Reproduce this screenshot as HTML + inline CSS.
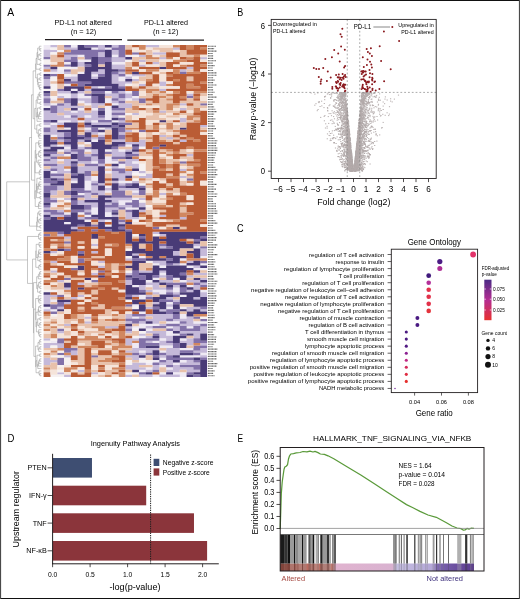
<!DOCTYPE html>
<html><head><meta charset="utf-8"><title>Figure</title>
<style>
html,body{margin:0;padding:0;background:#fff;}
svg{display:block;font-family:"Liberation Sans",sans-serif;will-change:transform;}
</style></head><body>
<svg width="520" height="599" viewBox="0 0 520 599">
<rect width="520" height="599" fill="#ffffff"/>
<defs><filter id="hb" x="-2%" y="-2%" width="104%" height="104%"><feGaussianBlur stdDeviation="0.45"/></filter></defs>
<g filter="url(#hb)">
<path fill="#efeaf4" d="M43.6 45h6.86v4.9h-6.86zM43.6 71.66h6.86v2.47h-6.86zM43.6 105.58h6.86v2.47h-6.86zM43.6 124.97h6.86v2.47h-6.86zM43.6 306.72h6.86v2.47h-6.86zM50.41 71.66h6.86v2.47h-6.86zM50.41 98.31h6.86v2.47h-6.86zM50.41 103.16h6.86v2.47h-6.86zM50.41 122.55h6.86v2.47h-6.86zM50.41 134.66h6.86v2.47h-6.86zM50.41 171.01h6.86v2.47h-6.86zM50.41 202.52h6.86v4.9h-6.86zM50.41 299.45h6.86v2.47h-6.86zM50.41 309.15h6.86v2.47h-6.86zM50.41 340.65h6.86v2.47h-6.86zM57.22 69.23h6.86v4.9h-6.86zM57.22 93.47h6.86v2.47h-6.86zM57.22 120.12h6.86v2.47h-6.86zM57.22 144.36h6.86v2.47h-6.86zM57.22 149.2h6.86v2.47h-6.86zM57.22 158.9h6.86v2.47h-6.86zM64.03 61.96h6.86v2.47h-6.86zM64.03 83.77h6.86v2.47h-6.86zM64.03 93.47h6.86v4.9h-6.86zM64.03 115.28h6.86v2.47h-6.86zM64.03 120.12h6.86v2.47h-6.86zM64.03 127.39h6.86v2.47h-6.86zM64.03 146.78h6.86v2.47h-6.86zM64.03 154.05h6.86v2.47h-6.86zM64.03 168.59h6.86v2.47h-6.86zM64.03 212.21h6.86v2.47h-6.86zM64.03 221.91h6.86v2.47h-6.86zM70.83 45h6.86v2.47h-6.86zM70.83 66.81h6.86v2.47h-6.86zM70.83 74.08h6.86v2.47h-6.86zM70.83 88.62h6.86v2.47h-6.86zM70.83 110.43h6.86v2.47h-6.86zM70.83 180.71h6.86v2.47h-6.86zM77.64 54.69h6.86v2.47h-6.86zM77.64 59.54h6.86v2.47h-6.86zM77.64 71.66h6.86v2.47h-6.86zM77.64 93.47h6.86v4.9h-6.86zM77.64 100.74h6.86v2.47h-6.86zM77.64 108.01h6.86v2.47h-6.86zM77.64 120.12h6.86v2.47h-6.86zM77.64 144.36h6.86v2.47h-6.86zM77.64 192.82h6.86v2.47h-6.86zM77.64 212.21h6.86v2.47h-6.86zM84.45 59.54h6.86v2.47h-6.86zM84.45 95.89h6.86v2.47h-6.86zM84.45 103.16h6.86v2.47h-6.86zM84.45 115.28h6.86v2.47h-6.86zM84.45 127.39h6.86v2.47h-6.86zM84.45 141.93h6.86v2.47h-6.86zM84.45 149.2h6.86v2.47h-6.86zM84.45 180.71h6.86v9.74h-6.86zM84.45 214.64h6.86v2.47h-6.86zM84.45 219.48h6.86v2.47h-6.86zM91.26 47.42h6.86v2.47h-6.86zM91.26 74.08h6.86v2.47h-6.86zM91.26 108.01h6.86v2.47h-6.86zM91.26 120.12h6.86v2.47h-6.86zM91.26 139.51h6.86v2.47h-6.86zM91.26 161.32h6.86v2.47h-6.86zM91.26 175.86h6.86v4.9h-6.86zM91.26 207.36h6.86v7.32h-6.86zM98.07 86.2h6.86v2.47h-6.86zM98.07 127.39h6.86v2.47h-6.86zM98.07 132.24h6.86v2.47h-6.86zM104.88 47.42h6.86v2.47h-6.86zM104.88 91.04h6.86v2.47h-6.86zM104.88 98.31h6.86v4.9h-6.86zM104.88 105.58h6.86v14.59h-6.86zM104.88 149.2h6.86v2.47h-6.86zM104.88 156.47h6.86v7.32h-6.86zM104.88 166.17h6.86v2.47h-6.86zM104.88 171.01h6.86v2.47h-6.86zM104.88 185.55h6.86v2.47h-6.86zM104.88 190.4h6.86v2.47h-6.86zM104.88 212.21h6.86v4.9h-6.86zM104.88 219.48h6.86v2.47h-6.86zM104.88 224.33h6.86v2.47h-6.86zM111.68 54.69h6.86v2.47h-6.86zM111.68 61.96h6.86v2.47h-6.86zM111.68 103.16h6.86v2.47h-6.86zM111.68 120.12h6.86v2.47h-6.86zM111.68 161.32h6.86v2.47h-6.86zM118.49 61.96h6.86v2.47h-6.86zM118.49 76.5h6.86v4.9h-6.86zM118.49 115.28h6.86v2.47h-6.86zM118.49 149.2h6.86v2.47h-6.86zM118.49 163.74h6.86v4.9h-6.86zM118.49 180.71h6.86v2.47h-6.86zM118.49 200.09h6.86v4.9h-6.86zM125.3 54.69h6.86v2.47h-6.86zM125.3 74.08h6.86v2.47h-6.86zM125.3 91.04h6.86v2.47h-6.86zM125.3 98.31h6.86v2.47h-6.86zM125.3 144.36h6.86v2.47h-6.86zM125.3 180.71h6.86v2.47h-6.86zM125.3 200.09h6.86v2.47h-6.86zM125.3 207.36h6.86v2.47h-6.86zM132.11 95.89h6.86v2.47h-6.86zM132.11 161.32h6.86v2.47h-6.86zM132.11 171.01h6.86v2.47h-6.86zM132.11 190.4h6.86v2.47h-6.86zM132.11 197.67h6.86v2.47h-6.86zM132.11 207.36h6.86v2.47h-6.86zM132.11 284.91h6.86v2.47h-6.86zM132.11 304.3h6.86v2.47h-6.86zM132.11 316.42h6.86v2.47h-6.86zM132.11 326.11h6.86v2.47h-6.86zM132.11 343.07h6.86v4.9h-6.86zM132.11 372.15h6.86v2.47h-6.86zM138.92 255.83h6.86v2.47h-6.86zM138.92 294.61h6.86v4.9h-6.86zM138.92 311.57h6.86v2.47h-6.86zM138.92 323.69h6.86v4.9h-6.86zM138.92 335.8h6.86v2.47h-6.86zM138.92 350.34h6.86v2.47h-6.86zM138.92 357.61h6.86v2.47h-6.86zM138.92 369.73h6.86v2.47h-6.86zM145.72 280.07h6.86v2.47h-6.86zM145.72 284.91h6.86v2.47h-6.86zM145.72 323.69h6.86v2.47h-6.86zM145.72 328.53h6.86v2.47h-6.86zM145.72 362.46h6.86v2.47h-6.86zM145.72 367.31h6.86v2.47h-6.86zM152.53 263.1h6.86v2.47h-6.86zM152.53 277.64h6.86v2.47h-6.86zM152.53 289.76h6.86v2.47h-6.86zM152.53 323.69h6.86v2.47h-6.86zM152.53 340.65h6.86v2.47h-6.86zM152.53 360.04h6.86v2.47h-6.86zM152.53 374.58h6.86v2.47h-6.86zM159.34 265.53h6.86v2.47h-6.86zM159.34 272.8h6.86v2.47h-6.86zM159.34 289.76h6.86v4.9h-6.86zM159.34 338.23h6.86v2.47h-6.86zM159.34 345.5h6.86v2.47h-6.86zM159.34 350.34h6.86v2.47h-6.86zM159.34 357.61h6.86v2.47h-6.86zM159.34 364.88h6.86v2.47h-6.86zM159.34 372.15h6.86v2.47h-6.86zM166.15 301.88h6.86v2.47h-6.86zM166.15 306.72h6.86v2.47h-6.86zM166.15 321.26h6.86v2.47h-6.86zM166.15 326.11h6.86v2.47h-6.86zM166.15 330.96h6.86v4.9h-6.86zM166.15 345.5h6.86v2.47h-6.86zM166.15 367.31h6.86v2.47h-6.86zM172.96 277.64h6.86v2.47h-6.86zM172.96 287.34h6.86v4.9h-6.86zM172.96 321.26h6.86v2.47h-6.86zM172.96 333.38h6.86v2.47h-6.86zM172.96 362.46h6.86v2.47h-6.86zM172.96 372.15h6.86v2.47h-6.86zM179.77 258.26h6.86v2.47h-6.86zM179.77 263.1h6.86v2.47h-6.86zM179.77 280.07h6.86v2.47h-6.86zM179.77 294.61h6.86v2.47h-6.86zM179.77 306.72h6.86v2.47h-6.86zM179.77 313.99h6.86v4.9h-6.86zM179.77 338.23h6.86v2.47h-6.86zM179.77 347.92h6.86v2.47h-6.86zM179.77 355.19h6.86v2.47h-6.86zM179.77 360.04h6.86v2.47h-6.86zM179.77 372.15h6.86v4.9h-6.86zM186.57 265.53h6.86v2.47h-6.86zM186.57 284.91h6.86v2.47h-6.86zM186.57 326.11h6.86v2.47h-6.86zM186.57 347.92h6.86v2.47h-6.86zM186.57 355.19h6.86v2.47h-6.86zM193.38 246.14h6.86v2.47h-6.86zM193.38 267.95h6.86v2.47h-6.86zM193.38 321.26h6.86v2.47h-6.86zM193.38 355.19h6.86v2.47h-6.86zM200.19 255.83h6.86v2.47h-6.86zM200.19 263.1h6.86v2.47h-6.86zM200.19 267.95h6.86v2.47h-6.86zM200.19 289.76h6.86v2.47h-6.86zM200.19 321.26h6.86v2.47h-6.86zM200.19 352.77h6.86v2.47h-6.86z"/>
<path fill="#c5b9d9" d="M43.6 49.85h6.86v7.32h-6.86zM43.6 66.81h6.86v2.47h-6.86zM43.6 78.93h6.86v7.32h-6.86zM43.6 95.89h6.86v2.47h-6.86zM43.6 103.16h6.86v2.47h-6.86zM43.6 110.43h6.86v9.74h-6.86zM43.6 122.55h6.86v2.47h-6.86zM43.6 132.24h6.86v2.47h-6.86zM43.6 146.78h6.86v2.47h-6.86zM43.6 156.47h6.86v2.47h-6.86zM43.6 161.32h6.86v2.47h-6.86zM43.6 168.59h6.86v2.47h-6.86zM43.6 183.13h6.86v2.47h-6.86zM43.6 207.36h6.86v2.47h-6.86zM43.6 212.21h6.86v2.47h-6.86zM43.6 294.61h6.86v9.74h-6.86zM43.6 309.15h6.86v2.47h-6.86zM43.6 338.23h6.86v2.47h-6.86zM43.6 343.07h6.86v4.9h-6.86zM43.6 357.61h6.86v7.32h-6.86zM50.41 45h6.86v2.47h-6.86zM50.41 49.85h6.86v2.47h-6.86zM50.41 69.23h6.86v2.47h-6.86zM50.41 112.85h6.86v7.32h-6.86zM50.41 124.97h6.86v9.74h-6.86zM50.41 144.36h6.86v2.47h-6.86zM50.41 154.05h6.86v2.47h-6.86zM50.41 158.9h6.86v4.9h-6.86zM50.41 166.17h6.86v2.47h-6.86zM50.41 175.86h6.86v2.47h-6.86zM50.41 190.4h6.86v4.9h-6.86zM50.41 197.67h6.86v2.47h-6.86zM50.41 214.64h6.86v2.47h-6.86zM50.41 250.99h6.86v2.47h-6.86zM50.41 260.68h6.86v2.47h-6.86zM50.41 270.37h6.86v2.47h-6.86zM50.41 294.61h6.86v2.47h-6.86zM50.41 343.07h6.86v2.47h-6.86zM50.41 360.04h6.86v2.47h-6.86zM57.22 91.04h6.86v2.47h-6.86zM57.22 95.89h6.86v2.47h-6.86zM57.22 105.58h6.86v7.32h-6.86zM57.22 115.28h6.86v4.9h-6.86zM57.22 122.55h6.86v2.47h-6.86zM57.22 132.24h6.86v4.9h-6.86zM57.22 139.51h6.86v2.47h-6.86zM57.22 154.05h6.86v2.47h-6.86zM57.22 163.74h6.86v9.74h-6.86zM57.22 175.86h6.86v2.47h-6.86zM57.22 185.55h6.86v4.9h-6.86zM57.22 209.79h6.86v2.47h-6.86zM57.22 214.64h6.86v2.47h-6.86zM57.22 234.02h6.86v2.47h-6.86zM57.22 280.07h6.86v2.47h-6.86zM57.22 306.72h6.86v2.47h-6.86zM57.22 330.96h6.86v2.47h-6.86zM57.22 343.07h6.86v4.9h-6.86zM57.22 372.15h6.86v2.47h-6.86zM64.03 47.42h6.86v2.47h-6.86zM64.03 54.69h6.86v4.9h-6.86zM64.03 71.66h6.86v2.47h-6.86zM64.03 76.5h6.86v2.47h-6.86zM64.03 91.04h6.86v2.47h-6.86zM64.03 103.16h6.86v4.9h-6.86zM64.03 110.43h6.86v4.9h-6.86zM64.03 117.7h6.86v2.47h-6.86zM64.03 144.36h6.86v2.47h-6.86zM64.03 149.2h6.86v2.47h-6.86zM64.03 158.9h6.86v7.32h-6.86zM64.03 171.01h6.86v2.47h-6.86zM64.03 197.67h6.86v2.47h-6.86zM64.03 236.45h6.86v2.47h-6.86zM64.03 287.34h6.86v2.47h-6.86zM64.03 301.88h6.86v2.47h-6.86zM64.03 323.69h6.86v2.47h-6.86zM64.03 355.19h6.86v2.47h-6.86zM64.03 374.58h6.86v2.47h-6.86zM70.83 47.42h6.86v2.47h-6.86zM70.83 54.69h6.86v2.47h-6.86zM70.83 76.5h6.86v4.9h-6.86zM70.83 93.47h6.86v4.9h-6.86zM70.83 105.58h6.86v2.47h-6.86zM70.83 112.85h6.86v2.47h-6.86zM70.83 117.7h6.86v4.9h-6.86zM70.83 151.63h6.86v2.47h-6.86zM70.83 158.9h6.86v2.47h-6.86zM70.83 178.28h6.86v2.47h-6.86zM70.83 226.75h6.86v2.47h-6.86zM70.83 297.03h6.86v2.47h-6.86zM70.83 350.34h6.86v4.9h-6.86zM77.64 61.96h6.86v4.9h-6.86zM77.64 91.04h6.86v2.47h-6.86zM77.64 98.31h6.86v2.47h-6.86zM77.64 105.58h6.86v2.47h-6.86zM77.64 110.43h6.86v7.32h-6.86zM77.64 139.51h6.86v2.47h-6.86zM77.64 146.78h6.86v2.47h-6.86zM77.64 161.32h6.86v2.47h-6.86zM77.64 166.17h6.86v7.32h-6.86zM77.64 200.09h6.86v4.9h-6.86zM77.64 217.06h6.86v2.47h-6.86zM77.64 282.49h6.86v2.47h-6.86zM77.64 294.61h6.86v2.47h-6.86zM77.64 369.73h6.86v2.47h-6.86zM84.45 88.62h6.86v2.47h-6.86zM84.45 98.31h6.86v4.9h-6.86zM84.45 112.85h6.86v2.47h-6.86zM84.45 117.7h6.86v4.9h-6.86zM84.45 129.82h6.86v2.47h-6.86zM84.45 154.05h6.86v2.47h-6.86zM84.45 161.32h6.86v2.47h-6.86zM84.45 166.17h6.86v4.9h-6.86zM84.45 175.86h6.86v4.9h-6.86zM84.45 192.82h6.86v7.32h-6.86zM84.45 202.52h6.86v2.47h-6.86zM84.45 209.79h6.86v2.47h-6.86zM84.45 316.42h6.86v2.47h-6.86zM84.45 321.26h6.86v2.47h-6.86zM91.26 71.66h6.86v2.47h-6.86zM91.26 76.5h6.86v2.47h-6.86zM91.26 86.2h6.86v2.47h-6.86zM91.26 103.16h6.86v4.9h-6.86zM91.26 110.43h6.86v9.74h-6.86zM91.26 122.55h6.86v2.47h-6.86zM91.26 132.24h6.86v2.47h-6.86zM91.26 137.09h6.86v2.47h-6.86zM91.26 149.2h6.86v4.9h-6.86zM91.26 156.47h6.86v4.9h-6.86zM91.26 166.17h6.86v4.9h-6.86zM91.26 180.71h6.86v2.47h-6.86zM91.26 185.55h6.86v7.32h-6.86zM91.26 197.67h6.86v2.47h-6.86zM91.26 202.52h6.86v4.9h-6.86zM91.26 243.72h6.86v2.47h-6.86zM91.26 250.99h6.86v2.47h-6.86zM91.26 272.8h6.86v2.47h-6.86zM91.26 372.15h6.86v2.47h-6.86zM98.07 45h6.86v4.9h-6.86zM98.07 52.27h6.86v4.9h-6.86zM98.07 69.23h6.86v4.9h-6.86zM98.07 103.16h6.86v2.47h-6.86zM98.07 117.7h6.86v2.47h-6.86zM98.07 122.55h6.86v2.47h-6.86zM98.07 134.66h6.86v2.47h-6.86zM98.07 163.74h6.86v2.47h-6.86zM98.07 183.13h6.86v2.47h-6.86zM98.07 190.4h6.86v4.9h-6.86zM98.07 219.48h6.86v2.47h-6.86zM98.07 260.68h6.86v2.47h-6.86zM98.07 265.53h6.86v2.47h-6.86zM104.88 93.47h6.86v2.47h-6.86zM104.88 122.55h6.86v2.47h-6.86zM104.88 127.39h6.86v2.47h-6.86zM104.88 187.98h6.86v2.47h-6.86zM104.88 197.67h6.86v2.47h-6.86zM104.88 202.52h6.86v2.47h-6.86zM104.88 207.36h6.86v4.9h-6.86zM104.88 326.11h6.86v2.47h-6.86zM111.68 45h6.86v2.47h-6.86zM111.68 49.85h6.86v4.9h-6.86zM111.68 57.12h6.86v4.9h-6.86zM111.68 64.39h6.86v4.9h-6.86zM111.68 74.08h6.86v9.74h-6.86zM111.68 93.47h6.86v4.9h-6.86zM111.68 100.74h6.86v2.47h-6.86zM111.68 110.43h6.86v2.47h-6.86zM111.68 115.28h6.86v2.47h-6.86zM111.68 139.51h6.86v2.47h-6.86zM111.68 149.2h6.86v7.32h-6.86zM111.68 158.9h6.86v2.47h-6.86zM111.68 166.17h6.86v2.47h-6.86zM111.68 171.01h6.86v7.32h-6.86zM111.68 180.71h6.86v2.47h-6.86zM111.68 197.67h6.86v4.9h-6.86zM111.68 207.36h6.86v2.47h-6.86zM111.68 214.64h6.86v2.47h-6.86zM111.68 326.11h6.86v2.47h-6.86zM118.49 57.12h6.86v4.9h-6.86zM118.49 64.39h6.86v4.9h-6.86zM118.49 71.66h6.86v2.47h-6.86zM118.49 81.35h6.86v4.9h-6.86zM118.49 91.04h6.86v2.47h-6.86zM118.49 98.31h6.86v2.47h-6.86zM118.49 103.16h6.86v4.9h-6.86zM118.49 110.43h6.86v2.47h-6.86zM118.49 120.12h6.86v2.47h-6.86zM118.49 132.24h6.86v2.47h-6.86zM118.49 139.51h6.86v2.47h-6.86zM118.49 151.63h6.86v4.9h-6.86zM118.49 173.44h6.86v7.32h-6.86zM118.49 183.13h6.86v2.47h-6.86zM118.49 187.98h6.86v2.47h-6.86zM118.49 197.67h6.86v2.47h-6.86zM118.49 204.94h6.86v2.47h-6.86zM118.49 221.91h6.86v2.47h-6.86zM125.3 76.5h6.86v2.47h-6.86zM125.3 81.35h6.86v2.47h-6.86zM125.3 93.47h6.86v4.9h-6.86zM125.3 103.16h6.86v4.9h-6.86zM125.3 129.82h6.86v2.47h-6.86zM125.3 141.93h6.86v2.47h-6.86zM125.3 149.2h6.86v2.47h-6.86zM125.3 158.9h6.86v7.32h-6.86zM125.3 171.01h6.86v4.9h-6.86zM125.3 187.98h6.86v2.47h-6.86zM125.3 197.67h6.86v2.47h-6.86zM125.3 204.94h6.86v2.47h-6.86zM125.3 212.21h6.86v7.32h-6.86zM125.3 258.26h6.86v2.47h-6.86zM125.3 272.8h6.86v2.47h-6.86zM125.3 280.07h6.86v4.9h-6.86zM125.3 313.99h6.86v4.9h-6.86zM125.3 321.26h6.86v2.47h-6.86zM125.3 326.11h6.86v2.47h-6.86zM125.3 330.96h6.86v2.47h-6.86zM125.3 338.23h6.86v7.32h-6.86zM125.3 350.34h6.86v2.47h-6.86zM125.3 355.19h6.86v2.47h-6.86zM125.3 364.88h6.86v4.9h-6.86zM125.3 374.58h6.86v2.47h-6.86zM132.11 74.08h6.86v2.47h-6.86zM132.11 78.93h6.86v2.47h-6.86zM132.11 98.31h6.86v2.47h-6.86zM132.11 112.85h6.86v2.47h-6.86zM132.11 141.93h6.86v2.47h-6.86zM132.11 151.63h6.86v2.47h-6.86zM132.11 158.9h6.86v2.47h-6.86zM132.11 163.74h6.86v4.9h-6.86zM132.11 180.71h6.86v2.47h-6.86zM132.11 187.98h6.86v2.47h-6.86zM132.11 192.82h6.86v2.47h-6.86zM132.11 217.06h6.86v2.47h-6.86zM132.11 253.41h6.86v2.47h-6.86zM132.11 294.61h6.86v2.47h-6.86zM132.11 338.23h6.86v2.47h-6.86zM132.11 347.92h6.86v4.9h-6.86zM132.11 355.19h6.86v4.9h-6.86zM132.11 362.46h6.86v7.32h-6.86zM138.92 54.69h6.86v2.47h-6.86zM138.92 59.54h6.86v2.47h-6.86zM138.92 64.39h6.86v2.47h-6.86zM138.92 74.08h6.86v2.47h-6.86zM138.92 83.77h6.86v2.47h-6.86zM138.92 139.51h6.86v7.32h-6.86zM138.92 171.01h6.86v2.47h-6.86zM138.92 175.86h6.86v2.47h-6.86zM138.92 197.67h6.86v2.47h-6.86zM138.92 202.52h6.86v4.9h-6.86zM138.92 209.79h6.86v2.47h-6.86zM138.92 270.37h6.86v2.47h-6.86zM138.92 284.91h6.86v4.9h-6.86zM138.92 316.42h6.86v2.47h-6.86zM138.92 321.26h6.86v2.47h-6.86zM138.92 333.38h6.86v2.47h-6.86zM138.92 347.92h6.86v2.47h-6.86zM138.92 352.77h6.86v2.47h-6.86zM138.92 362.46h6.86v2.47h-6.86zM138.92 367.31h6.86v2.47h-6.86zM138.92 374.58h6.86v2.47h-6.86zM145.72 45h6.86v2.47h-6.86zM145.72 173.44h6.86v4.9h-6.86zM145.72 270.37h6.86v2.47h-6.86zM145.72 282.49h6.86v2.47h-6.86zM145.72 289.76h6.86v2.47h-6.86zM145.72 294.61h6.86v2.47h-6.86zM145.72 306.72h6.86v2.47h-6.86zM145.72 313.99h6.86v2.47h-6.86zM145.72 318.84h6.86v2.47h-6.86zM145.72 326.11h6.86v2.47h-6.86zM145.72 330.96h6.86v2.47h-6.86zM145.72 335.8h6.86v2.47h-6.86zM145.72 340.65h6.86v2.47h-6.86zM145.72 347.92h6.86v4.9h-6.86zM145.72 369.73h6.86v2.47h-6.86zM145.72 374.58h6.86v2.47h-6.86zM152.53 45h6.86v2.47h-6.86zM152.53 52.27h6.86v2.47h-6.86zM152.53 61.96h6.86v2.47h-6.86zM152.53 231.6h6.86v2.47h-6.86zM152.53 260.68h6.86v2.47h-6.86zM152.53 282.49h6.86v7.32h-6.86zM152.53 292.18h6.86v2.47h-6.86zM152.53 301.88h6.86v2.47h-6.86zM152.53 313.99h6.86v9.74h-6.86zM152.53 330.96h6.86v2.47h-6.86zM152.53 347.92h6.86v2.47h-6.86zM152.53 364.88h6.86v4.9h-6.86zM159.34 52.27h6.86v2.47h-6.86zM159.34 57.12h6.86v2.47h-6.86zM159.34 81.35h6.86v4.9h-6.86zM159.34 88.62h6.86v2.47h-6.86zM159.34 110.43h6.86v2.47h-6.86zM159.34 134.66h6.86v2.47h-6.86zM159.34 192.82h6.86v2.47h-6.86zM159.34 214.64h6.86v2.47h-6.86zM159.34 234.02h6.86v2.47h-6.86zM159.34 246.14h6.86v2.47h-6.86zM159.34 260.68h6.86v4.9h-6.86zM159.34 270.37h6.86v2.47h-6.86zM159.34 275.22h6.86v2.47h-6.86zM159.34 280.07h6.86v2.47h-6.86zM159.34 287.34h6.86v2.47h-6.86zM159.34 309.15h6.86v2.47h-6.86zM159.34 313.99h6.86v7.32h-6.86zM159.34 323.69h6.86v2.47h-6.86zM159.34 330.96h6.86v7.32h-6.86zM159.34 340.65h6.86v4.9h-6.86zM159.34 355.19h6.86v2.47h-6.86zM159.34 362.46h6.86v2.47h-6.86zM159.34 374.58h6.86v2.47h-6.86zM166.15 137.09h6.86v2.47h-6.86zM166.15 280.07h6.86v2.47h-6.86zM166.15 289.76h6.86v2.47h-6.86zM166.15 297.03h6.86v2.47h-6.86zM166.15 304.3h6.86v2.47h-6.86zM166.15 313.99h6.86v4.9h-6.86zM166.15 335.8h6.86v4.9h-6.86zM166.15 343.07h6.86v2.47h-6.86zM166.15 347.92h6.86v7.32h-6.86zM166.15 360.04h6.86v4.9h-6.86zM166.15 369.73h6.86v2.47h-6.86zM166.15 374.58h6.86v2.47h-6.86zM172.96 47.42h6.86v2.47h-6.86zM172.96 250.99h6.86v4.9h-6.86zM172.96 263.1h6.86v2.47h-6.86zM172.96 284.91h6.86v2.47h-6.86zM172.96 292.18h6.86v2.47h-6.86zM172.96 299.45h6.86v2.47h-6.86zM172.96 318.84h6.86v2.47h-6.86zM172.96 326.11h6.86v4.9h-6.86zM172.96 347.92h6.86v7.32h-6.86zM172.96 364.88h6.86v7.32h-6.86zM172.96 374.58h6.86v2.47h-6.86zM179.77 69.23h6.86v2.47h-6.86zM179.77 103.16h6.86v2.47h-6.86zM179.77 108.01h6.86v2.47h-6.86zM179.77 117.7h6.86v4.9h-6.86zM179.77 139.51h6.86v2.47h-6.86zM179.77 168.59h6.86v2.47h-6.86zM179.77 175.86h6.86v2.47h-6.86zM179.77 217.06h6.86v2.47h-6.86zM179.77 318.84h6.86v2.47h-6.86zM179.77 323.69h6.86v2.47h-6.86zM179.77 330.96h6.86v2.47h-6.86zM179.77 340.65h6.86v2.47h-6.86zM179.77 362.46h6.86v2.47h-6.86zM179.77 367.31h6.86v2.47h-6.86zM186.57 66.81h6.86v2.47h-6.86zM186.57 93.47h6.86v2.47h-6.86zM186.57 154.05h6.86v2.47h-6.86zM186.57 260.68h6.86v2.47h-6.86zM186.57 275.22h6.86v2.47h-6.86zM186.57 280.07h6.86v2.47h-6.86zM186.57 289.76h6.86v2.47h-6.86zM186.57 306.72h6.86v4.9h-6.86zM186.57 316.42h6.86v9.74h-6.86zM186.57 330.96h6.86v2.47h-6.86zM186.57 338.23h6.86v7.32h-6.86zM186.57 360.04h6.86v4.9h-6.86zM186.57 367.31h6.86v4.9h-6.86zM193.38 243.72h6.86v2.47h-6.86zM193.38 265.53h6.86v2.47h-6.86zM193.38 272.8h6.86v2.47h-6.86zM193.38 280.07h6.86v2.47h-6.86zM193.38 284.91h6.86v4.9h-6.86zM193.38 297.03h6.86v2.47h-6.86zM193.38 306.72h6.86v2.47h-6.86zM193.38 323.69h6.86v2.47h-6.86zM193.38 330.96h6.86v7.32h-6.86zM193.38 350.34h6.86v2.47h-6.86zM193.38 362.46h6.86v2.47h-6.86zM193.38 369.73h6.86v2.47h-6.86zM200.19 57.12h6.86v2.47h-6.86zM200.19 124.97h6.86v2.47h-6.86zM200.19 248.56h6.86v7.32h-6.86zM200.19 272.8h6.86v2.47h-6.86zM200.19 277.64h6.86v2.47h-6.86zM200.19 282.49h6.86v2.47h-6.86zM200.19 292.18h6.86v4.9h-6.86zM200.19 309.15h6.86v2.47h-6.86zM200.19 326.11h6.86v7.32h-6.86zM200.19 343.07h6.86v2.47h-6.86zM200.19 347.92h6.86v4.9h-6.86zM200.19 355.19h6.86v2.47h-6.86z"/>
<path fill="#8271a9" d="M43.6 57.12h6.86v2.47h-6.86zM43.6 64.39h6.86v2.47h-6.86zM43.6 76.5h6.86v2.47h-6.86zM43.6 93.47h6.86v2.47h-6.86zM43.6 98.31h6.86v4.9h-6.86zM43.6 120.12h6.86v2.47h-6.86zM43.6 127.39h6.86v4.9h-6.86zM43.6 151.63h6.86v2.47h-6.86zM43.6 158.9h6.86v2.47h-6.86zM43.6 163.74h6.86v2.47h-6.86zM43.6 178.28h6.86v4.9h-6.86zM43.6 185.55h6.86v7.32h-6.86zM43.6 197.67h6.86v4.9h-6.86zM43.6 204.94h6.86v2.47h-6.86zM43.6 209.79h6.86v2.47h-6.86zM43.6 217.06h6.86v2.47h-6.86zM43.6 234.02h6.86v2.47h-6.86zM50.41 74.08h6.86v2.47h-6.86zM50.41 105.58h6.86v7.32h-6.86zM50.41 139.51h6.86v2.47h-6.86zM50.41 151.63h6.86v2.47h-6.86zM50.41 156.47h6.86v2.47h-6.86zM50.41 163.74h6.86v2.47h-6.86zM50.41 168.59h6.86v2.47h-6.86zM50.41 173.44h6.86v2.47h-6.86zM50.41 180.71h6.86v2.47h-6.86zM50.41 185.55h6.86v4.9h-6.86zM50.41 200.09h6.86v2.47h-6.86zM50.41 209.79h6.86v4.9h-6.86zM50.41 304.3h6.86v4.9h-6.86zM50.41 311.57h6.86v2.47h-6.86zM57.22 88.62h6.86v2.47h-6.86zM57.22 103.16h6.86v2.47h-6.86zM57.22 137.09h6.86v2.47h-6.86zM57.22 173.44h6.86v2.47h-6.86zM57.22 178.28h6.86v2.47h-6.86zM57.22 212.21h6.86v2.47h-6.86zM57.22 231.6h6.86v2.47h-6.86zM57.22 294.61h6.86v2.47h-6.86zM57.22 301.88h6.86v4.9h-6.86zM57.22 328.53h6.86v2.47h-6.86zM57.22 338.23h6.86v4.9h-6.86zM57.22 352.77h6.86v2.47h-6.86zM57.22 357.61h6.86v7.32h-6.86zM64.03 45h6.86v2.47h-6.86zM64.03 52.27h6.86v2.47h-6.86zM64.03 59.54h6.86v2.47h-6.86zM64.03 64.39h6.86v2.47h-6.86zM64.03 69.23h6.86v2.47h-6.86zM64.03 81.35h6.86v2.47h-6.86zM64.03 98.31h6.86v4.9h-6.86zM64.03 132.24h6.86v4.9h-6.86zM64.03 139.51h6.86v2.47h-6.86zM64.03 151.63h6.86v2.47h-6.86zM64.03 190.4h6.86v4.9h-6.86zM64.03 214.64h6.86v2.47h-6.86zM64.03 241.29h6.86v2.47h-6.86zM64.03 248.56h6.86v2.47h-6.86zM64.03 277.64h6.86v2.47h-6.86zM64.03 347.92h6.86v4.9h-6.86zM70.83 49.85h6.86v4.9h-6.86zM70.83 57.12h6.86v4.9h-6.86zM70.83 81.35h6.86v2.47h-6.86zM70.83 115.28h6.86v2.47h-6.86zM70.83 149.2h6.86v2.47h-6.86zM70.83 163.74h6.86v2.47h-6.86zM70.83 173.44h6.86v2.47h-6.86zM70.83 187.98h6.86v2.47h-6.86zM70.83 195.25h6.86v2.47h-6.86zM70.83 200.09h6.86v4.9h-6.86zM70.83 209.79h6.86v2.47h-6.86zM70.83 267.95h6.86v2.47h-6.86zM70.83 347.92h6.86v2.47h-6.86zM77.64 49.85h6.86v4.9h-6.86zM77.64 81.35h6.86v4.9h-6.86zM77.64 134.66h6.86v2.47h-6.86zM77.64 149.2h6.86v12.17h-6.86zM77.64 187.98h6.86v4.9h-6.86zM77.64 195.25h6.86v2.47h-6.86zM77.64 209.79h6.86v2.47h-6.86zM77.64 224.33h6.86v2.47h-6.86zM77.64 229.18h6.86v2.47h-6.86zM77.64 250.99h6.86v2.47h-6.86zM77.64 258.26h6.86v4.9h-6.86zM84.45 45h6.86v2.47h-6.86zM84.45 49.85h6.86v9.74h-6.86zM84.45 64.39h6.86v2.47h-6.86zM84.45 81.35h6.86v2.47h-6.86zM84.45 93.47h6.86v2.47h-6.86zM84.45 124.97h6.86v2.47h-6.86zM84.45 137.09h6.86v2.47h-6.86zM84.45 146.78h6.86v2.47h-6.86zM84.45 156.47h6.86v4.9h-6.86zM84.45 163.74h6.86v2.47h-6.86zM84.45 171.01h6.86v4.9h-6.86zM84.45 190.4h6.86v2.47h-6.86zM84.45 204.94h6.86v4.9h-6.86zM84.45 212.21h6.86v2.47h-6.86zM84.45 217.06h6.86v2.47h-6.86zM91.26 45h6.86v2.47h-6.86zM91.26 49.85h6.86v7.32h-6.86zM91.26 91.04h6.86v2.47h-6.86zM91.26 95.89h6.86v7.32h-6.86zM91.26 127.39h6.86v4.9h-6.86zM91.26 154.05h6.86v2.47h-6.86zM91.26 163.74h6.86v2.47h-6.86zM91.26 183.13h6.86v2.47h-6.86zM91.26 192.82h6.86v2.47h-6.86zM91.26 217.06h6.86v2.47h-6.86zM91.26 224.33h6.86v2.47h-6.86zM91.26 229.18h6.86v2.47h-6.86zM91.26 280.07h6.86v2.47h-6.86zM91.26 355.19h6.86v2.47h-6.86zM98.07 49.85h6.86v2.47h-6.86zM98.07 57.12h6.86v7.32h-6.86zM98.07 74.08h6.86v2.47h-6.86zM98.07 91.04h6.86v2.47h-6.86zM98.07 108.01h6.86v2.47h-6.86zM98.07 115.28h6.86v2.47h-6.86zM98.07 120.12h6.86v2.47h-6.86zM98.07 137.09h6.86v2.47h-6.86zM98.07 158.9h6.86v4.9h-6.86zM98.07 270.37h6.86v2.47h-6.86zM104.88 57.12h6.86v4.9h-6.86zM104.88 86.2h6.86v2.47h-6.86zM104.88 120.12h6.86v2.47h-6.86zM104.88 151.63h6.86v2.47h-6.86zM104.88 204.94h6.86v2.47h-6.86zM104.88 229.18h6.86v2.47h-6.86zM111.68 47.42h6.86v2.47h-6.86zM111.68 71.66h6.86v2.47h-6.86zM111.68 91.04h6.86v2.47h-6.86zM111.68 98.31h6.86v2.47h-6.86zM111.68 108.01h6.86v2.47h-6.86zM111.68 112.85h6.86v2.47h-6.86zM111.68 124.97h6.86v2.47h-6.86zM111.68 146.78h6.86v2.47h-6.86zM111.68 156.47h6.86v2.47h-6.86zM111.68 168.59h6.86v2.47h-6.86zM111.68 190.4h6.86v7.32h-6.86zM111.68 202.52h6.86v4.9h-6.86zM111.68 209.79h6.86v2.47h-6.86zM118.49 45h6.86v12.17h-6.86zM118.49 69.23h6.86v2.47h-6.86zM118.49 74.08h6.86v2.47h-6.86zM118.49 86.2h6.86v2.47h-6.86zM118.49 93.47h6.86v4.9h-6.86zM118.49 100.74h6.86v2.47h-6.86zM118.49 108.01h6.86v2.47h-6.86zM118.49 112.85h6.86v2.47h-6.86zM118.49 117.7h6.86v2.47h-6.86zM118.49 122.55h6.86v2.47h-6.86zM118.49 127.39h6.86v4.9h-6.86zM118.49 134.66h6.86v4.9h-6.86zM118.49 144.36h6.86v2.47h-6.86zM118.49 156.47h6.86v2.47h-6.86zM118.49 161.32h6.86v2.47h-6.86zM118.49 168.59h6.86v4.9h-6.86zM118.49 185.55h6.86v2.47h-6.86zM118.49 190.4h6.86v7.32h-6.86zM118.49 207.36h6.86v2.47h-6.86zM118.49 219.48h6.86v2.47h-6.86zM118.49 226.75h6.86v2.47h-6.86zM125.3 122.55h6.86v2.47h-6.86zM125.3 154.05h6.86v2.47h-6.86zM125.3 183.13h6.86v2.47h-6.86zM125.3 195.25h6.86v2.47h-6.86zM125.3 202.52h6.86v2.47h-6.86zM125.3 209.79h6.86v2.47h-6.86zM125.3 229.18h6.86v2.47h-6.86zM125.3 277.64h6.86v2.47h-6.86zM125.3 294.61h6.86v2.47h-6.86zM125.3 304.3h6.86v2.47h-6.86zM125.3 318.84h6.86v2.47h-6.86zM125.3 328.53h6.86v2.47h-6.86zM132.11 52.27h6.86v2.47h-6.86zM132.11 91.04h6.86v4.9h-6.86zM132.11 146.78h6.86v2.47h-6.86zM132.11 154.05h6.86v2.47h-6.86zM132.11 200.09h6.86v7.32h-6.86zM132.11 258.26h6.86v2.47h-6.86zM132.11 270.37h6.86v7.32h-6.86zM132.11 313.99h6.86v2.47h-6.86zM132.11 318.84h6.86v4.9h-6.86zM132.11 352.77h6.86v2.47h-6.86zM138.92 98.31h6.86v4.9h-6.86zM138.92 129.82h6.86v2.47h-6.86zM138.92 185.55h6.86v2.47h-6.86zM138.92 190.4h6.86v4.9h-6.86zM138.92 236.45h6.86v2.47h-6.86zM138.92 258.26h6.86v2.47h-6.86zM138.92 275.22h6.86v4.9h-6.86zM138.92 289.76h6.86v2.47h-6.86zM138.92 313.99h6.86v2.47h-6.86zM138.92 318.84h6.86v2.47h-6.86zM138.92 338.23h6.86v9.74h-6.86zM138.92 372.15h6.86v2.47h-6.86zM145.72 297.03h6.86v2.47h-6.86zM145.72 338.23h6.86v2.47h-6.86zM145.72 343.07h6.86v2.47h-6.86zM145.72 352.77h6.86v2.47h-6.86zM152.53 146.78h6.86v2.47h-6.86zM152.53 226.75h6.86v2.47h-6.86zM152.53 275.22h6.86v2.47h-6.86zM152.53 306.72h6.86v2.47h-6.86zM152.53 326.11h6.86v2.47h-6.86zM152.53 333.38h6.86v2.47h-6.86zM152.53 338.23h6.86v2.47h-6.86zM152.53 343.07h6.86v2.47h-6.86zM152.53 355.19h6.86v2.47h-6.86zM152.53 362.46h6.86v2.47h-6.86zM152.53 369.73h6.86v2.47h-6.86zM159.34 243.72h6.86v2.47h-6.86zM159.34 299.45h6.86v2.47h-6.86zM159.34 326.11h6.86v2.47h-6.86zM159.34 352.77h6.86v2.47h-6.86zM159.34 360.04h6.86v2.47h-6.86zM166.15 246.14h6.86v2.47h-6.86zM166.15 258.26h6.86v2.47h-6.86zM166.15 263.1h6.86v2.47h-6.86zM166.15 275.22h6.86v4.9h-6.86zM166.15 282.49h6.86v2.47h-6.86zM166.15 287.34h6.86v2.47h-6.86zM166.15 292.18h6.86v2.47h-6.86zM166.15 299.45h6.86v2.47h-6.86zM166.15 309.15h6.86v4.9h-6.86zM166.15 318.84h6.86v2.47h-6.86zM166.15 323.69h6.86v2.47h-6.86zM166.15 328.53h6.86v2.47h-6.86zM166.15 340.65h6.86v2.47h-6.86zM166.15 355.19h6.86v4.9h-6.86zM166.15 364.88h6.86v2.47h-6.86zM172.96 282.49h6.86v2.47h-6.86zM172.96 294.61h6.86v2.47h-6.86zM172.96 301.88h6.86v2.47h-6.86zM172.96 309.15h6.86v2.47h-6.86zM172.96 313.99h6.86v4.9h-6.86zM172.96 323.69h6.86v2.47h-6.86zM172.96 343.07h6.86v4.9h-6.86zM172.96 357.61h6.86v2.47h-6.86zM179.77 71.66h6.86v2.47h-6.86zM179.77 161.32h6.86v2.47h-6.86zM179.77 272.8h6.86v2.47h-6.86zM179.77 282.49h6.86v2.47h-6.86zM179.77 287.34h6.86v4.9h-6.86zM179.77 321.26h6.86v2.47h-6.86zM179.77 326.11h6.86v4.9h-6.86zM179.77 333.38h6.86v2.47h-6.86zM179.77 350.34h6.86v2.47h-6.86zM179.77 357.61h6.86v2.47h-6.86zM179.77 364.88h6.86v2.47h-6.86zM186.57 95.89h6.86v2.47h-6.86zM186.57 178.28h6.86v2.47h-6.86zM186.57 328.53h6.86v2.47h-6.86zM186.57 350.34h6.86v2.47h-6.86zM186.57 357.61h6.86v2.47h-6.86zM186.57 364.88h6.86v2.47h-6.86zM186.57 372.15h6.86v2.47h-6.86zM193.38 238.87h6.86v2.47h-6.86zM193.38 282.49h6.86v2.47h-6.86zM193.38 316.42h6.86v2.47h-6.86zM193.38 326.11h6.86v4.9h-6.86zM193.38 338.23h6.86v4.9h-6.86zM193.38 345.5h6.86v4.9h-6.86zM193.38 352.77h6.86v2.47h-6.86zM193.38 360.04h6.86v2.47h-6.86zM193.38 364.88h6.86v4.9h-6.86zM193.38 374.58h6.86v2.47h-6.86zM200.19 103.16h6.86v2.47h-6.86zM200.19 236.45h6.86v2.47h-6.86zM200.19 246.14h6.86v2.47h-6.86zM200.19 260.68h6.86v2.47h-6.86zM200.19 284.91h6.86v2.47h-6.86zM200.19 306.72h6.86v2.47h-6.86zM200.19 318.84h6.86v2.47h-6.86zM200.19 323.69h6.86v2.47h-6.86zM200.19 340.65h6.86v2.47h-6.86zM200.19 345.5h6.86v2.47h-6.86zM200.19 357.61h6.86v2.47h-6.86z"/>
<path fill="#f6f1f1" d="M43.6 59.54h6.86v4.9h-6.86zM43.6 88.62h6.86v2.47h-6.86zM43.6 289.76h6.86v2.47h-6.86zM43.6 340.65h6.86v2.47h-6.86zM50.41 47.42h6.86v2.47h-6.86zM50.41 52.27h6.86v2.47h-6.86zM50.41 76.5h6.86v4.9h-6.86zM50.41 83.77h6.86v7.32h-6.86zM50.41 95.89h6.86v2.47h-6.86zM50.41 289.76h6.86v2.47h-6.86zM50.41 313.99h6.86v2.47h-6.86zM50.41 338.23h6.86v2.47h-6.86zM50.41 345.5h6.86v2.47h-6.86zM50.41 355.19h6.86v2.47h-6.86zM50.41 374.58h6.86v2.47h-6.86zM57.22 49.85h6.86v2.47h-6.86zM57.22 66.81h6.86v2.47h-6.86zM57.22 197.67h6.86v2.47h-6.86zM57.22 350.34h6.86v2.47h-6.86zM57.22 355.19h6.86v2.47h-6.86zM57.22 364.88h6.86v2.47h-6.86zM57.22 369.73h6.86v2.47h-6.86zM57.22 374.58h6.86v2.47h-6.86zM64.03 66.81h6.86v2.47h-6.86zM64.03 74.08h6.86v2.47h-6.86zM64.03 200.09h6.86v2.47h-6.86zM64.03 207.36h6.86v2.47h-6.86zM64.03 357.61h6.86v7.32h-6.86zM125.3 59.54h6.86v2.47h-6.86zM125.3 83.77h6.86v2.47h-6.86zM125.3 112.85h6.86v2.47h-6.86zM125.3 248.56h6.86v2.47h-6.86zM125.3 255.83h6.86v2.47h-6.86zM125.3 270.37h6.86v2.47h-6.86zM125.3 299.45h6.86v2.47h-6.86zM125.3 360.04h6.86v4.9h-6.86zM125.3 372.15h6.86v2.47h-6.86zM132.11 54.69h6.86v2.47h-6.86zM132.11 76.5h6.86v2.47h-6.86zM132.11 173.44h6.86v2.47h-6.86zM132.11 178.28h6.86v2.47h-6.86zM132.11 219.48h6.86v2.47h-6.86zM132.11 234.02h6.86v2.47h-6.86zM132.11 306.72h6.86v2.47h-6.86zM132.11 328.53h6.86v2.47h-6.86zM132.11 335.8h6.86v2.47h-6.86zM138.92 146.78h6.86v2.47h-6.86zM138.92 163.74h6.86v7.32h-6.86zM138.92 173.44h6.86v2.47h-6.86zM138.92 183.13h6.86v2.47h-6.86zM138.92 200.09h6.86v2.47h-6.86zM138.92 330.96h6.86v2.47h-6.86zM138.92 360.04h6.86v2.47h-6.86zM145.72 204.94h6.86v2.47h-6.86zM145.72 260.68h6.86v2.47h-6.86zM145.72 360.04h6.86v2.47h-6.86zM152.53 234.02h6.86v2.47h-6.86zM200.19 316.42h6.86v2.47h-6.86z"/>
<path fill="#d18760" d="M43.6 69.23h6.86v2.47h-6.86zM43.6 231.6h6.86v2.47h-6.86zM43.6 248.56h6.86v2.47h-6.86zM43.6 260.68h6.86v2.47h-6.86zM43.6 272.8h6.86v2.47h-6.86zM43.6 280.07h6.86v2.47h-6.86zM43.6 313.99h6.86v2.47h-6.86zM43.6 323.69h6.86v2.47h-6.86zM43.6 328.53h6.86v2.47h-6.86zM43.6 352.77h6.86v2.47h-6.86zM43.6 367.31h6.86v2.47h-6.86zM50.41 64.39h6.86v2.47h-6.86zM50.41 137.09h6.86v2.47h-6.86zM50.41 231.6h6.86v4.9h-6.86zM50.41 280.07h6.86v2.47h-6.86zM50.41 284.91h6.86v2.47h-6.86zM50.41 321.26h6.86v2.47h-6.86zM50.41 326.11h6.86v2.47h-6.86zM50.41 333.38h6.86v4.9h-6.86zM50.41 350.34h6.86v2.47h-6.86zM57.22 52.27h6.86v2.47h-6.86zM57.22 61.96h6.86v4.9h-6.86zM57.22 78.93h6.86v2.47h-6.86zM57.22 98.31h6.86v2.47h-6.86zM57.22 141.93h6.86v2.47h-6.86zM57.22 156.47h6.86v2.47h-6.86zM57.22 204.94h6.86v2.47h-6.86zM57.22 238.87h6.86v2.47h-6.86zM57.22 243.72h6.86v2.47h-6.86zM57.22 258.26h6.86v2.47h-6.86zM57.22 347.92h6.86v2.47h-6.86zM64.03 49.85h6.86v2.47h-6.86zM64.03 156.47h6.86v2.47h-6.86zM64.03 166.17h6.86v2.47h-6.86zM64.03 178.28h6.86v2.47h-6.86zM64.03 202.52h6.86v2.47h-6.86zM64.03 209.79h6.86v2.47h-6.86zM64.03 246.14h6.86v2.47h-6.86zM64.03 255.83h6.86v4.9h-6.86zM64.03 289.76h6.86v2.47h-6.86zM64.03 352.77h6.86v2.47h-6.86zM64.03 367.31h6.86v4.9h-6.86zM70.83 313.99h6.86v4.9h-6.86zM70.83 326.11h6.86v2.47h-6.86zM70.83 367.31h6.86v2.47h-6.86zM77.64 122.55h6.86v2.47h-6.86zM77.64 129.82h6.86v2.47h-6.86zM77.64 214.64h6.86v2.47h-6.86zM77.64 309.15h6.86v2.47h-6.86zM77.64 318.84h6.86v4.9h-6.86zM77.64 333.38h6.86v2.47h-6.86zM77.64 338.23h6.86v2.47h-6.86zM77.64 345.5h6.86v2.47h-6.86zM84.45 258.26h6.86v2.47h-6.86zM84.45 335.8h6.86v4.9h-6.86zM84.45 345.5h6.86v2.47h-6.86zM84.45 369.73h6.86v2.47h-6.86zM91.26 134.66h6.86v2.47h-6.86zM91.26 173.44h6.86v2.47h-6.86zM91.26 267.95h6.86v2.47h-6.86zM91.26 284.91h6.86v2.47h-6.86zM91.26 301.88h6.86v2.47h-6.86zM91.26 316.42h6.86v2.47h-6.86zM91.26 321.26h6.86v2.47h-6.86zM91.26 326.11h6.86v2.47h-6.86zM91.26 335.8h6.86v4.9h-6.86zM91.26 345.5h6.86v2.47h-6.86zM98.07 236.45h6.86v2.47h-6.86zM98.07 282.49h6.86v2.47h-6.86zM98.07 287.34h6.86v2.47h-6.86zM98.07 326.11h6.86v4.9h-6.86zM98.07 333.38h6.86v2.47h-6.86zM98.07 338.23h6.86v2.47h-6.86zM98.07 360.04h6.86v2.47h-6.86zM98.07 367.31h6.86v2.47h-6.86zM104.88 139.51h6.86v2.47h-6.86zM104.88 163.74h6.86v2.47h-6.86zM104.88 263.1h6.86v7.32h-6.86zM104.88 272.8h6.86v2.47h-6.86zM104.88 282.49h6.86v2.47h-6.86zM104.88 318.84h6.86v2.47h-6.86zM104.88 328.53h6.86v2.47h-6.86zM104.88 338.23h6.86v2.47h-6.86zM104.88 343.07h6.86v2.47h-6.86zM104.88 357.61h6.86v4.9h-6.86zM104.88 374.58h6.86v2.47h-6.86zM111.68 231.6h6.86v2.47h-6.86zM111.68 243.72h6.86v2.47h-6.86zM111.68 306.72h6.86v2.47h-6.86zM111.68 313.99h6.86v2.47h-6.86zM111.68 340.65h6.86v2.47h-6.86zM111.68 345.5h6.86v4.9h-6.86zM111.68 357.61h6.86v2.47h-6.86zM111.68 367.31h6.86v2.47h-6.86zM118.49 217.06h6.86v2.47h-6.86zM118.49 263.1h6.86v2.47h-6.86zM118.49 270.37h6.86v2.47h-6.86zM118.49 280.07h6.86v2.47h-6.86zM118.49 297.03h6.86v2.47h-6.86zM118.49 306.72h6.86v2.47h-6.86zM118.49 318.84h6.86v2.47h-6.86zM118.49 323.69h6.86v2.47h-6.86zM118.49 330.96h6.86v7.32h-6.86zM118.49 343.07h6.86v4.9h-6.86zM118.49 352.77h6.86v2.47h-6.86zM118.49 362.46h6.86v2.47h-6.86zM118.49 367.31h6.86v2.47h-6.86zM118.49 372.15h6.86v4.9h-6.86zM125.3 66.81h6.86v2.47h-6.86zM125.3 71.66h6.86v2.47h-6.86zM125.3 120.12h6.86v2.47h-6.86zM125.3 127.39h6.86v2.47h-6.86zM125.3 132.24h6.86v2.47h-6.86zM125.3 137.09h6.86v4.9h-6.86zM125.3 168.59h6.86v2.47h-6.86zM125.3 243.72h6.86v2.47h-6.86zM125.3 345.5h6.86v2.47h-6.86zM125.3 352.77h6.86v2.47h-6.86zM132.11 105.58h6.86v4.9h-6.86zM132.11 127.39h6.86v2.47h-6.86zM132.11 156.47h6.86v2.47h-6.86zM132.11 340.65h6.86v2.47h-6.86zM138.92 45h6.86v4.9h-6.86zM138.92 178.28h6.86v2.47h-6.86zM138.92 214.64h6.86v2.47h-6.86zM138.92 253.41h6.86v2.47h-6.86zM145.72 54.69h6.86v4.9h-6.86zM145.72 69.23h6.86v2.47h-6.86zM145.72 78.93h6.86v2.47h-6.86zM145.72 88.62h6.86v4.9h-6.86zM145.72 103.16h6.86v2.47h-6.86zM145.72 137.09h6.86v2.47h-6.86zM145.72 151.63h6.86v2.47h-6.86zM145.72 183.13h6.86v2.47h-6.86zM145.72 219.48h6.86v2.47h-6.86zM145.72 255.83h6.86v2.47h-6.86zM145.72 267.95h6.86v2.47h-6.86zM145.72 292.18h6.86v2.47h-6.86zM152.53 57.12h6.86v2.47h-6.86zM152.53 69.23h6.86v2.47h-6.86zM152.53 88.62h6.86v2.47h-6.86zM152.53 93.47h6.86v2.47h-6.86zM152.53 110.43h6.86v2.47h-6.86zM152.53 124.97h6.86v4.9h-6.86zM152.53 166.17h6.86v2.47h-6.86zM152.53 190.4h6.86v7.32h-6.86zM152.53 204.94h6.86v2.47h-6.86zM159.34 91.04h6.86v2.47h-6.86zM159.34 95.89h6.86v2.47h-6.86zM159.34 139.51h6.86v2.47h-6.86zM159.34 151.63h6.86v2.47h-6.86zM159.34 158.9h6.86v4.9h-6.86zM159.34 168.59h6.86v2.47h-6.86zM159.34 204.94h6.86v2.47h-6.86zM159.34 255.83h6.86v2.47h-6.86zM166.15 57.12h6.86v2.47h-6.86zM166.15 74.08h6.86v2.47h-6.86zM166.15 83.77h6.86v2.47h-6.86zM166.15 93.47h6.86v2.47h-6.86zM166.15 98.31h6.86v2.47h-6.86zM166.15 103.16h6.86v7.32h-6.86zM166.15 122.55h6.86v7.32h-6.86zM166.15 149.2h6.86v2.47h-6.86zM166.15 154.05h6.86v2.47h-6.86zM166.15 163.74h6.86v4.9h-6.86zM166.15 175.86h6.86v2.47h-6.86zM166.15 185.55h6.86v2.47h-6.86zM166.15 192.82h6.86v2.47h-6.86zM166.15 197.67h6.86v2.47h-6.86zM166.15 226.75h6.86v2.47h-6.86zM172.96 45h6.86v2.47h-6.86zM172.96 59.54h6.86v2.47h-6.86zM172.96 69.23h6.86v4.9h-6.86zM172.96 78.93h6.86v2.47h-6.86zM172.96 91.04h6.86v2.47h-6.86zM172.96 103.16h6.86v2.47h-6.86zM172.96 112.85h6.86v2.47h-6.86zM172.96 129.82h6.86v2.47h-6.86zM172.96 151.63h6.86v2.47h-6.86zM172.96 161.32h6.86v2.47h-6.86zM172.96 175.86h6.86v2.47h-6.86zM172.96 219.48h6.86v2.47h-6.86zM179.77 59.54h6.86v2.47h-6.86zM179.77 64.39h6.86v2.47h-6.86zM179.77 95.89h6.86v2.47h-6.86zM179.77 171.01h6.86v2.47h-6.86zM179.77 192.82h6.86v2.47h-6.86zM179.77 204.94h6.86v2.47h-6.86zM179.77 212.21h6.86v4.9h-6.86zM179.77 260.68h6.86v2.47h-6.86zM186.57 45h6.86v4.9h-6.86zM186.57 57.12h6.86v2.47h-6.86zM186.57 71.66h6.86v2.47h-6.86zM186.57 83.77h6.86v4.9h-6.86zM186.57 115.28h6.86v4.9h-6.86zM186.57 137.09h6.86v2.47h-6.86zM186.57 146.78h6.86v2.47h-6.86zM186.57 163.74h6.86v2.47h-6.86zM186.57 168.59h6.86v2.47h-6.86zM186.57 173.44h6.86v2.47h-6.86zM186.57 180.71h6.86v2.47h-6.86zM186.57 212.21h6.86v2.47h-6.86zM186.57 258.26h6.86v2.47h-6.86zM186.57 272.8h6.86v2.47h-6.86zM186.57 282.49h6.86v2.47h-6.86zM193.38 54.69h6.86v2.47h-6.86zM193.38 71.66h6.86v2.47h-6.86zM193.38 86.2h6.86v2.47h-6.86zM193.38 91.04h6.86v2.47h-6.86zM193.38 95.89h6.86v2.47h-6.86zM193.38 108.01h6.86v4.9h-6.86zM193.38 115.28h6.86v2.47h-6.86zM193.38 120.12h6.86v2.47h-6.86zM193.38 139.51h6.86v2.47h-6.86zM193.38 149.2h6.86v2.47h-6.86zM193.38 158.9h6.86v2.47h-6.86zM193.38 163.74h6.86v2.47h-6.86zM193.38 258.26h6.86v2.47h-6.86zM193.38 313.99h6.86v2.47h-6.86zM193.38 343.07h6.86v2.47h-6.86zM200.19 47.42h6.86v2.47h-6.86zM200.19 64.39h6.86v2.47h-6.86zM200.19 81.35h6.86v2.47h-6.86zM200.19 91.04h6.86v2.47h-6.86zM200.19 129.82h6.86v2.47h-6.86zM200.19 149.2h6.86v2.47h-6.86zM200.19 171.01h6.86v2.47h-6.86zM200.19 219.48h6.86v2.47h-6.86zM200.19 258.26h6.86v2.47h-6.86zM200.19 313.99h6.86v2.47h-6.86z"/>
<path fill="#4a3a77" d="M43.6 74.08h6.86v2.47h-6.86zM43.6 86.2h6.86v2.47h-6.86zM43.6 91.04h6.86v2.47h-6.86zM43.6 108.01h6.86v2.47h-6.86zM43.6 134.66h6.86v12.17h-6.86zM43.6 149.2h6.86v2.47h-6.86zM43.6 154.05h6.86v2.47h-6.86zM43.6 171.01h6.86v7.32h-6.86zM43.6 192.82h6.86v4.9h-6.86zM43.6 202.52h6.86v2.47h-6.86zM43.6 214.64h6.86v2.47h-6.86zM43.6 219.48h6.86v12.17h-6.86zM43.6 250.99h6.86v2.47h-6.86zM43.6 292.18h6.86v2.47h-6.86zM43.6 304.3h6.86v2.47h-6.86zM50.41 66.81h6.86v2.47h-6.86zM50.41 120.12h6.86v2.47h-6.86zM50.41 141.93h6.86v2.47h-6.86zM50.41 146.78h6.86v4.9h-6.86zM50.41 178.28h6.86v2.47h-6.86zM50.41 183.13h6.86v2.47h-6.86zM50.41 217.06h6.86v14.59h-6.86zM57.22 129.82h6.86v2.47h-6.86zM57.22 146.78h6.86v2.47h-6.86zM57.22 180.71h6.86v4.9h-6.86zM57.22 219.48h6.86v12.17h-6.86zM57.22 248.56h6.86v2.47h-6.86zM57.22 299.45h6.86v2.47h-6.86zM57.22 309.15h6.86v2.47h-6.86zM64.03 78.93h6.86v2.47h-6.86zM64.03 86.2h6.86v4.9h-6.86zM64.03 122.55h6.86v4.9h-6.86zM64.03 129.82h6.86v2.47h-6.86zM64.03 137.09h6.86v2.47h-6.86zM64.03 141.93h6.86v2.47h-6.86zM64.03 217.06h6.86v4.9h-6.86zM64.03 224.33h6.86v9.74h-6.86zM64.03 282.49h6.86v4.9h-6.86zM64.03 299.45h6.86v2.47h-6.86zM70.83 61.96h6.86v4.9h-6.86zM70.83 86.2h6.86v2.47h-6.86zM70.83 91.04h6.86v2.47h-6.86zM70.83 98.31h6.86v7.32h-6.86zM70.83 108.01h6.86v2.47h-6.86zM70.83 122.55h6.86v26.71h-6.86zM70.83 154.05h6.86v4.9h-6.86zM70.83 161.32h6.86v2.47h-6.86zM70.83 166.17h6.86v7.32h-6.86zM70.83 175.86h6.86v2.47h-6.86zM70.83 183.13h6.86v4.9h-6.86zM70.83 190.4h6.86v4.9h-6.86zM70.83 197.67h6.86v2.47h-6.86zM70.83 204.94h6.86v4.9h-6.86zM70.83 212.21h6.86v14.59h-6.86zM70.83 229.18h6.86v2.47h-6.86zM77.64 45h6.86v4.9h-6.86zM77.64 74.08h6.86v7.32h-6.86zM77.64 86.2h6.86v4.9h-6.86zM77.64 137.09h6.86v2.47h-6.86zM77.64 173.44h6.86v14.59h-6.86zM77.64 204.94h6.86v4.9h-6.86zM77.64 219.48h6.86v4.9h-6.86zM77.64 253.41h6.86v2.47h-6.86zM77.64 265.53h6.86v4.9h-6.86zM77.64 287.34h6.86v2.47h-6.86zM84.45 47.42h6.86v2.47h-6.86zM84.45 61.96h6.86v2.47h-6.86zM84.45 66.81h6.86v14.59h-6.86zM84.45 83.77h6.86v2.47h-6.86zM84.45 122.55h6.86v2.47h-6.86zM84.45 132.24h6.86v4.9h-6.86zM84.45 139.51h6.86v2.47h-6.86zM84.45 200.09h6.86v2.47h-6.86zM84.45 221.91h6.86v4.9h-6.86zM84.45 277.64h6.86v2.47h-6.86zM91.26 57.12h6.86v14.59h-6.86zM91.26 78.93h6.86v7.32h-6.86zM91.26 88.62h6.86v2.47h-6.86zM91.26 93.47h6.86v2.47h-6.86zM91.26 124.97h6.86v2.47h-6.86zM91.26 141.93h6.86v7.32h-6.86zM91.26 200.09h6.86v2.47h-6.86zM91.26 214.64h6.86v2.47h-6.86zM91.26 234.02h6.86v4.9h-6.86zM98.07 66.81h6.86v2.47h-6.86zM98.07 76.5h6.86v9.74h-6.86zM98.07 88.62h6.86v2.47h-6.86zM98.07 93.47h6.86v9.74h-6.86zM98.07 110.43h6.86v4.9h-6.86zM98.07 124.97h6.86v2.47h-6.86zM98.07 129.82h6.86v2.47h-6.86zM98.07 139.51h6.86v19.44h-6.86zM98.07 166.17h6.86v17.01h-6.86zM98.07 185.55h6.86v4.9h-6.86zM98.07 195.25h6.86v24.28h-6.86zM98.07 221.91h6.86v7.32h-6.86zM98.07 275.22h6.86v2.47h-6.86zM104.88 45h6.86v2.47h-6.86zM104.88 49.85h6.86v7.32h-6.86zM104.88 61.96h6.86v24.28h-6.86zM104.88 88.62h6.86v2.47h-6.86zM104.88 124.97h6.86v2.47h-6.86zM104.88 144.36h6.86v4.9h-6.86zM104.88 195.25h6.86v2.47h-6.86zM104.88 200.09h6.86v2.47h-6.86zM104.88 217.06h6.86v2.47h-6.86zM104.88 226.75h6.86v2.47h-6.86zM111.68 69.23h6.86v2.47h-6.86zM111.68 83.77h6.86v7.32h-6.86zM111.68 105.58h6.86v2.47h-6.86zM111.68 117.7h6.86v2.47h-6.86zM111.68 122.55h6.86v2.47h-6.86zM111.68 127.39h6.86v12.17h-6.86zM111.68 141.93h6.86v4.9h-6.86zM111.68 163.74h6.86v2.47h-6.86zM111.68 178.28h6.86v2.47h-6.86zM111.68 183.13h6.86v7.32h-6.86zM111.68 212.21h6.86v2.47h-6.86zM111.68 217.06h6.86v14.59h-6.86zM118.49 88.62h6.86v2.47h-6.86zM118.49 124.97h6.86v2.47h-6.86zM118.49 141.93h6.86v2.47h-6.86zM118.49 224.33h6.86v2.47h-6.86zM118.49 229.18h6.86v2.47h-6.86zM125.3 57.12h6.86v2.47h-6.86zM125.3 78.93h6.86v2.47h-6.86zM125.3 151.63h6.86v2.47h-6.86zM125.3 156.47h6.86v2.47h-6.86zM125.3 175.86h6.86v2.47h-6.86zM125.3 185.55h6.86v2.47h-6.86zM125.3 221.91h6.86v2.47h-6.86zM125.3 231.6h6.86v12.17h-6.86zM125.3 250.99h6.86v4.9h-6.86zM125.3 265.53h6.86v2.47h-6.86zM125.3 275.22h6.86v2.47h-6.86zM125.3 284.91h6.86v9.74h-6.86zM125.3 297.03h6.86v2.47h-6.86zM125.3 323.69h6.86v2.47h-6.86zM132.11 71.66h6.86v2.47h-6.86zM132.11 144.36h6.86v2.47h-6.86zM132.11 149.2h6.86v2.47h-6.86zM132.11 168.59h6.86v2.47h-6.86zM132.11 183.13h6.86v4.9h-6.86zM132.11 209.79h6.86v7.32h-6.86zM132.11 241.29h6.86v12.17h-6.86zM132.11 255.83h6.86v2.47h-6.86zM132.11 260.68h6.86v9.74h-6.86zM132.11 277.64h6.86v7.32h-6.86zM132.11 287.34h6.86v7.32h-6.86zM132.11 299.45h6.86v4.9h-6.86zM132.11 309.15h6.86v2.47h-6.86zM132.11 369.73h6.86v2.47h-6.86zM138.92 187.98h6.86v2.47h-6.86zM138.92 207.36h6.86v2.47h-6.86zM138.92 234.02h6.86v2.47h-6.86zM138.92 238.87h6.86v4.9h-6.86zM138.92 248.56h6.86v4.9h-6.86zM138.92 260.68h6.86v2.47h-6.86zM138.92 272.8h6.86v2.47h-6.86zM138.92 280.07h6.86v4.9h-6.86zM138.92 292.18h6.86v2.47h-6.86zM138.92 299.45h6.86v2.47h-6.86zM138.92 304.3h6.86v7.32h-6.86zM138.92 328.53h6.86v2.47h-6.86zM138.92 355.19h6.86v2.47h-6.86zM145.72 241.29h6.86v2.47h-6.86zM145.72 250.99h6.86v4.9h-6.86zM145.72 258.26h6.86v2.47h-6.86zM145.72 272.8h6.86v7.32h-6.86zM145.72 321.26h6.86v2.47h-6.86zM145.72 345.5h6.86v2.47h-6.86zM145.72 372.15h6.86v2.47h-6.86zM152.53 236.45h6.86v24.28h-6.86zM152.53 265.53h6.86v9.74h-6.86zM152.53 280.07h6.86v2.47h-6.86zM152.53 297.03h6.86v4.9h-6.86zM152.53 304.3h6.86v2.47h-6.86zM152.53 309.15h6.86v4.9h-6.86zM152.53 335.8h6.86v2.47h-6.86zM152.53 345.5h6.86v2.47h-6.86zM152.53 350.34h6.86v4.9h-6.86zM152.53 357.61h6.86v2.47h-6.86zM159.34 66.81h6.86v2.47h-6.86zM159.34 120.12h6.86v2.47h-6.86zM159.34 144.36h6.86v2.47h-6.86zM159.34 231.6h6.86v2.47h-6.86zM159.34 238.87h6.86v2.47h-6.86zM159.34 248.56h6.86v7.32h-6.86zM159.34 258.26h6.86v2.47h-6.86zM159.34 267.95h6.86v2.47h-6.86zM159.34 282.49h6.86v2.47h-6.86zM159.34 294.61h6.86v4.9h-6.86zM159.34 301.88h6.86v7.32h-6.86zM159.34 311.57h6.86v2.47h-6.86zM166.15 231.6h6.86v14.59h-6.86zM166.15 248.56h6.86v9.74h-6.86zM166.15 260.68h6.86v2.47h-6.86zM166.15 265.53h6.86v9.74h-6.86zM166.15 284.91h6.86v2.47h-6.86zM166.15 294.61h6.86v2.47h-6.86zM166.15 372.15h6.86v2.47h-6.86zM172.96 226.75h6.86v2.47h-6.86zM172.96 231.6h6.86v19.44h-6.86zM172.96 255.83h6.86v7.32h-6.86zM172.96 265.53h6.86v12.17h-6.86zM172.96 304.3h6.86v4.9h-6.86zM172.96 311.57h6.86v2.47h-6.86zM172.96 330.96h6.86v2.47h-6.86zM172.96 335.8h6.86v7.32h-6.86zM172.96 355.19h6.86v2.47h-6.86zM172.96 360.04h6.86v2.47h-6.86zM179.77 127.39h6.86v2.47h-6.86zM179.77 231.6h6.86v7.32h-6.86zM179.77 241.29h6.86v7.32h-6.86zM179.77 255.83h6.86v2.47h-6.86zM179.77 265.53h6.86v7.32h-6.86zM179.77 275.22h6.86v4.9h-6.86zM179.77 284.91h6.86v2.47h-6.86zM179.77 292.18h6.86v2.47h-6.86zM179.77 297.03h6.86v7.32h-6.86zM179.77 309.15h6.86v2.47h-6.86zM179.77 335.8h6.86v2.47h-6.86zM179.77 343.07h6.86v4.9h-6.86zM179.77 352.77h6.86v2.47h-6.86zM186.57 231.6h6.86v7.32h-6.86zM186.57 243.72h6.86v4.9h-6.86zM186.57 250.99h6.86v2.47h-6.86zM186.57 263.1h6.86v2.47h-6.86zM186.57 267.95h6.86v2.47h-6.86zM186.57 287.34h6.86v2.47h-6.86zM186.57 292.18h6.86v12.17h-6.86zM186.57 311.57h6.86v4.9h-6.86zM186.57 333.38h6.86v2.47h-6.86zM186.57 352.77h6.86v2.47h-6.86zM186.57 374.58h6.86v2.47h-6.86zM193.38 231.6h6.86v7.32h-6.86zM193.38 241.29h6.86v2.47h-6.86zM193.38 248.56h6.86v9.74h-6.86zM193.38 260.68h6.86v4.9h-6.86zM193.38 270.37h6.86v2.47h-6.86zM193.38 277.64h6.86v2.47h-6.86zM193.38 289.76h6.86v7.32h-6.86zM193.38 299.45h6.86v7.32h-6.86zM193.38 309.15h6.86v4.9h-6.86zM193.38 357.61h6.86v2.47h-6.86zM193.38 372.15h6.86v2.47h-6.86zM200.19 231.6h6.86v4.9h-6.86zM200.19 238.87h6.86v2.47h-6.86zM200.19 265.53h6.86v2.47h-6.86zM200.19 280.07h6.86v2.47h-6.86zM200.19 297.03h6.86v9.74h-6.86zM200.19 311.57h6.86v2.47h-6.86zM200.19 333.38h6.86v7.32h-6.86zM200.19 360.04h6.86v17.01h-6.86z"/>
<path fill="#e8c1ab" d="M43.6 166.17h6.86v2.47h-6.86zM43.6 270.37h6.86v2.47h-6.86zM43.6 316.42h6.86v2.47h-6.86zM43.6 321.26h6.86v2.47h-6.86zM43.6 326.11h6.86v2.47h-6.86zM43.6 333.38h6.86v4.9h-6.86zM43.6 347.92h6.86v2.47h-6.86zM43.6 355.19h6.86v2.47h-6.86zM43.6 364.88h6.86v2.47h-6.86zM43.6 369.73h6.86v2.47h-6.86zM50.41 54.69h6.86v7.32h-6.86zM50.41 81.35h6.86v2.47h-6.86zM50.41 91.04h6.86v4.9h-6.86zM50.41 100.74h6.86v2.47h-6.86zM50.41 195.25h6.86v2.47h-6.86zM50.41 207.36h6.86v2.47h-6.86zM50.41 238.87h6.86v2.47h-6.86zM50.41 243.72h6.86v2.47h-6.86zM50.41 263.1h6.86v2.47h-6.86zM50.41 272.8h6.86v2.47h-6.86zM50.41 287.34h6.86v2.47h-6.86zM50.41 297.03h6.86v2.47h-6.86zM50.41 301.88h6.86v2.47h-6.86zM50.41 318.84h6.86v2.47h-6.86zM50.41 328.53h6.86v4.9h-6.86zM50.41 347.92h6.86v2.47h-6.86zM50.41 352.77h6.86v2.47h-6.86zM50.41 357.61h6.86v2.47h-6.86zM50.41 362.46h6.86v7.32h-6.86zM57.22 45h6.86v4.9h-6.86zM57.22 57.12h6.86v4.9h-6.86zM57.22 83.77h6.86v4.9h-6.86zM57.22 100.74h6.86v2.47h-6.86zM57.22 112.85h6.86v2.47h-6.86zM57.22 127.39h6.86v2.47h-6.86zM57.22 151.63h6.86v2.47h-6.86zM57.22 161.32h6.86v2.47h-6.86zM57.22 190.4h6.86v7.32h-6.86zM57.22 200.09h6.86v2.47h-6.86zM57.22 207.36h6.86v2.47h-6.86zM57.22 253.41h6.86v2.47h-6.86zM57.22 282.49h6.86v7.32h-6.86zM57.22 311.57h6.86v2.47h-6.86zM57.22 323.69h6.86v2.47h-6.86zM64.03 108.01h6.86v2.47h-6.86zM64.03 173.44h6.86v4.9h-6.86zM64.03 180.71h6.86v9.74h-6.86zM64.03 195.25h6.86v2.47h-6.86zM64.03 204.94h6.86v2.47h-6.86zM64.03 238.87h6.86v2.47h-6.86zM64.03 243.72h6.86v2.47h-6.86zM64.03 275.22h6.86v2.47h-6.86zM64.03 292.18h6.86v2.47h-6.86zM64.03 297.03h6.86v2.47h-6.86zM64.03 318.84h6.86v4.9h-6.86zM64.03 326.11h6.86v2.47h-6.86zM64.03 330.96h6.86v4.9h-6.86zM64.03 340.65h6.86v2.47h-6.86zM70.83 69.23h6.86v4.9h-6.86zM70.83 277.64h6.86v2.47h-6.86zM70.83 318.84h6.86v2.47h-6.86zM70.83 345.5h6.86v2.47h-6.86zM70.83 360.04h6.86v2.47h-6.86zM77.64 57.12h6.86v2.47h-6.86zM77.64 66.81h6.86v4.9h-6.86zM77.64 103.16h6.86v2.47h-6.86zM77.64 127.39h6.86v2.47h-6.86zM77.64 132.24h6.86v2.47h-6.86zM77.64 141.93h6.86v2.47h-6.86zM77.64 163.74h6.86v2.47h-6.86zM77.64 197.67h6.86v2.47h-6.86zM77.64 241.29h6.86v2.47h-6.86zM77.64 270.37h6.86v2.47h-6.86zM77.64 277.64h6.86v2.47h-6.86zM77.64 292.18h6.86v2.47h-6.86zM77.64 306.72h6.86v2.47h-6.86zM77.64 313.99h6.86v4.9h-6.86zM77.64 323.69h6.86v2.47h-6.86zM77.64 328.53h6.86v2.47h-6.86zM77.64 340.65h6.86v2.47h-6.86zM77.64 347.92h6.86v17.01h-6.86zM77.64 372.15h6.86v2.47h-6.86zM84.45 91.04h6.86v2.47h-6.86zM84.45 105.58h6.86v2.47h-6.86zM84.45 110.43h6.86v2.47h-6.86zM84.45 144.36h6.86v2.47h-6.86zM84.45 151.63h6.86v2.47h-6.86zM84.45 282.49h6.86v4.9h-6.86zM84.45 323.69h6.86v4.9h-6.86zM84.45 330.96h6.86v4.9h-6.86zM84.45 340.65h6.86v4.9h-6.86zM91.26 171.01h6.86v2.47h-6.86zM91.26 195.25h6.86v2.47h-6.86zM91.26 221.91h6.86v2.47h-6.86zM91.26 255.83h6.86v2.47h-6.86zM91.26 282.49h6.86v2.47h-6.86zM91.26 289.76h6.86v4.9h-6.86zM91.26 297.03h6.86v2.47h-6.86zM91.26 306.72h6.86v2.47h-6.86zM91.26 323.69h6.86v2.47h-6.86zM91.26 330.96h6.86v2.47h-6.86zM91.26 347.92h6.86v2.47h-6.86zM91.26 352.77h6.86v2.47h-6.86zM91.26 357.61h6.86v7.32h-6.86zM91.26 369.73h6.86v2.47h-6.86zM98.07 64.39h6.86v2.47h-6.86zM98.07 105.58h6.86v2.47h-6.86zM98.07 255.83h6.86v2.47h-6.86zM98.07 304.3h6.86v4.9h-6.86zM98.07 313.99h6.86v2.47h-6.86zM98.07 318.84h6.86v7.32h-6.86zM98.07 330.96h6.86v2.47h-6.86zM98.07 347.92h6.86v2.47h-6.86zM98.07 355.19h6.86v4.9h-6.86zM98.07 362.46h6.86v2.47h-6.86zM98.07 374.58h6.86v2.47h-6.86zM104.88 95.89h6.86v2.47h-6.86zM104.88 129.82h6.86v4.9h-6.86zM104.88 141.93h6.86v2.47h-6.86zM104.88 154.05h6.86v2.47h-6.86zM104.88 168.59h6.86v2.47h-6.86zM104.88 173.44h6.86v4.9h-6.86zM104.88 180.71h6.86v2.47h-6.86zM104.88 192.82h6.86v2.47h-6.86zM104.88 243.72h6.86v2.47h-6.86zM104.88 309.15h6.86v7.32h-6.86zM104.88 321.26h6.86v4.9h-6.86zM104.88 340.65h6.86v2.47h-6.86zM104.88 347.92h6.86v2.47h-6.86zM104.88 355.19h6.86v2.47h-6.86zM104.88 362.46h6.86v2.47h-6.86zM104.88 369.73h6.86v4.9h-6.86zM111.68 263.1h6.86v7.32h-6.86zM111.68 287.34h6.86v2.47h-6.86zM111.68 316.42h6.86v2.47h-6.86zM111.68 321.26h6.86v4.9h-6.86zM111.68 330.96h6.86v4.9h-6.86zM111.68 343.07h6.86v2.47h-6.86zM111.68 352.77h6.86v2.47h-6.86zM111.68 362.46h6.86v2.47h-6.86zM111.68 369.73h6.86v2.47h-6.86zM118.49 146.78h6.86v2.47h-6.86zM118.49 158.9h6.86v2.47h-6.86zM118.49 209.79h6.86v7.32h-6.86zM118.49 313.99h6.86v4.9h-6.86zM118.49 321.26h6.86v2.47h-6.86zM118.49 347.92h6.86v2.47h-6.86zM125.3 45h6.86v4.9h-6.86zM125.3 61.96h6.86v4.9h-6.86zM125.3 100.74h6.86v2.47h-6.86zM125.3 108.01h6.86v4.9h-6.86zM125.3 115.28h6.86v4.9h-6.86zM125.3 124.97h6.86v2.47h-6.86zM125.3 146.78h6.86v2.47h-6.86zM125.3 166.17h6.86v2.47h-6.86zM125.3 190.4h6.86v4.9h-6.86zM125.3 246.14h6.86v2.47h-6.86zM125.3 263.1h6.86v2.47h-6.86zM125.3 267.95h6.86v2.47h-6.86zM125.3 306.72h6.86v2.47h-6.86zM125.3 333.38h6.86v2.47h-6.86zM125.3 347.92h6.86v2.47h-6.86zM125.3 357.61h6.86v2.47h-6.86zM125.3 369.73h6.86v2.47h-6.86zM132.11 57.12h6.86v4.9h-6.86zM132.11 81.35h6.86v2.47h-6.86zM132.11 86.2h6.86v2.47h-6.86zM132.11 100.74h6.86v4.9h-6.86zM132.11 110.43h6.86v2.47h-6.86zM132.11 122.55h6.86v4.9h-6.86zM132.11 175.86h6.86v2.47h-6.86zM132.11 195.25h6.86v2.47h-6.86zM132.11 236.45h6.86v2.47h-6.86zM132.11 323.69h6.86v2.47h-6.86zM132.11 330.96h6.86v4.9h-6.86zM132.11 360.04h6.86v2.47h-6.86zM132.11 374.58h6.86v2.47h-6.86zM138.92 57.12h6.86v2.47h-6.86zM138.92 76.5h6.86v4.9h-6.86zM138.92 88.62h6.86v2.47h-6.86zM138.92 95.89h6.86v2.47h-6.86zM138.92 103.16h6.86v2.47h-6.86zM138.92 137.09h6.86v2.47h-6.86zM138.92 151.63h6.86v4.9h-6.86zM138.92 180.71h6.86v2.47h-6.86zM138.92 195.25h6.86v2.47h-6.86zM138.92 243.72h6.86v4.9h-6.86zM138.92 263.1h6.86v7.32h-6.86zM138.92 364.88h6.86v2.47h-6.86zM145.72 49.85h6.86v4.9h-6.86zM145.72 59.54h6.86v2.47h-6.86zM145.72 74.08h6.86v4.9h-6.86zM145.72 86.2h6.86v2.47h-6.86zM145.72 93.47h6.86v4.9h-6.86zM145.72 100.74h6.86v2.47h-6.86zM145.72 108.01h6.86v4.9h-6.86zM145.72 115.28h6.86v4.9h-6.86zM145.72 124.97h6.86v4.9h-6.86zM145.72 132.24h6.86v4.9h-6.86zM145.72 139.51h6.86v2.47h-6.86zM145.72 149.2h6.86v2.47h-6.86zM145.72 154.05h6.86v2.47h-6.86zM145.72 158.9h6.86v12.17h-6.86zM145.72 178.28h6.86v2.47h-6.86zM145.72 185.55h6.86v2.47h-6.86zM145.72 192.82h6.86v2.47h-6.86zM145.72 200.09h6.86v4.9h-6.86zM145.72 209.79h6.86v4.9h-6.86zM145.72 221.91h6.86v4.9h-6.86zM145.72 263.1h6.86v4.9h-6.86zM145.72 287.34h6.86v2.47h-6.86zM145.72 301.88h6.86v4.9h-6.86zM145.72 316.42h6.86v2.47h-6.86zM145.72 333.38h6.86v2.47h-6.86zM145.72 355.19h6.86v4.9h-6.86zM145.72 364.88h6.86v2.47h-6.86zM152.53 47.42h6.86v2.47h-6.86zM152.53 59.54h6.86v2.47h-6.86zM152.53 86.2h6.86v2.47h-6.86zM152.53 91.04h6.86v2.47h-6.86zM152.53 103.16h6.86v2.47h-6.86zM152.53 112.85h6.86v7.32h-6.86zM152.53 202.52h6.86v2.47h-6.86zM152.53 217.06h6.86v2.47h-6.86zM152.53 294.61h6.86v2.47h-6.86zM152.53 328.53h6.86v2.47h-6.86zM159.34 47.42h6.86v4.9h-6.86zM159.34 54.69h6.86v2.47h-6.86zM159.34 61.96h6.86v4.9h-6.86zM159.34 71.66h6.86v2.47h-6.86zM159.34 93.47h6.86v2.47h-6.86zM159.34 98.31h6.86v12.17h-6.86zM159.34 112.85h6.86v2.47h-6.86zM159.34 117.7h6.86v2.47h-6.86zM159.34 122.55h6.86v2.47h-6.86zM159.34 127.39h6.86v2.47h-6.86zM159.34 132.24h6.86v2.47h-6.86zM159.34 137.09h6.86v2.47h-6.86zM159.34 149.2h6.86v2.47h-6.86zM159.34 156.47h6.86v2.47h-6.86zM159.34 178.28h6.86v2.47h-6.86zM159.34 187.98h6.86v2.47h-6.86zM159.34 197.67h6.86v2.47h-6.86zM159.34 202.52h6.86v2.47h-6.86zM159.34 209.79h6.86v2.47h-6.86zM159.34 277.64h6.86v2.47h-6.86zM159.34 284.91h6.86v2.47h-6.86zM159.34 321.26h6.86v2.47h-6.86zM159.34 328.53h6.86v2.47h-6.86zM159.34 347.92h6.86v2.47h-6.86zM159.34 367.31h6.86v4.9h-6.86zM166.15 47.42h6.86v4.9h-6.86zM166.15 95.89h6.86v2.47h-6.86zM166.15 100.74h6.86v2.47h-6.86zM166.15 110.43h6.86v2.47h-6.86zM166.15 115.28h6.86v2.47h-6.86zM166.15 120.12h6.86v2.47h-6.86zM166.15 129.82h6.86v2.47h-6.86zM166.15 134.66h6.86v2.47h-6.86zM166.15 139.51h6.86v2.47h-6.86zM166.15 151.63h6.86v2.47h-6.86zM166.15 158.9h6.86v4.9h-6.86zM166.15 168.59h6.86v2.47h-6.86zM166.15 173.44h6.86v2.47h-6.86zM166.15 183.13h6.86v2.47h-6.86zM166.15 190.4h6.86v2.47h-6.86zM166.15 204.94h6.86v2.47h-6.86zM166.15 219.48h6.86v2.47h-6.86zM166.15 224.33h6.86v2.47h-6.86zM172.96 105.58h6.86v2.47h-6.86zM172.96 110.43h6.86v2.47h-6.86zM172.96 115.28h6.86v2.47h-6.86zM172.96 124.97h6.86v4.9h-6.86zM172.96 132.24h6.86v2.47h-6.86zM172.96 137.09h6.86v2.47h-6.86zM172.96 141.93h6.86v2.47h-6.86zM172.96 158.9h6.86v2.47h-6.86zM172.96 187.98h6.86v4.9h-6.86zM172.96 224.33h6.86v2.47h-6.86zM172.96 280.07h6.86v2.47h-6.86zM172.96 297.03h6.86v2.47h-6.86zM179.77 49.85h6.86v7.32h-6.86zM179.77 100.74h6.86v2.47h-6.86zM179.77 112.85h6.86v2.47h-6.86zM179.77 122.55h6.86v4.9h-6.86zM179.77 134.66h6.86v2.47h-6.86zM179.77 149.2h6.86v4.9h-6.86zM179.77 156.47h6.86v2.47h-6.86zM179.77 163.74h6.86v2.47h-6.86zM179.77 180.71h6.86v4.9h-6.86zM179.77 202.52h6.86v2.47h-6.86zM179.77 207.36h6.86v4.9h-6.86zM179.77 226.75h6.86v2.47h-6.86zM179.77 248.56h6.86v7.32h-6.86zM179.77 304.3h6.86v2.47h-6.86zM179.77 311.57h6.86v2.47h-6.86zM179.77 369.73h6.86v2.47h-6.86zM186.57 54.69h6.86v2.47h-6.86zM186.57 69.23h6.86v2.47h-6.86zM186.57 76.5h6.86v4.9h-6.86zM186.57 98.31h6.86v4.9h-6.86zM186.57 105.58h6.86v4.9h-6.86zM186.57 112.85h6.86v2.47h-6.86zM186.57 120.12h6.86v2.47h-6.86zM186.57 151.63h6.86v2.47h-6.86zM186.57 156.47h6.86v4.9h-6.86zM186.57 166.17h6.86v2.47h-6.86zM186.57 175.86h6.86v2.47h-6.86zM186.57 238.87h6.86v2.47h-6.86zM186.57 248.56h6.86v2.47h-6.86zM186.57 277.64h6.86v2.47h-6.86zM186.57 304.3h6.86v2.47h-6.86zM186.57 335.8h6.86v2.47h-6.86zM186.57 345.5h6.86v2.47h-6.86zM193.38 100.74h6.86v7.32h-6.86zM193.38 117.7h6.86v2.47h-6.86zM193.38 275.22h6.86v2.47h-6.86zM193.38 318.84h6.86v2.47h-6.86zM200.19 93.47h6.86v2.47h-6.86zM200.19 100.74h6.86v2.47h-6.86zM200.19 105.58h6.86v2.47h-6.86zM200.19 127.39h6.86v2.47h-6.86zM200.19 241.29h6.86v4.9h-6.86zM200.19 270.37h6.86v2.47h-6.86zM200.19 275.22h6.86v2.47h-6.86z"/>
<path fill="#ba5c36" d="M43.6 236.45h6.86v12.17h-6.86zM43.6 253.41h6.86v7.32h-6.86zM43.6 263.1h6.86v7.32h-6.86zM43.6 275.22h6.86v2.47h-6.86zM43.6 282.49h6.86v2.47h-6.86zM43.6 311.57h6.86v2.47h-6.86zM43.6 372.15h6.86v4.9h-6.86zM50.41 236.45h6.86v2.47h-6.86zM50.41 241.29h6.86v2.47h-6.86zM50.41 248.56h6.86v2.47h-6.86zM50.41 255.83h6.86v4.9h-6.86zM50.41 265.53h6.86v2.47h-6.86zM50.41 277.64h6.86v2.47h-6.86zM50.41 292.18h6.86v2.47h-6.86zM57.22 54.69h6.86v2.47h-6.86zM57.22 74.08h6.86v4.9h-6.86zM57.22 81.35h6.86v2.47h-6.86zM57.22 124.97h6.86v2.47h-6.86zM57.22 217.06h6.86v2.47h-6.86zM57.22 236.45h6.86v2.47h-6.86zM57.22 241.29h6.86v2.47h-6.86zM57.22 246.14h6.86v2.47h-6.86zM57.22 255.83h6.86v2.47h-6.86zM57.22 260.68h6.86v2.47h-6.86zM57.22 265.53h6.86v7.32h-6.86zM57.22 275.22h6.86v4.9h-6.86zM57.22 297.03h6.86v2.47h-6.86zM64.03 234.02h6.86v2.47h-6.86zM64.03 250.99h6.86v4.9h-6.86zM64.03 260.68h6.86v4.9h-6.86zM64.03 267.95h6.86v7.32h-6.86zM64.03 304.3h6.86v4.9h-6.86zM64.03 313.99h6.86v4.9h-6.86zM64.03 338.23h6.86v2.47h-6.86zM64.03 343.07h6.86v4.9h-6.86zM70.83 83.77h6.86v2.47h-6.86zM70.83 231.6h6.86v24.28h-6.86zM70.83 263.1h6.86v2.47h-6.86zM70.83 270.37h6.86v7.32h-6.86zM70.83 280.07h6.86v17.01h-6.86zM70.83 299.45h6.86v14.59h-6.86zM70.83 323.69h6.86v2.47h-6.86zM70.83 328.53h6.86v2.47h-6.86zM70.83 335.8h6.86v9.74h-6.86zM70.83 355.19h6.86v4.9h-6.86zM70.83 364.88h6.86v2.47h-6.86zM70.83 372.15h6.86v4.9h-6.86zM77.64 117.7h6.86v2.47h-6.86zM77.64 124.97h6.86v2.47h-6.86zM77.64 226.75h6.86v2.47h-6.86zM77.64 231.6h6.86v9.74h-6.86zM77.64 243.72h6.86v2.47h-6.86zM77.64 248.56h6.86v2.47h-6.86zM77.64 255.83h6.86v2.47h-6.86zM77.64 263.1h6.86v2.47h-6.86zM77.64 275.22h6.86v2.47h-6.86zM77.64 280.07h6.86v2.47h-6.86zM77.64 284.91h6.86v2.47h-6.86zM77.64 289.76h6.86v2.47h-6.86zM77.64 299.45h6.86v2.47h-6.86zM77.64 304.3h6.86v2.47h-6.86zM77.64 311.57h6.86v2.47h-6.86zM77.64 330.96h6.86v2.47h-6.86zM77.64 364.88h6.86v2.47h-6.86zM77.64 374.58h6.86v2.47h-6.86zM84.45 86.2h6.86v2.47h-6.86zM84.45 108.01h6.86v2.47h-6.86zM84.45 226.75h6.86v31.55h-6.86zM84.45 260.68h6.86v17.01h-6.86zM84.45 287.34h6.86v7.32h-6.86zM84.45 297.03h6.86v2.47h-6.86zM84.45 301.88h6.86v12.17h-6.86zM84.45 347.92h6.86v21.86h-6.86zM84.45 372.15h6.86v4.9h-6.86zM91.26 219.48h6.86v2.47h-6.86zM91.26 226.75h6.86v2.47h-6.86zM91.26 231.6h6.86v2.47h-6.86zM91.26 248.56h6.86v2.47h-6.86zM91.26 253.41h6.86v2.47h-6.86zM91.26 258.26h6.86v2.47h-6.86zM91.26 265.53h6.86v2.47h-6.86zM91.26 275.22h6.86v2.47h-6.86zM91.26 287.34h6.86v2.47h-6.86zM91.26 294.61h6.86v2.47h-6.86zM91.26 299.45h6.86v2.47h-6.86zM91.26 304.3h6.86v2.47h-6.86zM91.26 309.15h6.86v7.32h-6.86zM91.26 318.84h6.86v2.47h-6.86zM91.26 340.65h6.86v4.9h-6.86zM98.07 229.18h6.86v7.32h-6.86zM98.07 238.87h6.86v17.01h-6.86zM98.07 258.26h6.86v2.47h-6.86zM98.07 267.95h6.86v2.47h-6.86zM98.07 272.8h6.86v2.47h-6.86zM98.07 277.64h6.86v4.9h-6.86zM98.07 284.91h6.86v2.47h-6.86zM98.07 289.76h6.86v14.59h-6.86zM98.07 309.15h6.86v4.9h-6.86zM98.07 340.65h6.86v7.32h-6.86zM98.07 350.34h6.86v4.9h-6.86zM98.07 364.88h6.86v2.47h-6.86zM98.07 369.73h6.86v2.47h-6.86zM104.88 103.16h6.86v2.47h-6.86zM104.88 134.66h6.86v4.9h-6.86zM104.88 178.28h6.86v2.47h-6.86zM104.88 183.13h6.86v2.47h-6.86zM104.88 221.91h6.86v2.47h-6.86zM104.88 231.6h6.86v12.17h-6.86zM104.88 246.14h6.86v2.47h-6.86zM104.88 255.83h6.86v7.32h-6.86zM104.88 270.37h6.86v2.47h-6.86zM104.88 275.22h6.86v7.32h-6.86zM104.88 284.91h6.86v24.28h-6.86zM104.88 330.96h6.86v2.47h-6.86zM104.88 335.8h6.86v2.47h-6.86zM104.88 350.34h6.86v4.9h-6.86zM111.68 234.02h6.86v9.74h-6.86zM111.68 246.14h6.86v17.01h-6.86zM111.68 272.8h6.86v2.47h-6.86zM111.68 277.64h6.86v9.74h-6.86zM111.68 289.76h6.86v17.01h-6.86zM111.68 309.15h6.86v2.47h-6.86zM111.68 318.84h6.86v2.47h-6.86zM111.68 328.53h6.86v2.47h-6.86zM111.68 338.23h6.86v2.47h-6.86zM111.68 355.19h6.86v2.47h-6.86zM111.68 360.04h6.86v2.47h-6.86zM111.68 372.15h6.86v2.47h-6.86zM118.49 231.6h6.86v31.55h-6.86zM118.49 265.53h6.86v4.9h-6.86zM118.49 272.8h6.86v7.32h-6.86zM118.49 282.49h6.86v7.32h-6.86zM118.49 292.18h6.86v4.9h-6.86zM118.49 299.45h6.86v7.32h-6.86zM118.49 309.15h6.86v4.9h-6.86zM118.49 326.11h6.86v4.9h-6.86zM118.49 338.23h6.86v4.9h-6.86zM118.49 350.34h6.86v2.47h-6.86zM118.49 355.19h6.86v7.32h-6.86zM118.49 364.88h6.86v2.47h-6.86zM118.49 369.73h6.86v2.47h-6.86zM125.3 49.85h6.86v4.9h-6.86zM125.3 69.23h6.86v2.47h-6.86zM125.3 86.2h6.86v4.9h-6.86zM125.3 134.66h6.86v2.47h-6.86zM125.3 178.28h6.86v2.47h-6.86zM125.3 219.48h6.86v2.47h-6.86zM125.3 224.33h6.86v4.9h-6.86zM125.3 260.68h6.86v2.47h-6.86zM125.3 301.88h6.86v2.47h-6.86zM125.3 309.15h6.86v2.47h-6.86zM125.3 335.8h6.86v2.47h-6.86zM132.11 45h6.86v2.47h-6.86zM132.11 61.96h6.86v4.9h-6.86zM132.11 69.23h6.86v2.47h-6.86zM132.11 88.62h6.86v2.47h-6.86zM132.11 120.12h6.86v2.47h-6.86zM132.11 132.24h6.86v9.74h-6.86zM132.11 224.33h6.86v9.74h-6.86zM132.11 238.87h6.86v2.47h-6.86zM132.11 297.03h6.86v2.47h-6.86zM132.11 311.57h6.86v2.47h-6.86zM138.92 52.27h6.86v2.47h-6.86zM138.92 66.81h6.86v2.47h-6.86zM138.92 71.66h6.86v2.47h-6.86zM138.92 86.2h6.86v2.47h-6.86zM138.92 108.01h6.86v2.47h-6.86zM138.92 117.7h6.86v12.17h-6.86zM138.92 149.2h6.86v2.47h-6.86zM138.92 158.9h6.86v2.47h-6.86zM138.92 212.21h6.86v2.47h-6.86zM138.92 219.48h6.86v2.47h-6.86zM138.92 224.33h6.86v9.74h-6.86zM138.92 301.88h6.86v2.47h-6.86zM145.72 61.96h6.86v2.47h-6.86zM145.72 66.81h6.86v2.47h-6.86zM145.72 71.66h6.86v2.47h-6.86zM145.72 81.35h6.86v4.9h-6.86zM145.72 98.31h6.86v2.47h-6.86zM145.72 129.82h6.86v2.47h-6.86zM145.72 141.93h6.86v7.32h-6.86zM145.72 195.25h6.86v4.9h-6.86zM145.72 214.64h6.86v4.9h-6.86zM145.72 226.75h6.86v14.59h-6.86zM145.72 243.72h6.86v7.32h-6.86zM145.72 299.45h6.86v2.47h-6.86zM145.72 309.15h6.86v4.9h-6.86zM152.53 66.81h6.86v2.47h-6.86zM152.53 74.08h6.86v9.74h-6.86zM152.53 95.89h6.86v7.32h-6.86zM152.53 108.01h6.86v2.47h-6.86zM152.53 122.55h6.86v2.47h-6.86zM152.53 129.82h6.86v2.47h-6.86zM152.53 134.66h6.86v12.17h-6.86zM152.53 149.2h6.86v17.01h-6.86zM152.53 168.59h6.86v9.74h-6.86zM152.53 180.71h6.86v9.74h-6.86zM152.53 207.36h6.86v2.47h-6.86zM152.53 221.91h6.86v4.9h-6.86zM152.53 229.18h6.86v2.47h-6.86zM152.53 372.15h6.86v2.47h-6.86zM159.34 141.93h6.86v2.47h-6.86zM159.34 146.78h6.86v2.47h-6.86zM159.34 163.74h6.86v4.9h-6.86zM159.34 171.01h6.86v7.32h-6.86zM159.34 183.13h6.86v4.9h-6.86zM159.34 207.36h6.86v2.47h-6.86zM159.34 212.21h6.86v2.47h-6.86zM159.34 217.06h6.86v2.47h-6.86zM159.34 221.91h6.86v4.9h-6.86zM159.34 229.18h6.86v2.47h-6.86zM159.34 236.45h6.86v2.47h-6.86zM159.34 241.29h6.86v2.47h-6.86zM166.15 52.27h6.86v4.9h-6.86zM166.15 61.96h6.86v7.32h-6.86zM166.15 71.66h6.86v2.47h-6.86zM166.15 76.5h6.86v4.9h-6.86zM166.15 88.62h6.86v2.47h-6.86zM166.15 141.93h6.86v7.32h-6.86zM166.15 171.01h6.86v2.47h-6.86zM166.15 178.28h6.86v4.9h-6.86zM166.15 187.98h6.86v2.47h-6.86zM166.15 195.25h6.86v2.47h-6.86zM166.15 200.09h6.86v4.9h-6.86zM166.15 207.36h6.86v12.17h-6.86zM166.15 221.91h6.86v2.47h-6.86zM166.15 229.18h6.86v2.47h-6.86zM172.96 52.27h6.86v4.9h-6.86zM172.96 61.96h6.86v2.47h-6.86zM172.96 66.81h6.86v2.47h-6.86zM172.96 74.08h6.86v4.9h-6.86zM172.96 81.35h6.86v4.9h-6.86zM172.96 88.62h6.86v2.47h-6.86zM172.96 93.47h6.86v9.74h-6.86zM172.96 120.12h6.86v2.47h-6.86zM172.96 134.66h6.86v2.47h-6.86zM172.96 139.51h6.86v2.47h-6.86zM172.96 144.36h6.86v7.32h-6.86zM172.96 154.05h6.86v4.9h-6.86zM172.96 163.74h6.86v12.17h-6.86zM172.96 178.28h6.86v9.74h-6.86zM172.96 195.25h6.86v24.28h-6.86zM172.96 221.91h6.86v2.47h-6.86zM172.96 229.18h6.86v2.47h-6.86zM179.77 45h6.86v4.9h-6.86zM179.77 57.12h6.86v2.47h-6.86zM179.77 66.81h6.86v2.47h-6.86zM179.77 74.08h6.86v21.86h-6.86zM179.77 98.31h6.86v2.47h-6.86zM179.77 110.43h6.86v2.47h-6.86zM179.77 129.82h6.86v4.9h-6.86zM179.77 137.09h6.86v2.47h-6.86zM179.77 141.93h6.86v7.32h-6.86zM179.77 154.05h6.86v2.47h-6.86zM179.77 185.55h6.86v7.32h-6.86zM179.77 195.25h6.86v7.32h-6.86zM179.77 219.48h6.86v7.32h-6.86zM179.77 229.18h6.86v2.47h-6.86zM179.77 238.87h6.86v2.47h-6.86zM186.57 49.85h6.86v4.9h-6.86zM186.57 59.54h6.86v2.47h-6.86zM186.57 64.39h6.86v2.47h-6.86zM186.57 74.08h6.86v2.47h-6.86zM186.57 81.35h6.86v2.47h-6.86zM186.57 88.62h6.86v2.47h-6.86zM186.57 103.16h6.86v2.47h-6.86zM186.57 122.55h6.86v14.59h-6.86zM186.57 139.51h6.86v7.32h-6.86zM186.57 161.32h6.86v2.47h-6.86zM186.57 185.55h6.86v9.74h-6.86zM186.57 200.09h6.86v2.47h-6.86zM186.57 204.94h6.86v7.32h-6.86zM186.57 214.64h6.86v17.01h-6.86zM186.57 241.29h6.86v2.47h-6.86zM186.57 253.41h6.86v4.9h-6.86zM186.57 270.37h6.86v2.47h-6.86zM193.38 45h6.86v9.74h-6.86zM193.38 57.12h6.86v14.59h-6.86zM193.38 74.08h6.86v12.17h-6.86zM193.38 88.62h6.86v2.47h-6.86zM193.38 93.47h6.86v2.47h-6.86zM193.38 98.31h6.86v2.47h-6.86zM193.38 112.85h6.86v2.47h-6.86zM193.38 122.55h6.86v17.01h-6.86zM193.38 141.93h6.86v7.32h-6.86zM193.38 151.63h6.86v7.32h-6.86zM193.38 161.32h6.86v2.47h-6.86zM193.38 166.17h6.86v65.48h-6.86zM200.19 45h6.86v2.47h-6.86zM200.19 49.85h6.86v4.9h-6.86zM200.19 61.96h6.86v2.47h-6.86zM200.19 66.81h6.86v2.47h-6.86zM200.19 71.66h6.86v9.74h-6.86zM200.19 83.77h6.86v7.32h-6.86zM200.19 110.43h6.86v14.59h-6.86zM200.19 134.66h6.86v14.59h-6.86zM200.19 151.63h6.86v19.44h-6.86zM200.19 173.44h6.86v7.32h-6.86zM200.19 185.55h6.86v33.98h-6.86zM200.19 221.91h6.86v2.47h-6.86zM200.19 226.75h6.86v4.9h-6.86zM200.19 287.34h6.86v2.47h-6.86z"/>
<path fill="#f5e4da" d="M43.6 277.64h6.86v2.47h-6.86zM43.6 284.91h6.86v4.9h-6.86zM43.6 318.84h6.86v2.47h-6.86zM43.6 330.96h6.86v2.47h-6.86zM43.6 350.34h6.86v2.47h-6.86zM50.41 61.96h6.86v2.47h-6.86zM50.41 246.14h6.86v2.47h-6.86zM50.41 253.41h6.86v2.47h-6.86zM50.41 267.95h6.86v2.47h-6.86zM50.41 275.22h6.86v2.47h-6.86zM50.41 282.49h6.86v2.47h-6.86zM50.41 316.42h6.86v2.47h-6.86zM50.41 323.69h6.86v2.47h-6.86zM50.41 369.73h6.86v4.9h-6.86zM57.22 202.52h6.86v2.47h-6.86zM57.22 250.99h6.86v2.47h-6.86zM57.22 263.1h6.86v2.47h-6.86zM57.22 272.8h6.86v2.47h-6.86zM57.22 289.76h6.86v4.9h-6.86zM57.22 313.99h6.86v9.74h-6.86zM57.22 326.11h6.86v2.47h-6.86zM57.22 333.38h6.86v4.9h-6.86zM57.22 367.31h6.86v2.47h-6.86zM64.03 265.53h6.86v2.47h-6.86zM64.03 280.07h6.86v2.47h-6.86zM64.03 294.61h6.86v2.47h-6.86zM64.03 309.15h6.86v4.9h-6.86zM64.03 328.53h6.86v2.47h-6.86zM64.03 335.8h6.86v2.47h-6.86zM64.03 364.88h6.86v2.47h-6.86zM64.03 372.15h6.86v2.47h-6.86zM70.83 255.83h6.86v7.32h-6.86zM70.83 265.53h6.86v2.47h-6.86zM70.83 321.26h6.86v2.47h-6.86zM70.83 330.96h6.86v4.9h-6.86zM70.83 362.46h6.86v2.47h-6.86zM70.83 369.73h6.86v2.47h-6.86zM77.64 246.14h6.86v2.47h-6.86zM77.64 272.8h6.86v2.47h-6.86zM77.64 297.03h6.86v2.47h-6.86zM77.64 301.88h6.86v2.47h-6.86zM77.64 326.11h6.86v2.47h-6.86zM77.64 335.8h6.86v2.47h-6.86zM77.64 343.07h6.86v2.47h-6.86zM77.64 367.31h6.86v2.47h-6.86zM84.45 280.07h6.86v2.47h-6.86zM84.45 294.61h6.86v2.47h-6.86zM84.45 299.45h6.86v2.47h-6.86zM84.45 313.99h6.86v2.47h-6.86zM84.45 318.84h6.86v2.47h-6.86zM84.45 328.53h6.86v2.47h-6.86zM91.26 238.87h6.86v4.9h-6.86zM91.26 246.14h6.86v2.47h-6.86zM91.26 260.68h6.86v4.9h-6.86zM91.26 270.37h6.86v2.47h-6.86zM91.26 277.64h6.86v2.47h-6.86zM91.26 328.53h6.86v2.47h-6.86zM91.26 333.38h6.86v2.47h-6.86zM91.26 350.34h6.86v2.47h-6.86zM91.26 364.88h6.86v4.9h-6.86zM91.26 374.58h6.86v2.47h-6.86zM98.07 263.1h6.86v2.47h-6.86zM98.07 316.42h6.86v2.47h-6.86zM98.07 335.8h6.86v2.47h-6.86zM98.07 372.15h6.86v2.47h-6.86zM104.88 248.56h6.86v7.32h-6.86zM104.88 316.42h6.86v2.47h-6.86zM104.88 333.38h6.86v2.47h-6.86zM104.88 345.5h6.86v2.47h-6.86zM104.88 364.88h6.86v4.9h-6.86zM111.68 270.37h6.86v2.47h-6.86zM111.68 275.22h6.86v2.47h-6.86zM111.68 311.57h6.86v2.47h-6.86zM111.68 335.8h6.86v2.47h-6.86zM111.68 350.34h6.86v2.47h-6.86zM111.68 364.88h6.86v2.47h-6.86zM111.68 374.58h6.86v2.47h-6.86zM118.49 289.76h6.86v2.47h-6.86zM125.3 311.57h6.86v2.47h-6.86zM132.11 47.42h6.86v4.9h-6.86zM132.11 66.81h6.86v2.47h-6.86zM132.11 83.77h6.86v2.47h-6.86zM132.11 115.28h6.86v4.9h-6.86zM132.11 129.82h6.86v2.47h-6.86zM132.11 221.91h6.86v2.47h-6.86zM138.92 49.85h6.86v2.47h-6.86zM138.92 61.96h6.86v2.47h-6.86zM138.92 69.23h6.86v2.47h-6.86zM138.92 81.35h6.86v2.47h-6.86zM138.92 91.04h6.86v4.9h-6.86zM138.92 105.58h6.86v2.47h-6.86zM138.92 110.43h6.86v7.32h-6.86zM138.92 132.24h6.86v4.9h-6.86zM138.92 156.47h6.86v2.47h-6.86zM138.92 161.32h6.86v2.47h-6.86zM138.92 217.06h6.86v2.47h-6.86zM138.92 221.91h6.86v2.47h-6.86zM145.72 47.42h6.86v2.47h-6.86zM145.72 64.39h6.86v2.47h-6.86zM145.72 105.58h6.86v2.47h-6.86zM145.72 112.85h6.86v2.47h-6.86zM145.72 120.12h6.86v4.9h-6.86zM145.72 156.47h6.86v2.47h-6.86zM145.72 171.01h6.86v2.47h-6.86zM145.72 180.71h6.86v2.47h-6.86zM145.72 187.98h6.86v4.9h-6.86zM145.72 207.36h6.86v2.47h-6.86zM152.53 49.85h6.86v2.47h-6.86zM152.53 54.69h6.86v2.47h-6.86zM152.53 64.39h6.86v2.47h-6.86zM152.53 71.66h6.86v2.47h-6.86zM152.53 83.77h6.86v2.47h-6.86zM152.53 105.58h6.86v2.47h-6.86zM152.53 120.12h6.86v2.47h-6.86zM152.53 132.24h6.86v2.47h-6.86zM152.53 178.28h6.86v2.47h-6.86zM152.53 197.67h6.86v4.9h-6.86zM152.53 209.79h6.86v7.32h-6.86zM152.53 219.48h6.86v2.47h-6.86zM159.34 45h6.86v2.47h-6.86zM159.34 59.54h6.86v2.47h-6.86zM159.34 69.23h6.86v2.47h-6.86zM159.34 74.08h6.86v7.32h-6.86zM159.34 86.2h6.86v2.47h-6.86zM159.34 115.28h6.86v2.47h-6.86zM159.34 124.97h6.86v2.47h-6.86zM159.34 129.82h6.86v2.47h-6.86zM159.34 154.05h6.86v2.47h-6.86zM159.34 180.71h6.86v2.47h-6.86zM159.34 190.4h6.86v2.47h-6.86zM159.34 195.25h6.86v2.47h-6.86zM159.34 200.09h6.86v2.47h-6.86zM159.34 219.48h6.86v2.47h-6.86zM159.34 226.75h6.86v2.47h-6.86zM166.15 45h6.86v2.47h-6.86zM166.15 59.54h6.86v2.47h-6.86zM166.15 69.23h6.86v2.47h-6.86zM166.15 81.35h6.86v2.47h-6.86zM166.15 86.2h6.86v2.47h-6.86zM166.15 91.04h6.86v2.47h-6.86zM166.15 112.85h6.86v2.47h-6.86zM166.15 117.7h6.86v2.47h-6.86zM166.15 132.24h6.86v2.47h-6.86zM166.15 156.47h6.86v2.47h-6.86zM172.96 49.85h6.86v2.47h-6.86zM172.96 57.12h6.86v2.47h-6.86zM172.96 64.39h6.86v2.47h-6.86zM172.96 86.2h6.86v2.47h-6.86zM172.96 108.01h6.86v2.47h-6.86zM172.96 117.7h6.86v2.47h-6.86zM172.96 122.55h6.86v2.47h-6.86zM172.96 192.82h6.86v2.47h-6.86zM179.77 61.96h6.86v2.47h-6.86zM179.77 105.58h6.86v2.47h-6.86zM179.77 115.28h6.86v2.47h-6.86zM179.77 158.9h6.86v2.47h-6.86zM179.77 166.17h6.86v2.47h-6.86zM179.77 173.44h6.86v2.47h-6.86zM179.77 178.28h6.86v2.47h-6.86zM186.57 61.96h6.86v2.47h-6.86zM186.57 91.04h6.86v2.47h-6.86zM186.57 110.43h6.86v2.47h-6.86zM186.57 149.2h6.86v2.47h-6.86zM186.57 171.01h6.86v2.47h-6.86zM186.57 183.13h6.86v2.47h-6.86zM186.57 195.25h6.86v4.9h-6.86zM186.57 202.52h6.86v2.47h-6.86zM200.19 54.69h6.86v2.47h-6.86zM200.19 59.54h6.86v2.47h-6.86zM200.19 69.23h6.86v2.47h-6.86zM200.19 95.89h6.86v4.9h-6.86zM200.19 108.01h6.86v2.47h-6.86zM200.19 132.24h6.86v2.47h-6.86zM200.19 180.71h6.86v4.9h-6.86zM200.19 224.33h6.86v2.47h-6.86z"/>
</g>
<path d="M207.9 46.21h8M207.9 48.64h6.2M207.9 51.06h8.8M207.9 53.48h4.8M207.9 55.91h5.6M207.9 58.33h5.6M207.9 60.75h8M207.9 63.18h4.8M207.9 65.6h6.8M207.9 68.02h4.8M207.9 70.45h5.6M207.9 72.87h8.8M207.9 75.29h8.8M207.9 77.72h5.6M207.9 80.14h6.8M207.9 82.56h5.6M207.9 84.99h8.8M207.9 87.41h4.8M207.9 89.83h5.6M207.9 92.26h6.8M207.9 94.68h4.8M207.9 97.1h8.8M207.9 99.53h4.8M207.9 101.95h6.8M207.9 104.37h4.8M207.9 106.8h6.2M207.9 109.22h7.4M207.9 111.64h8.8M207.9 114.07h6.2M207.9 116.49h5.6M207.9 118.91h7.4M207.9 121.34h6.2M207.9 123.76h5.6M207.9 126.18h6.8M207.9 128.61h8M207.9 131.03h5.6M207.9 133.45h5.6M207.9 135.88h4.8M207.9 138.3h6.8M207.9 140.72h9.6M207.9 143.15h8.8M207.9 145.57h8M207.9 147.99h9.6M207.9 150.42h9.6M207.9 152.84h8M207.9 155.26h7.4M207.9 157.69h6.8M207.9 160.11h6.2M207.9 162.53h6.8M207.9 164.96h5.6M207.9 167.38h7.4M207.9 169.8h9.6M207.9 172.23h8M207.9 174.65h9.6M207.9 177.07h7.4M207.9 179.5h5.6M207.9 181.92h5.6M207.9 184.34h8.8M207.9 186.77h6.2M207.9 189.19h8M207.9 191.61h6.2M207.9 194.04h9.6M207.9 196.46h8.8M207.9 198.88h4.8M207.9 201.31h5.6M207.9 203.73h8M207.9 206.15h8M207.9 208.58h8M207.9 211h9.6M207.9 213.42h9.6M207.9 215.85h5.6M207.9 218.27h5.6M207.9 220.69h7.4M207.9 223.12h9.6M207.9 225.54h5.6M207.9 227.96h4.8M207.9 230.39h7.4M207.9 232.81h9.6M207.9 235.23h7.4M207.9 237.66h8.8M207.9 240.08h8M207.9 242.5h4.8M207.9 244.93h9.6M207.9 247.35h8M207.9 249.77h6.2M207.9 252.2h5.6M207.9 254.62h9.6M207.9 257.04h4.8M207.9 259.47h6.8M207.9 261.89h7.4M207.9 264.31h6.2M207.9 266.74h6.8M207.9 269.16h8.8M207.9 271.58h8.8M207.9 274.01h9.6M207.9 276.43h5.6M207.9 278.85h6.2M207.9 281.28h9.6M207.9 283.7h8.8M207.9 286.12h7.4M207.9 288.55h6.2M207.9 290.97h8.8M207.9 293.39h7.4M207.9 295.82h8.8M207.9 298.24h8M207.9 300.66h8.8M207.9 303.09h6.8M207.9 305.51h6.2M207.9 307.93h5.6M207.9 310.36h6.2M207.9 312.78h6.2M207.9 315.2h6.8M207.9 317.63h6.8M207.9 320.05h4.8M207.9 322.47h9.6M207.9 324.9h6.2M207.9 327.32h7.4M207.9 329.74h7.4M207.9 332.17h4.8M207.9 334.59h6.2M207.9 337.01h8.8M207.9 339.44h8M207.9 341.86h8M207.9 344.28h6.2M207.9 346.71h4.8M207.9 349.13h9.6M207.9 351.55h8.8M207.9 353.98h8.8M207.9 356.4h8.8M207.9 358.82h8.8M207.9 361.25h5.6M207.9 363.67h9.6M207.9 366.09h8.8M207.9 368.52h4.8M207.9 370.94h6.8M207.9 373.36h5.6M207.9 375.79h6.8" stroke="#5a5a5a" stroke-width="1.15" fill="none" stroke-dasharray="1.0 0.4"/>
<path d="M41.4 48.64H40.05V51.06H41.4M41.4 46.21H39.34V49.85H40.05M41.4 53.48H39.88V55.91H41.4M41.4 58.33H40.11V60.75H41.4M39.88 54.69H38.17V59.54H40.11M39.34 48.03H37.68V57.12H38.17M41.4 63.18H40V65.6H41.4M37.68 52.57H36.98V64.39H40M41.4 68.02H39.86V70.45H41.4M36.98 58.48H36.04V69.23H39.86M41.4 72.87H39.97V75.29H41.4M41.4 77.72H39.83V80.14H41.4M41.4 87.41H39.86V89.83H41.4M41.4 84.99H39.31V88.62H39.86M41.4 82.56H38.22V86.8H39.31M39.83 78.93H37.76V84.68H38.22M39.97 74.08H37.36V81.8H37.76M36.04 63.86H35.64V77.94H37.36M41.4 94.68H39.93V97.1H41.4M41.4 92.26H39.34V95.89H39.93M39.34 94.07H38.23V99.53H41.4M41.4 101.95H40.04V104.37H41.4M38.23 96.8H37.28V103.16H40.04M41.4 106.8H39.99V109.22H41.4M41.4 111.64H39.96V114.07H41.4M39.96 112.85H39.36V116.49H41.4M39.36 114.67H38.54V118.91H41.4M39.99 108.01H37.46V116.79H38.54M37.46 112.4H37.01V121.34H41.4M37.28 99.98H36.07V116.87H37.01M41.4 123.76H39.76V126.18H41.4M41.4 128.61H40.05V131.03H41.4M41.4 133.45H39.84V135.88H41.4M39.84 134.66H38.93V138.3H41.4M40.05 129.82H38.3V136.48H38.93M39.76 124.97H36.79V133.15H38.3M36.07 108.42H34.72V129.06H36.79M35.64 70.9H33.15V118.74H34.72M41.4 145.57H40.02V147.99H41.4M41.4 143.15H39.07V146.78H40.02M41.4 140.72H38.62V144.96H39.07M41.4 150.42H39.83V152.84H41.4M41.4 155.26H40V157.69H41.4M39.83 151.63H38.58V156.47H40M41.4 164.96H40.05V167.38H41.4M41.4 162.53H39.25V166.17H40.05M41.4 160.11H38.17V164.35H39.25M38.58 154.05H36.57V162.23H38.17M38.62 142.84H35.75V158.14H36.57M41.4 169.8H39.94V172.23H41.4M39.94 171.01H39.28V174.65H41.4M35.75 150.49H35.14V172.83H39.28M41.4 177.07H40.05V179.5H41.4M41.4 184.34H39.82V186.77H41.4M41.4 181.92H39.09V185.55H39.82M39.09 183.74H38.46V189.19H41.4M41.4 191.61H39.83V194.04H41.4M38.46 186.46H37.26V192.82H39.83M40.05 178.28H36.86V189.64H37.26M41.4 196.46H40.07V198.88H41.4M36.86 183.96H36.46V197.67H40.07M41.4 201.31H39.89V203.73H41.4M39.89 202.52H38.85V206.15H41.4M38.85 204.34H38.45V208.58H41.4M36.46 190.82H35.21V206.46H38.45M35.14 161.66H34.74V198.64H35.21M33.15 94.82H31.52V180.15H34.74M41.4 213.42H39.93V215.85H41.4M41.4 211H38.9V214.64H39.93M41.4 218.27H40.12V220.69H41.4M40.12 219.48H38.81V223.12H41.4M38.9 212.82H37.62V221.3H38.81M41.4 225.54H39.95V227.96H41.4M37.62 217.06H37.22V226.75H39.95M37.22 221.91H36.62V230.39H41.4M31.52 137.49H29.5V226.15H36.62M41.4 232.81H39.82V235.23H41.4M41.4 237.66H40.09V240.08H41.4M39.82 234.02H38.57V238.87H40.09M41.4 244.93H39.81V247.35H41.4M41.4 242.5H39.08V246.14H39.81M41.4 252.2H39.95V254.62H41.4M41.4 249.77H38.84V253.41H39.95M38.84 251.59H38.44V257.04H41.4M41.4 259.47H39.89V261.89H41.4M38.44 254.32H37.78V260.68H39.89M39.08 244.32H36.19V257.5H37.78M41.4 264.31H40.01V266.74H41.4M40.01 265.53H38.81V269.16H41.4M36.19 250.91H35.79V267.34H38.81M41.4 271.58H39.98V274.01H41.4M39.98 272.8H39.31V276.43H41.4M39.31 274.61H38.31V278.85H41.4M41.4 281.28H40.05V283.7H41.4M41.4 286.12H39.85V288.55H41.4M40.05 282.49H38.63V287.34H39.85M41.4 290.97H39.83V293.39H41.4M38.63 284.91H37.59V292.18H39.83M38.31 276.73H36.66V288.55H37.59M41.4 298.24H40V300.66H41.4M40 299.45H38.95V303.09H41.4M41.4 295.82H38.33V301.27H38.95M41.4 305.51H39.99V307.93H41.4M41.4 310.36H39.82V312.78H41.4M39.99 306.72H38.54V311.57H39.82M38.54 309.15H38.14V315.2H41.4M41.4 317.63H39.9V320.05H41.4M41.4 322.47H40V324.9H41.4M40 323.69H39.07V327.32H41.4M39.9 318.84H37.69V325.5H39.07M41.4 334.59H39.85V337.01H41.4M41.4 332.17H39.01V335.8H39.85M41.4 329.74H38.61V333.99H39.01M37.69 322.17H36.4V331.86H38.61M38.14 312.18H36V327.02H36.4M38.33 298.54H35.6V319.6H36M41.4 339.44H39.97V341.86H41.4M39.97 340.65H39.25V344.28H41.4M41.4 346.71H39.93V349.13H41.4M39.93 347.92H38.81V351.55H41.4M39.25 342.47H37.97V349.74H38.81M41.4 353.98H39.79V356.4H41.4M41.4 358.82H39.87V361.25H41.4M39.87 360.04H39.07V363.67H41.4M39.07 361.85H38.43V366.09H41.4M38.43 363.97H37.77V368.52H41.4M39.79 355.19H36.99V366.25H37.77M41.4 373.36H39.86V375.79H41.4M41.4 370.94H39.05V374.58H39.86M36.99 360.72H36.06V372.76H39.05M37.97 346.1H35.58V366.74H36.06M35.6 309.07H33.88V356.42H35.58M36.66 282.64H33.48V332.75H33.88M35.79 259.13H32.56V307.69H33.48M38.57 236.45H27.5V283.41H32.56M29.5 181.82H6.7V259.93H27.5" stroke="#8e8e8e" stroke-width="0.5" fill="none"/>
<text x="7.2" y="15.5" font-size="11.6" textLength="6.9" lengthAdjust="spacingAndGlyphs">A</text>
<text x="83.1" y="24.6" font-size="7.7" text-anchor="middle" textLength="57.2" lengthAdjust="spacingAndGlyphs">PD-L1 not altered</text>
<text x="83.5" y="34.4" font-size="7.7" text-anchor="middle" textLength="25.5" lengthAdjust="spacingAndGlyphs">(n = 12)</text>
<text x="166" y="24.6" font-size="7.7" text-anchor="middle" textLength="44.2" lengthAdjust="spacingAndGlyphs">PD-L1 altered</text>
<text x="165.7" y="34.4" font-size="7.7" text-anchor="middle" textLength="25.3" lengthAdjust="spacingAndGlyphs">(n = 12)</text>
<line x1="45" y1="39.6" x2="122" y2="39.6" stroke="#231f20" stroke-width="1.25"/>
<line x1="127.3" y1="40" x2="204" y2="40" stroke="#231f20" stroke-width="1.25"/>
<text x="237.3" y="15.8" font-size="11.6" textLength="6" lengthAdjust="spacingAndGlyphs">B</text>
<path d="M352.0 162.6h.4M360.4 150.4h.4M364.7 103.2h.4M351.2 156.9h.4M360.5 117.0h.4M361.1 117.5h.4M350.1 155.2h.4M369.8 121.4h.4M349.1 139.8h.4M358.2 137.1h.4M357.0 143.1h.4M361.3 94.1h.4M360.1 131.8h.4M351.7 158.8h.4M340.6 113.0h.4M342.4 125.0h.4M340.4 97.8h.4M354.5 168.8h.4M355.8 170.6h.4M321.6 105.9h.4M369.2 134.3h.4M339.8 131.3h.4M359.2 160.1h.4M365.2 124.2h.4M377.2 135.8h.4M344.1 95.0h.4M349.0 155.7h.4M361.8 122.4h.4M360.3 118.7h.4M362.6 109.9h.4M386.9 112.8h.4M356.0 165.7h.4M344.7 144.8h.4M363.4 96.0h.4M363.6 133.7h.4M347.3 130.9h.4M362.7 101.1h.4M367.1 161.7h.4M338.8 149.9h.4M356.8 164.6h.4M352.5 164.3h.4M346.8 152.0h.4M363.0 101.7h.4M345.4 102.2h.4M354.0 170.9h.4M362.7 95.2h.4M357.2 145.5h.4M364.1 119.9h.4M350.3 169.3h.4M350.4 149.0h.4M346.6 137.6h.4M323.8 107.6h.4M367.8 102.8h.4M360.1 167.2h.4M328.9 135.4h.4M345.9 130.0h.4M340.4 112.0h.4M361.2 100.0h.4M362.0 145.2h.4M358.1 133.2h.4M346.8 163.8h.4M351.5 164.5h.4M342.4 93.0h.4M356.9 162.4h.4M364.7 96.9h.4M356.0 161.7h.4M362.4 166.4h.4M349.8 140.7h.4M344.5 164.0h.4M343.1 95.2h.4M351.5 168.9h.4M356.0 164.9h.4M358.1 156.7h.4M360.2 151.2h.4M344.1 118.9h.4M358.7 145.2h.4M360.4 127.7h.4M362.5 103.1h.4M347.1 143.0h.4M368.3 101.0h.4M342.0 95.9h.4M338.3 156.5h.4M358.2 134.6h.4M357.0 144.8h.4M341.0 99.4h.4M350.0 147.7h.4M347.4 129.1h.4M349.0 130.0h.4M356.2 156.0h.4M361.7 116.8h.4M378.2 105.1h.4M355.2 166.5h.4M358.4 150.6h.4M342.4 99.1h.4M362.7 115.7h.4M351.9 165.0h.4M366.9 146.8h.4M347.4 165.1h.4M338.8 111.8h.4M359.0 145.9h.4M357.0 159.9h.4M351.4 166.3h.4M338.4 112.8h.4M354.3 169.7h.4M346.6 137.1h.4M360.7 117.0h.4M357.6 151.4h.4M355.8 156.8h.4M345.4 122.3h.4M349.6 160.8h.4M355.5 163.6h.4M356.4 156.7h.4M358.7 151.5h.4M363.0 168.3h.4M360.9 141.9h.4M344.4 131.1h.4M346.0 121.3h.4M373.1 113.9h.4M361.5 122.6h.4M344.6 139.3h.4M350.3 160.1h.4M341.6 159.5h.4M355.2 160.4h.4M350.8 168.2h.4M360.4 126.4h.4M365.8 141.2h.4M352.1 170.2h.4M365.3 115.5h.4M354.6 167.9h.4M363.4 134.2h.4M366.4 135.5h.4M359.9 140.7h.4M348.2 157.5h.4M360.3 160.0h.4M345.6 155.9h.4M347.2 170.6h.4M351.1 160.9h.4M349.2 143.3h.4M358.4 157.9h.4M359.3 155.6h.4M378.2 109.2h.4M346.2 117.3h.4M356.3 161.0h.4M348.7 153.2h.4M368.9 113.5h.4M361.1 122.2h.4M359.5 170.2h.4M359.7 129.4h.4M344.4 167.4h.4M349.1 166.2h.4M350.6 169.9h.4M356.9 158.3h.4M351.6 158.7h.4M362.1 138.9h.4M342.0 155.7h.4M350.2 157.0h.4M341.8 119.9h.4M346.7 108.6h.4M345.8 116.7h.4M348.2 131.5h.4M348.1 140.8h.4M361.0 130.9h.4M342.4 96.4h.4M350.0 168.6h.4M352.5 170.5h.4M366.0 124.9h.4M352.7 168.6h.4M358.6 160.8h.4M350.3 143.7h.4M349.9 151.1h.4M370.0 130.6h.4M364.5 115.3h.4M356.3 148.6h.4M344.8 133.0h.4M351.4 158.8h.4M362.3 93.6h.4M361.5 122.6h.4M349.0 137.7h.4M357.9 168.2h.4M360.8 130.4h.4M346.4 117.3h.4M345.5 155.7h.4M368.5 93.0h.4M358.1 164.7h.4M349.6 147.6h.4M360.7 101.9h.4M345.5 94.4h.4M346.1 152.2h.4M359.9 147.1h.4M363.5 137.4h.4M347.6 115.4h.4M371.5 126.1h.4M357.0 154.2h.4M375.8 134.0h.4M343.1 113.1h.4M357.9 149.0h.4M359.5 149.5h.4M341.6 96.6h.4M340.1 108.7h.4M365.4 119.1h.4M348.6 165.5h.4M362.7 108.2h.4M383.0 122.4h.4M368.8 141.1h.4M358.8 154.7h.4M359.7 148.3h.4M344.0 109.8h.4M311.0 93.0h.4M356.2 163.5h.4M364.2 133.3h.4M361.7 113.7h.4M348.7 134.8h.4M352.6 167.6h.4M347.2 154.5h.4M363.6 99.8h.4M348.8 143.4h.4M351.2 155.3h.4M398.3 95.1h.4M359.2 139.4h.4M351.6 157.1h.4M359.4 159.7h.4M347.3 121.6h.4M354.6 163.3h.4M347.6 115.6h.4M363.9 156.1h.4M342.8 159.9h.4M363.6 147.6h.4M338.1 101.1h.4M355.8 161.7h.4M369.1 115.2h.4M350.3 163.6h.4M351.8 170.0h.4M349.7 150.1h.4M348.7 150.7h.4M374.4 96.6h.4M349.0 162.3h.4M343.3 103.2h.4M359.1 135.9h.4M348.6 139.7h.4M346.7 167.7h.4M345.7 129.4h.4M345.0 93.0h.4M344.3 151.9h.4M341.9 143.4h.4M364.8 106.0h.4M341.3 108.1h.4M356.5 165.0h.4M352.5 164.8h.4M358.5 155.2h.4M346.8 164.0h.4M355.3 168.1h.4M348.9 168.5h.4M358.6 127.7h.4M362.3 99.1h.4M359.7 114.8h.4M359.4 164.7h.4M346.0 146.3h.4M360.2 136.7h.4M340.6 141.5h.4M362.0 99.8h.4M345.9 161.0h.4M363.3 169.5h.4M356.0 162.2h.4M361.7 101.6h.4M358.8 126.5h.4M339.3 131.0h.4M354.9 168.4h.4M368.5 138.7h.4M349.5 158.4h.4M354.7 163.8h.4M345.0 105.2h.4M347.6 123.1h.4M338.0 147.1h.4M345.4 117.0h.4M349.5 169.1h.4M356.3 170.4h.4M376.4 95.4h.4M359.7 117.9h.4M345.3 108.3h.4M349.6 146.8h.4M357.2 152.5h.4M349.0 134.8h.4M349.2 153.4h.4M364.0 121.5h.4M351.7 170.0h.4M350.0 153.0h.4M350.6 159.7h.4M351.1 162.7h.4M349.7 138.3h.4M367.4 103.5h.4M358.4 161.7h.4M350.2 144.0h.4M351.0 169.3h.4M362.3 149.8h.4M350.2 165.7h.4M357.6 133.8h.4M343.0 95.3h.4M346.5 166.7h.4M338.1 119.7h.4M367.1 111.8h.4M352.2 164.1h.4M357.8 164.4h.4M349.5 139.1h.4M339.9 104.7h.4M351.1 163.8h.4M352.2 171.1h.4M349.1 141.7h.4M335.7 102.9h.4M343.8 129.2h.4M355.2 158.9h.4M351.1 165.9h.4M351.3 167.5h.4M357.4 151.8h.4M350.7 157.5h.4M366.6 95.2h.4M362.9 159.6h.4M348.4 121.8h.4M356.1 160.1h.4M327.6 111.0h.4M351.1 155.7h.4M356.5 165.2h.4M359.7 148.2h.4M362.6 168.6h.4M366.2 122.4h.4M356.7 170.2h.4M358.3 125.3h.4M346.4 151.5h.4M357.0 140.0h.4M374.5 141.5h.4M348.9 145.0h.4M364.1 99.8h.4M369.9 149.4h.4M362.5 155.8h.4M351.9 165.2h.4M350.0 147.9h.4M341.4 93.0h.4M366.1 131.3h.4M356.8 142.1h.4M360.5 115.6h.4M358.3 135.4h.4M362.8 107.3h.4M349.3 149.5h.4M355.6 170.6h.4M354.9 169.0h.4M356.8 159.9h.4M350.5 153.6h.4M343.5 146.9h.4M351.2 152.0h.4M335.1 99.7h.4M347.1 129.9h.4M346.1 149.7h.4M349.0 138.3h.4M356.2 157.5h.4M355.0 164.0h.4M380.3 116.0h.4M362.3 145.0h.4M352.4 168.5h.4M355.4 155.1h.4M355.7 163.3h.4M362.6 126.7h.4M356.6 156.7h.4M363.4 102.5h.4M358.8 142.5h.4M346.2 154.9h.4M346.8 120.6h.4M350.6 164.8h.4M361.9 93.0h.4M369.1 93.0h.4M362.3 121.4h.4M362.4 123.4h.4M368.2 115.6h.4M348.2 146.6h.4M348.2 129.4h.4M344.5 107.8h.4M349.7 142.4h.4M366.0 130.0h.4M360.3 127.8h.4M356.4 153.4h.4M361.0 148.3h.4M340.9 128.9h.4M350.1 146.3h.4M342.9 106.5h.4M352.4 166.5h.4M345.4 167.5h.4M355.1 161.8h.4M344.8 105.4h.4M348.6 143.3h.4M363.7 100.0h.4M357.4 158.5h.4M337.6 98.3h.4M363.7 93.2h.4M355.3 156.6h.4M340.2 148.6h.4M348.7 153.3h.4M351.4 161.0h.4M359.2 134.5h.4M347.5 151.7h.4M376.7 141.1h.4M341.4 125.5h.4M348.5 155.6h.4M355.7 165.3h.4M344.5 143.7h.4M363.3 155.9h.4M343.0 101.7h.4M345.6 151.9h.4M336.7 97.4h.4M348.3 147.4h.4M345.5 115.4h.4M347.0 111.9h.4M364.8 131.9h.4M344.2 167.4h.4M354.8 171.1h.4M347.5 123.5h.4M348.3 123.3h.4M349.9 138.7h.4M350.9 161.5h.4M343.8 94.4h.4M349.6 168.7h.4M349.1 142.9h.4M361.1 107.9h.4M360.6 110.8h.4M347.6 164.6h.4M359.0 138.2h.4M355.0 166.0h.4M355.0 170.9h.4M354.9 160.9h.4M357.6 145.7h.4M358.8 137.0h.4M357.5 164.9h.4M371.4 110.0h.4M363.4 97.9h.4M350.0 157.5h.4M346.7 144.9h.4M349.2 160.6h.4M340.0 101.2h.4M347.3 154.9h.4M348.7 154.0h.4M361.8 95.3h.4M345.4 95.6h.4M365.4 145.7h.4M359.4 139.1h.4M334.2 111.7h.4M342.7 132.0h.4M367.7 147.4h.4M347.7 159.8h.4M364.3 126.0h.4M365.7 141.5h.4M369.7 94.8h.4M366.9 147.3h.4M358.6 126.5h.4M347.6 158.0h.4M369.1 97.1h.4M363.9 103.6h.4M360.9 119.3h.4M362.3 136.3h.4M351.3 170.7h.4M361.8 108.5h.4M344.1 99.5h.4M346.5 164.2h.4M357.0 167.9h.4M356.7 168.2h.4M351.6 169.4h.4M336.9 136.9h.4M350.3 158.7h.4M358.6 153.0h.4M349.8 140.9h.4M348.2 132.3h.4M347.2 144.9h.4M370.5 139.4h.4M367.0 94.3h.4M345.3 119.2h.4M357.9 151.8h.4M349.4 155.0h.4M344.6 171.0h.4M350.7 154.0h.4M355.7 159.8h.4M350.9 168.3h.4M348.4 167.3h.4M360.0 158.8h.4M349.2 164.0h.4M365.9 158.4h.4M363.9 136.3h.4M359.4 128.3h.4M361.5 148.4h.4M350.5 145.1h.4M359.3 119.9h.4M359.8 123.0h.4M343.5 112.0h.4M359.1 152.3h.4M355.6 159.3h.4M333.9 142.7h.4M355.5 157.9h.4M355.6 168.1h.4M348.6 169.5h.4M354.7 170.8h.4M349.6 150.0h.4M350.0 151.2h.4M357.8 142.8h.4M361.4 109.3h.4M363.8 105.4h.4M351.5 161.8h.4M360.6 107.1h.4M345.1 110.7h.4M355.3 156.9h.4M355.1 158.1h.4M368.1 145.4h.4M351.6 170.1h.4M371.6 108.3h.4M346.4 163.3h.4M349.5 167.3h.4M347.1 151.5h.4M349.0 140.8h.4M346.8 152.5h.4M348.3 162.0h.4M350.8 159.0h.4M350.6 157.1h.4M350.0 140.4h.4M365.9 101.6h.4M356.4 160.9h.4M371.4 143.7h.4M339.9 102.6h.4M352.8 170.5h.4M364.1 142.0h.4M356.7 164.8h.4M345.5 147.3h.4M377.4 120.0h.4M356.9 146.9h.4M368.7 156.8h.4M339.8 99.4h.4M378.1 110.7h.4M365.8 96.9h.4M350.1 162.6h.4M352.5 166.3h.4M361.4 119.1h.4M359.7 157.1h.4M357.6 157.2h.4M350.9 170.2h.4M348.1 165.2h.4M352.9 168.4h.4M343.3 124.1h.4M346.3 113.0h.4M366.0 139.6h.4M343.9 144.8h.4M355.4 154.5h.4M344.3 154.5h.4M356.5 153.8h.4M342.4 95.3h.4M347.4 160.6h.4M346.6 123.7h.4M359.3 169.4h.4M347.2 165.8h.4M355.8 151.7h.4M349.9 148.2h.4M371.5 95.0h.4M356.0 164.4h.4M337.5 124.5h.4M349.8 164.9h.4M359.9 150.2h.4M353.0 169.5h.4M364.9 138.7h.4M352.0 170.7h.4M346.5 141.1h.4M335.9 143.5h.4M354.3 168.9h.4M367.0 93.0h.4M346.9 119.8h.4M360.9 110.6h.4M349.9 162.5h.4M352.4 169.2h.4M350.3 162.2h.4M367.6 155.2h.4M340.2 99.2h.4M344.6 120.2h.4M342.6 132.2h.4M347.5 126.9h.4M360.7 100.2h.4M346.0 101.1h.4M351.0 168.0h.4M356.2 169.0h.4M361.4 96.3h.4M344.2 123.3h.4M358.1 157.8h.4M337.6 105.7h.4M341.9 150.5h.4M356.8 152.5h.4M348.5 126.1h.4M349.2 141.0h.4M345.8 169.5h.4M361.2 99.9h.4M356.4 160.7h.4M346.7 147.9h.4M378.5 108.3h.4M356.5 143.3h.4M354.5 165.0h.4M356.1 166.2h.4M346.8 165.1h.4M368.4 112.1h.4M356.5 150.6h.4M350.1 144.5h.4M356.4 147.9h.4M349.3 154.4h.4M369.6 148.3h.4M348.4 164.8h.4M360.0 128.0h.4M351.7 168.7h.4M345.4 169.6h.4M342.5 150.6h.4M365.8 151.3h.4M359.0 150.2h.4M348.2 161.1h.4M347.2 111.7h.4M360.3 129.2h.4M371.2 133.1h.4M357.9 133.3h.4M355.9 152.5h.4M358.9 123.4h.4M358.3 131.3h.4M367.2 137.6h.4M383.0 109.5h.4M338.1 131.3h.4M359.0 170.5h.4M361.9 140.9h.4M361.5 114.6h.4M355.2 169.2h.4M338.5 104.4h.4M347.1 134.4h.4M352.1 165.2h.4M359.6 128.3h.4M345.2 100.0h.4M332.3 138.1h.4M347.9 126.6h.4M346.3 169.0h.4M344.6 112.2h.4M348.7 152.1h.4M360.7 130.4h.4M339.3 104.0h.4M360.5 106.9h.4M343.3 99.2h.4M351.5 157.5h.4M356.3 160.7h.4M361.4 142.6h.4M368.1 102.0h.4M337.5 128.7h.4M348.5 160.2h.4M349.0 151.8h.4M364.2 101.0h.4M365.0 131.5h.4M362.2 100.7h.4M356.3 148.4h.4M351.8 162.5h.4M359.2 140.8h.4M350.7 165.6h.4M355.2 157.2h.4M357.6 157.8h.4M364.1 153.3h.4M351.2 158.0h.4M359.2 168.1h.4M347.6 146.2h.4M349.9 148.2h.4M347.3 168.8h.4M351.5 157.0h.4M350.5 166.0h.4M349.4 159.3h.4M354.5 167.2h.4M360.4 108.4h.4M360.0 129.4h.4M350.4 143.7h.4M372.8 116.4h.4M343.9 140.9h.4M325.3 128.0h.4M351.5 160.5h.4M361.4 155.4h.4M351.6 155.5h.4M342.9 93.0h.4M357.5 147.6h.4M344.8 109.6h.4M360.3 122.9h.4M346.3 140.3h.4M354.4 170.0h.4M349.2 145.7h.4M352.6 170.0h.4M341.3 103.5h.4M341.0 93.0h.4M372.3 142.6h.4M348.2 123.1h.4M344.2 133.9h.4M343.7 144.2h.4M362.0 93.1h.4M350.2 165.6h.4M358.6 147.9h.4M343.1 93.1h.4M346.7 109.1h.4M354.4 167.4h.4M357.8 155.4h.4M365.5 150.9h.4M359.5 120.4h.4M364.9 131.7h.4M357.5 154.5h.4M356.7 150.9h.4M348.8 135.7h.4M345.6 106.9h.4M350.2 168.7h.4M349.3 131.2h.4M357.0 153.3h.4M347.5 139.3h.4M355.4 160.0h.4M347.2 139.2h.4M359.0 131.4h.4M351.2 163.3h.4M349.0 157.5h.4M343.0 131.4h.4M348.2 120.2h.4M349.2 160.1h.4M347.2 128.0h.4M348.9 150.2h.4M360.0 128.2h.4M370.6 123.5h.4M352.2 163.8h.4M348.5 146.9h.4M350.6 168.7h.4M328.9 105.7h.4M359.7 121.9h.4M346.8 158.6h.4M363.2 134.9h.4M355.8 166.4h.4M347.0 118.5h.4M346.7 147.9h.4M377.3 102.0h.4M364.2 147.6h.4M350.8 167.5h.4M360.2 130.5h.4M359.2 125.8h.4M350.0 166.0h.4M341.5 108.5h.4M365.4 93.0h.4M357.7 131.5h.4M342.7 102.6h.4M357.4 136.1h.4M350.3 151.0h.4M340.3 111.0h.4M373.8 117.7h.4M372.8 127.4h.4M346.4 136.4h.4M351.7 165.9h.4M360.6 148.5h.4M362.0 100.3h.4M356.9 169.8h.4M349.3 134.5h.4M359.4 129.7h.4M345.6 101.6h.4M364.5 144.4h.4M356.7 156.1h.4M350.9 162.8h.4M351.0 156.9h.4M350.5 156.5h.4M349.6 138.3h.4M355.4 165.3h.4M346.2 119.0h.4M347.2 143.8h.4M346.8 119.5h.4M363.7 102.7h.4M333.4 116.6h.4M364.1 103.1h.4M360.2 129.6h.4M355.4 161.1h.4M356.6 168.3h.4M345.8 112.5h.4M333.8 101.1h.4M327.3 133.9h.4M361.7 93.9h.4M344.7 110.6h.4M367.9 110.2h.4M351.0 168.7h.4M349.3 133.8h.4M358.0 139.6h.4M359.9 134.7h.4M357.7 151.8h.4M355.1 166.8h.4M342.0 164.8h.4M352.5 166.2h.4M346.5 156.7h.4M361.5 108.5h.4M363.8 106.3h.4M348.5 137.5h.4M350.2 153.9h.4M349.3 153.3h.4M356.3 154.5h.4M363.5 127.5h.4M357.3 137.6h.4M349.7 158.3h.4M347.5 128.6h.4M361.2 127.9h.4M360.3 133.0h.4M355.1 169.9h.4M360.5 122.9h.4M360.6 114.9h.4M349.9 144.7h.4M363.5 161.7h.4M361.7 157.7h.4M350.5 155.6h.4M344.0 93.0h.4M356.4 146.1h.4M348.2 126.4h.4M345.3 134.3h.4M346.9 135.2h.4M357.4 153.3h.4M358.5 152.4h.4M359.4 115.3h.4M357.4 157.5h.4M333.6 93.0h.4M361.0 103.0h.4M359.0 139.1h.4M357.3 162.3h.4M350.0 151.1h.4M358.6 130.7h.4M356.2 169.4h.4M347.4 116.1h.4M338.1 139.8h.4M352.1 165.9h.4M346.5 139.0h.4M350.2 149.8h.4M365.7 132.0h.4M348.0 156.3h.4M351.8 159.7h.4M359.1 122.8h.4M359.0 156.9h.4M387.0 100.0h.4M349.9 146.8h.4M357.6 153.6h.4M341.3 96.9h.4M337.8 128.7h.4M358.7 150.0h.4M351.2 163.8h.4M359.6 136.3h.4M370.5 112.0h.4M349.2 166.1h.4M352.1 164.5h.4M349.7 162.9h.4M354.5 167.1h.4M363.9 105.9h.4M368.2 101.0h.4M360.4 114.7h.4M337.7 156.6h.4M345.6 101.6h.4M349.4 149.4h.4M352.0 167.4h.4M359.4 126.4h.4M354.4 164.5h.4M371.9 102.5h.4M355.2 158.0h.4M360.2 140.8h.4M343.6 135.1h.4M351.8 164.2h.4M360.0 155.7h.4M350.5 150.9h.4M350.8 158.8h.4M357.5 153.1h.4M361.4 148.1h.4M331.8 93.0h.4M358.4 149.1h.4M344.6 98.8h.4M343.4 130.6h.4M358.8 140.7h.4M350.7 149.9h.4M343.9 118.3h.4M343.7 108.7h.4M362.2 134.3h.4M350.7 158.5h.4M356.8 154.1h.4M335.1 126.4h.4M371.0 126.3h.4M359.3 121.2h.4M357.6 146.4h.4M358.8 155.5h.4M340.3 97.2h.4M349.5 151.1h.4M356.4 157.6h.4M369.7 154.7h.4M356.8 166.4h.4M350.5 160.0h.4M345.0 127.7h.4M346.6 127.5h.4M357.2 145.2h.4M342.0 101.4h.4M369.7 128.1h.4M349.3 155.1h.4M351.5 169.0h.4M357.5 138.4h.4M326.9 126.3h.4M347.5 122.0h.4M350.1 144.1h.4M351.6 162.2h.4M349.1 132.0h.4M356.2 164.6h.4M365.1 126.9h.4M349.8 146.4h.4M347.9 145.1h.4M355.9 169.9h.4M355.4 167.3h.4M342.4 102.2h.4M351.4 153.9h.4M356.9 156.5h.4M364.8 96.2h.4M362.8 163.1h.4M375.4 131.7h.4M344.2 130.1h.4M351.5 171.1h.4M354.7 170.0h.4M347.1 136.1h.4M356.1 159.8h.4M340.0 119.1h.4M344.2 100.0h.4M364.4 143.5h.4M338.5 133.8h.4M362.1 167.6h.4M336.2 129.9h.4M352.5 165.6h.4M361.8 112.4h.4M351.9 164.7h.4M344.5 93.0h.4M350.1 159.8h.4M359.4 123.1h.4M352.7 166.3h.4M359.5 146.4h.4M355.7 157.1h.4M349.1 149.7h.4M348.7 144.1h.4M357.6 138.4h.4M362.9 102.7h.4M355.9 166.3h.4M363.4 116.4h.4M347.3 131.7h.4M354.5 169.3h.4M340.8 106.2h.4M351.2 151.3h.4M374.9 129.2h.4M371.2 93.3h.4M343.9 93.0h.4M356.8 158.0h.4M364.9 112.6h.4M350.3 155.7h.4M351.1 170.4h.4M361.0 147.9h.4M361.3 100.8h.4M356.9 164.0h.4M357.9 145.8h.4M355.8 161.0h.4M337.7 107.4h.4M349.6 147.4h.4M344.4 141.2h.4M348.1 132.1h.4M364.1 133.8h.4M347.8 152.5h.4M359.4 156.1h.4M350.5 157.3h.4M337.8 117.3h.4M351.8 163.9h.4M354.4 169.4h.4M360.2 125.1h.4M345.6 157.9h.4M346.7 119.7h.4M345.7 144.4h.4M349.7 168.0h.4M350.4 164.4h.4M356.8 170.3h.4M362.8 99.8h.4M348.4 151.9h.4M360.8 103.8h.4M366.5 133.9h.4M331.7 133.2h.4M356.1 159.6h.4M358.6 133.7h.4M346.0 133.0h.4M344.6 95.6h.4M350.0 161.4h.4M362.0 122.3h.4M358.6 132.4h.4M351.5 156.5h.4M351.0 170.2h.4M351.0 164.8h.4M349.5 135.1h.4M342.8 133.1h.4M359.1 125.5h.4M357.3 159.9h.4M350.9 162.2h.4M356.1 156.9h.4M350.9 164.0h.4M344.3 117.9h.4M362.9 145.1h.4M355.2 162.3h.4M355.3 170.6h.4M356.0 169.7h.4M358.4 147.9h.4M355.3 157.5h.4M340.4 115.7h.4M334.3 118.8h.4M361.9 162.1h.4M334.4 107.2h.4M349.4 154.3h.4M347.8 139.5h.4M356.6 151.8h.4M345.5 130.4h.4M335.9 103.0h.4M360.6 132.1h.4M357.6 154.4h.4M349.9 166.0h.4M351.7 167.0h.4M334.0 142.6h.4M344.6 99.5h.4M339.7 99.7h.4M362.6 139.1h.4M357.4 169.1h.4M331.5 94.1h.4M366.6 112.9h.4M324.1 103.5h.4M347.0 133.0h.4M365.0 115.7h.4M345.9 123.5h.4M339.0 150.1h.4M362.6 126.0h.4M356.6 160.6h.4M354.7 164.5h.4M345.1 127.1h.4M356.2 154.1h.4M357.7 147.5h.4M357.6 154.7h.4M359.3 153.5h.4M350.9 170.8h.4M361.5 97.1h.4M358.0 144.0h.4M356.5 166.8h.4M365.5 125.0h.4M345.1 98.7h.4M351.0 158.4h.4M330.6 113.6h.4M361.2 95.4h.4M346.0 127.5h.4M346.5 124.3h.4M359.9 144.5h.4M352.0 160.1h.4M351.7 164.3h.4M361.9 129.0h.4M341.5 93.0h.4M360.0 154.1h.4M348.3 144.5h.4M364.7 114.3h.4M361.1 104.1h.4M340.8 155.7h.4M357.4 165.5h.4M334.7 99.6h.4M360.3 115.1h.4M359.3 128.2h.4M358.7 139.2h.4M347.4 116.7h.4M367.4 126.2h.4M351.8 169.9h.4M359.3 135.3h.4M374.8 96.2h.4M363.0 157.2h.4M350.8 157.1h.4M356.3 169.3h.4M360.1 132.8h.4M363.7 117.8h.4M367.4 118.0h.4M358.5 162.8h.4M362.5 135.9h.4M345.7 125.4h.4M350.2 157.3h.4M356.0 169.0h.4M375.1 129.3h.4M351.8 160.8h.4M347.8 142.1h.4M358.9 132.5h.4M350.3 162.0h.4M346.7 139.7h.4M355.3 168.2h.4M352.1 166.5h.4M357.0 141.4h.4M314.6 105.2h.4M361.6 141.2h.4M347.0 158.9h.4M359.8 127.5h.4M347.5 169.6h.4M355.6 156.9h.4M367.6 102.5h.4M340.3 117.5h.4M348.5 152.8h.4M355.8 157.4h.4M357.0 161.9h.4M355.5 170.6h.4M357.5 144.7h.4M356.7 162.9h.4M351.3 170.5h.4M346.9 122.6h.4M360.1 135.4h.4M351.6 165.8h.4M340.0 109.4h.4M348.6 169.5h.4M356.6 158.7h.4M356.9 145.9h.4M344.6 131.7h.4M358.2 134.3h.4M351.0 171.1h.4M350.8 154.7h.4M342.5 101.8h.4M361.6 112.1h.4M347.6 138.6h.4M338.7 103.6h.4M363.0 93.0h.4M348.4 162.8h.4M348.5 168.8h.4M345.3 145.4h.4M354.5 170.2h.4M350.9 158.9h.4M347.2 113.4h.4M355.2 167.3h.4M357.3 158.5h.4M355.4 157.8h.4M357.8 162.7h.4M345.9 119.6h.4M334.2 130.6h.4M347.0 117.2h.4M350.3 163.1h.4M345.9 130.8h.4M324.5 97.1h.4M363.3 164.7h.4M369.2 153.6h.4M373.3 118.0h.4M345.9 124.1h.4M345.9 104.8h.4M342.1 121.4h.4M350.1 168.1h.4M356.2 148.9h.4M363.2 151.3h.4M363.9 95.0h.4M356.7 159.2h.4M355.0 164.7h.4M343.0 145.9h.4M360.0 116.6h.4M366.7 131.6h.4M360.4 144.8h.4M341.3 143.6h.4M348.7 132.9h.4M350.5 169.4h.4M357.2 144.9h.4M356.5 168.3h.4M356.0 163.7h.4M378.3 100.0h.4M358.5 157.6h.4M347.8 152.1h.4M373.6 129.4h.4M366.0 161.0h.4M352.2 165.2h.4M360.4 147.0h.4M343.6 153.2h.4M359.5 130.8h.4M359.3 116.3h.4M363.7 97.1h.4M359.5 128.4h.4M369.7 141.4h.4M363.0 130.5h.4M352.4 169.2h.4M363.0 99.4h.4M351.5 166.8h.4M348.2 138.5h.4M364.9 144.1h.4M379.4 93.9h.4M350.3 151.2h.4M359.7 129.0h.4M339.2 157.0h.4M356.3 163.8h.4M358.0 165.5h.4M348.6 131.8h.4M357.2 160.7h.4M350.9 152.3h.4M362.6 163.6h.4M364.4 142.3h.4M343.1 131.3h.4M349.2 169.4h.4M357.1 163.5h.4M339.1 96.5h.4M351.6 166.0h.4M338.8 128.5h.4M342.1 132.7h.4M346.8 126.1h.4M363.3 103.4h.4M367.1 95.5h.4M363.5 113.1h.4M360.6 114.2h.4M348.6 154.7h.4M357.3 145.6h.4M348.8 167.8h.4M344.3 155.9h.4M346.6 108.5h.4M345.2 115.1h.4M362.7 97.8h.4M350.3 156.4h.4M361.5 123.0h.4M334.0 123.2h.4M347.3 116.4h.4M355.8 154.0h.4M356.1 163.1h.4M358.1 137.3h.4M359.9 146.7h.4M347.4 149.2h.4M361.8 170.3h.4M349.8 169.9h.4M352.4 167.4h.4M348.8 143.1h.4M345.1 117.0h.4M337.8 97.7h.4M347.2 119.0h.4M357.9 140.8h.4M347.4 137.1h.4M360.5 165.9h.4M360.4 135.6h.4M340.1 134.5h.4M361.6 127.8h.4M336.3 129.7h.4M342.2 98.3h.4M368.3 94.7h.4M337.6 125.0h.4M341.0 137.1h.4M349.1 138.6h.4M372.9 122.1h.4M360.3 154.8h.4M349.4 155.4h.4M352.6 165.1h.4M365.5 134.4h.4M361.0 109.6h.4M338.5 98.8h.4M351.7 162.6h.4M352.9 168.6h.4M347.9 128.2h.4M355.0 164.5h.4M346.6 139.6h.4M352.1 165.3h.4M341.1 114.1h.4M361.4 168.2h.4M350.2 150.6h.4M366.2 136.5h.4M358.0 166.1h.4M362.0 114.8h.4M350.0 148.8h.4M342.3 107.4h.4M358.2 167.5h.4M358.5 122.8h.4M327.2 94.0h.4M364.8 111.6h.4M355.2 161.0h.4M361.0 164.7h.4M344.6 97.2h.4M356.0 155.2h.4M362.8 121.3h.4M363.0 143.8h.4M348.8 147.9h.4M365.6 129.7h.4M344.0 153.3h.4M360.4 120.4h.4M345.7 135.5h.4M337.6 112.5h.4M356.3 167.1h.4M345.6 147.8h.4M360.3 129.0h.4M356.6 168.7h.4M343.3 107.7h.4M346.9 154.2h.4M362.8 104.7h.4M349.7 165.9h.4M342.8 133.3h.4M359.8 124.4h.4M347.4 134.3h.4M363.5 152.0h.4M348.0 139.9h.4M357.3 167.1h.4M345.7 113.1h.4M346.8 140.6h.4M364.9 100.4h.4M359.5 137.7h.4M350.6 157.6h.4M346.5 110.9h.4M360.8 124.2h.4M349.0 131.9h.4M359.5 156.3h.4M350.1 149.6h.4M354.4 164.9h.4M349.2 164.8h.4M366.0 139.0h.4M349.5 165.4h.4M347.7 148.8h.4M361.9 160.9h.4M364.6 110.6h.4M346.7 134.1h.4M342.9 102.4h.4M362.9 93.5h.4M349.6 170.5h.4M369.3 154.3h.4M356.9 144.5h.4M345.6 105.0h.4M341.4 107.7h.4M341.3 110.4h.4M339.7 139.8h.4M347.8 149.1h.4M363.3 102.9h.4M360.2 113.6h.4M356.7 152.5h.4M348.7 168.0h.4M356.3 169.4h.4M360.9 130.9h.4M352.4 166.8h.4M347.4 140.1h.4M368.2 153.1h.4M345.3 96.7h.4M356.6 156.4h.4M359.2 140.2h.4M345.7 156.6h.4M347.7 149.9h.4M341.6 128.2h.4M368.3 156.4h.4M355.9 160.0h.4M348.8 154.8h.4M363.9 96.8h.4M356.8 168.4h.4M365.2 113.0h.4M355.9 154.0h.4M351.4 159.8h.4M349.8 153.2h.4M346.1 106.9h.4M366.7 153.4h.4M358.1 150.3h.4M362.2 109.3h.4M351.9 169.2h.4M359.8 165.0h.4M361.2 138.4h.4M342.7 103.6h.4M349.3 134.7h.4M383.0 102.0h.4M354.9 166.5h.4M345.8 115.3h.4M356.0 169.8h.4M356.1 159.3h.4M347.7 135.9h.4M356.8 151.3h.4M361.1 111.1h.4M333.4 135.2h.4M345.6 103.5h.4M352.5 167.6h.4M351.3 169.1h.4M348.5 150.0h.4M350.8 160.0h.4M355.8 167.8h.4M363.2 138.7h.4M366.5 121.6h.4M350.1 170.9h.4M357.0 160.2h.4M351.0 159.3h.4M350.3 155.1h.4M354.6 167.7h.4M348.0 160.2h.4M359.0 146.9h.4M361.6 125.2h.4M359.7 140.6h.4M350.5 158.9h.4M355.7 152.0h.4M360.9 153.1h.4M361.7 110.9h.4M358.4 170.3h.4M343.3 94.9h.4M366.1 125.2h.4M352.0 167.6h.4M349.6 141.9h.4M355.3 166.8h.4M364.0 135.4h.4M351.8 162.1h.4M351.7 167.4h.4M351.0 157.0h.4M347.2 116.8h.4M350.1 152.7h.4M355.9 165.9h.4M352.2 166.5h.4M341.0 94.9h.4M345.4 165.2h.4M351.7 162.5h.4M368.4 113.0h.4M359.9 165.3h.4M358.5 136.2h.4M357.7 167.5h.4M343.7 155.7h.4M350.9 168.3h.4M349.9 140.2h.4M340.0 108.7h.4M369.8 116.7h.4M359.0 138.4h.4M361.7 106.7h.4M356.5 163.3h.4M362.0 109.6h.4M362.9 105.0h.4M347.4 139.7h.4M330.9 93.0h.4M370.0 144.2h.4M349.4 142.9h.4M346.9 122.5h.4M366.1 127.4h.4M346.6 154.8h.4M346.5 121.5h.4M349.6 164.9h.4M355.5 157.9h.4M357.3 169.2h.4M359.0 129.5h.4M347.3 124.1h.4M364.1 99.3h.4M342.6 93.0h.4M352.2 161.3h.4M346.2 135.2h.4M366.7 103.9h.4M378.3 104.3h.4M356.9 163.4h.4M347.6 119.7h.4M365.4 111.9h.4M348.7 168.1h.4M350.2 146.0h.4M358.2 136.1h.4M343.7 105.5h.4M355.0 170.7h.4M344.4 163.4h.4M340.9 98.9h.4M315.8 103.7h.4M348.3 124.7h.4M344.7 100.0h.4M354.3 170.5h.4M357.3 140.0h.4M339.3 93.0h.4M356.8 161.4h.4M361.5 147.2h.4M347.5 155.8h.4M341.7 145.1h.4M366.8 129.9h.4M348.2 150.1h.4M361.6 150.1h.4M363.2 101.5h.4M359.7 144.0h.4M363.7 136.7h.4M349.9 150.6h.4M358.2 170.1h.4M352.0 163.8h.4M351.8 161.2h.4M348.9 159.1h.4M360.0 118.6h.4M348.2 167.6h.4M357.2 169.2h.4M356.4 150.7h.4M345.4 93.0h.4M366.0 121.0h.4M359.0 138.7h.4M358.0 133.3h.4M340.3 133.1h.4M346.4 151.4h.4M357.4 163.5h.4M350.1 159.9h.4M356.1 154.3h.4M357.9 138.7h.4M355.7 158.6h.4M349.2 157.4h.4M364.4 150.4h.4M352.5 166.3h.4M347.9 134.9h.4M348.5 147.9h.4M356.0 165.7h.4M348.0 137.7h.4M347.4 136.5h.4M356.6 155.8h.4M340.0 159.2h.4M346.3 130.1h.4M364.6 138.1h.4M357.0 163.9h.4M354.7 168.9h.4M373.1 142.4h.4M355.6 166.0h.4M350.7 152.8h.4M348.5 146.7h.4M357.0 155.6h.4M355.8 165.7h.4M364.4 148.4h.4M350.5 161.1h.4M358.5 142.4h.4M360.1 134.2h.4M357.5 159.9h.4M362.2 122.0h.4M358.5 169.9h.4M341.5 93.2h.4M350.5 164.0h.4M352.9 170.0h.4M378.7 100.4h.4M357.7 138.9h.4M356.9 170.3h.4M366.9 95.1h.4M375.1 106.6h.4M360.2 165.7h.4M346.4 116.4h.4M350.9 150.3h.4M350.8 165.1h.4M347.3 168.7h.4M343.2 128.5h.4M356.2 163.8h.4M360.1 155.7h.4M343.7 119.0h.4M349.4 152.5h.4M350.8 157.4h.4M360.4 111.7h.4M355.3 168.1h.4M356.5 152.4h.4M351.8 157.8h.4M362.7 114.0h.4M347.9 129.8h.4M360.0 142.8h.4M337.7 96.8h.4M347.2 124.4h.4M349.0 129.8h.4M364.7 106.8h.4M347.9 161.8h.4M352.0 166.7h.4M354.4 170.1h.4M351.2 154.7h.4M358.1 143.8h.4M358.6 132.7h.4M360.6 116.4h.4M348.9 133.4h.4M362.4 159.0h.4M344.3 98.0h.4M364.4 153.5h.4M341.7 121.3h.4M355.0 169.9h.4M345.8 104.6h.4M362.0 105.8h.4M348.9 156.6h.4M355.9 157.9h.4M357.1 146.5h.4M348.7 130.9h.4M355.4 166.8h.4M369.1 145.4h.4M347.7 120.5h.4M384.4 103.7h.4M366.4 93.0h.4M346.3 108.9h.4M363.3 150.7h.4M347.5 159.3h.4M343.4 107.9h.4M347.4 145.6h.4M364.8 138.5h.4M342.0 143.5h.4M349.2 161.5h.4M338.6 134.4h.4M332.8 121.3h.4M345.1 113.3h.4M356.3 149.2h.4M349.7 171.1h.4M347.4 151.6h.4M345.2 109.3h.4M355.4 157.5h.4M343.7 124.3h.4M355.6 163.6h.4M344.8 116.1h.4M359.2 154.1h.4M355.3 156.2h.4M368.6 158.4h.4M355.8 153.9h.4M351.6 166.6h.4M360.5 138.8h.4M356.2 159.5h.4M355.7 165.7h.4M350.4 145.4h.4M345.6 94.5h.4M367.7 150.8h.4M354.3 168.6h.4M372.6 148.5h.4M347.7 124.2h.4M368.6 119.2h.4M358.9 163.3h.4M356.7 165.6h.4M348.1 151.7h.4M359.3 151.7h.4M368.0 125.3h.4M358.9 151.6h.4M369.7 93.2h.4M352.0 163.5h.4M374.4 93.3h.4M360.4 168.2h.4M343.4 116.6h.4M357.5 145.2h.4M349.1 140.8h.4M357.6 162.0h.4M341.4 153.7h.4M346.6 119.2h.4M348.1 158.7h.4M357.9 171.0h.4M363.5 104.2h.4M349.1 155.6h.4M348.2 149.5h.4M381.1 110.5h.4M360.8 146.2h.4M357.2 142.8h.4M349.6 137.8h.4M346.1 104.1h.4M359.2 155.7h.4M361.1 100.1h.4M351.0 161.3h.4M341.4 107.7h.4M349.0 140.9h.4M345.0 161.5h.4M358.5 147.8h.4M366.6 127.9h.4M367.8 129.7h.4M350.4 149.2h.4M351.9 163.8h.4M361.2 110.2h.4M332.2 138.7h.4M341.7 93.0h.4M348.7 134.9h.4M357.5 164.8h.4M368.8 102.4h.4M367.3 93.7h.4M343.0 123.1h.4M361.5 121.9h.4M359.2 154.1h.4M349.8 140.2h.4M362.0 157.0h.4M363.9 98.8h.4M364.9 144.5h.4M359.6 129.2h.4M352.0 162.0h.4M356.5 147.9h.4M349.4 137.2h.4M349.0 143.8h.4M339.0 98.9h.4M379.4 114.2h.4M360.5 134.6h.4M345.7 125.0h.4M355.8 159.8h.4M345.3 123.8h.4M346.3 128.3h.4M351.6 163.9h.4M357.6 148.5h.4M361.5 111.7h.4M350.0 165.5h.4M346.6 131.1h.4M358.6 161.4h.4M346.0 102.4h.4M343.5 108.0h.4M357.6 162.8h.4M342.1 110.0h.4M349.9 143.9h.4M350.9 164.2h.4M347.3 147.4h.4M360.8 114.9h.4M351.6 160.2h.4M351.3 161.1h.4M361.9 137.8h.4M358.9 154.4h.4M349.9 139.4h.4M348.7 126.2h.4M318.8 102.6h.4M343.6 119.6h.4M350.0 147.4h.4M341.1 113.1h.4M354.6 165.3h.4M360.2 154.0h.4M347.0 123.7h.4M359.2 161.3h.4M362.5 135.4h.4M348.7 144.9h.4M368.7 156.2h.4M349.4 143.5h.4M348.4 166.1h.4M345.9 119.3h.4M346.6 134.6h.4M362.3 96.7h.4M348.3 132.4h.4M340.2 94.3h.4M349.4 139.2h.4M354.0 169.8h.4M355.3 169.1h.4M356.5 158.4h.4M348.0 124.9h.4M359.5 114.1h.4M346.0 159.3h.4M364.2 98.5h.4M369.9 121.1h.4M350.2 143.6h.4M364.4 139.9h.4M358.7 153.1h.4M360.7 149.2h.4M356.2 170.6h.4M344.2 119.5h.4M347.3 126.7h.4M365.8 127.4h.4M359.3 140.5h.4M350.8 170.1h.4M351.7 170.3h.4M356.4 168.2h.4M356.2 153.5h.4M350.6 166.9h.4M348.9 168.8h.4M348.2 125.5h.4M360.3 152.9h.4M350.7 170.9h.4M349.2 162.0h.4M344.0 124.0h.4M346.4 147.2h.4M368.3 134.5h.4M350.3 143.2h.4M357.2 154.4h.4M355.0 165.0h.4M361.2 145.7h.4M351.3 153.9h.4M341.1 100.6h.4M350.8 165.6h.4M349.1 144.9h.4M343.8 119.2h.4M350.7 170.6h.4M354.9 166.5h.4M354.0 168.3h.4M362.3 145.5h.4M345.2 102.4h.4M345.2 151.8h.4M364.5 163.8h.4M349.4 142.8h.4M346.6 145.7h.4M358.2 157.0h.4M346.8 116.6h.4M351.5 171.0h.4M352.5 163.9h.4M338.6 115.5h.4M358.6 140.0h.4M360.6 111.7h.4M360.0 128.0h.4M348.7 158.6h.4M363.6 109.6h.4M348.4 150.8h.4M348.3 136.7h.4M349.2 160.2h.4M361.6 114.3h.4M347.2 117.7h.4M355.6 166.2h.4M348.7 166.0h.4M356.5 154.0h.4M356.9 159.1h.4M358.9 134.0h.4M346.8 141.6h.4M350.0 157.0h.4M347.2 164.0h.4M350.0 146.1h.4M356.4 155.7h.4M362.5 157.3h.4M344.6 138.3h.4M347.9 155.0h.4M348.8 159.8h.4M348.4 132.6h.4M349.4 141.4h.4M355.6 165.8h.4M349.8 160.7h.4M342.1 151.6h.4M358.1 141.7h.4M359.7 133.9h.4M370.9 101.6h.4M341.9 97.8h.4M339.5 159.8h.4M372.0 126.7h.4M336.6 93.0h.4M375.2 97.3h.4M369.7 102.6h.4M357.0 151.7h.4M346.8 141.3h.4M346.9 122.3h.4M355.5 154.3h.4M360.4 123.6h.4M364.4 117.0h.4M342.3 164.1h.4M330.4 98.2h.4M359.8 128.3h.4M342.5 105.0h.4M361.6 115.6h.4M359.0 125.7h.4M362.0 130.3h.4M371.1 142.0h.4M359.0 124.7h.4M360.0 120.7h.4M345.6 107.7h.4M354.6 166.5h.4M357.1 146.2h.4M344.8 104.1h.4M345.5 117.5h.4M360.3 153.5h.4M324.5 99.7h.4M366.7 105.0h.4M348.2 129.2h.4M389.3 106.7h.4M355.6 156.0h.4M351.2 160.0h.4M364.3 151.3h.4M343.2 126.9h.4M360.2 124.3h.4M347.4 144.1h.4M379.5 134.9h.4M362.7 108.6h.4M347.9 137.2h.4M341.1 108.9h.4M354.8 161.3h.4M362.4 103.4h.4M349.6 139.6h.4M341.1 162.3h.4M355.7 164.8h.4M343.7 97.2h.4M347.0 110.4h.4M345.6 110.2h.4M345.5 133.2h.4M360.3 138.8h.4M345.1 167.6h.4M355.2 162.3h.4M348.2 127.3h.4M343.7 152.6h.4M347.5 145.4h.4M346.9 138.9h.4M343.0 119.2h.4M355.8 165.5h.4M347.0 140.4h.4M355.2 166.9h.4M346.4 159.5h.4M356.8 165.6h.4M351.0 163.4h.4M359.2 169.9h.4M352.0 161.5h.4M361.3 97.8h.4M362.3 102.8h.4M346.1 155.7h.4M341.6 94.7h.4M355.9 169.5h.4M363.1 93.0h.4M357.6 148.9h.4M365.7 93.0h.4M349.2 132.7h.4M363.8 93.0h.4M360.2 149.8h.4M385.0 115.3h.4M342.1 131.2h.4M343.6 117.7h.4M351.7 159.4h.4M348.9 128.2h.4M360.2 152.1h.4M350.3 151.6h.4M360.1 111.9h.4M352.4 168.4h.4M366.8 102.5h.4M354.7 165.8h.4M359.7 155.2h.4M366.6 94.5h.4M345.9 132.5h.4M349.9 144.7h.4M360.6 113.4h.4M355.1 170.2h.4M335.9 112.5h.4M352.2 165.2h.4M357.8 167.5h.4M345.1 106.3h.4M359.3 119.1h.4M350.3 167.3h.4M357.0 144.6h.4M358.9 157.8h.4M355.8 151.7h.4M362.7 94.8h.4M337.1 93.7h.4M341.8 146.8h.4M385.2 96.9h.4M350.5 167.6h.4M343.9 97.3h.4M345.5 119.2h.4M360.5 127.4h.4M371.2 111.0h.4M335.3 129.9h.4M346.4 112.9h.4M352.0 168.3h.4M349.7 156.2h.4M359.2 155.8h.4M367.7 146.3h.4M343.8 100.3h.4M362.2 118.3h.4M351.6 159.8h.4M357.4 141.9h.4M355.0 159.2h.4M360.3 135.0h.4M359.4 143.8h.4M351.9 162.0h.4M355.8 164.2h.4M348.8 151.7h.4M356.5 167.7h.4M327.3 107.6h.4M349.7 160.3h.4M355.5 159.4h.4M356.8 164.8h.4M357.9 153.5h.4M358.0 140.0h.4M361.0 105.8h.4M360.9 111.2h.4M350.1 143.6h.4M352.2 167.5h.4M346.4 115.2h.4M348.5 150.2h.4M363.4 144.0h.4M364.7 121.5h.4M361.3 134.3h.4M358.7 169.5h.4M345.6 137.8h.4M362.0 153.0h.4M350.5 165.0h.4M346.4 155.2h.4M352.2 162.7h.4M336.8 110.6h.4M382.6 114.3h.4M355.1 166.6h.4M341.5 118.0h.4M374.1 119.4h.4M354.4 170.0h.4M324.7 115.6h.4M345.4 93.3h.4M363.7 141.7h.4M364.3 132.6h.4M356.7 144.4h.4M372.2 105.0h.4M356.3 155.8h.4M343.8 139.5h.4M357.7 142.2h.4M342.6 121.3h.4M360.8 162.9h.4M335.5 138.6h.4M346.9 120.8h.4M338.1 100.3h.4M359.5 141.3h.4M360.5 115.1h.4M362.3 125.7h.4M355.9 168.1h.4M362.2 118.2h.4M342.7 105.4h.4M365.3 94.2h.4M360.7 164.4h.4M360.1 156.0h.4M355.1 163.7h.4M327.4 110.4h.4M347.9 164.3h.4M346.1 100.3h.4M376.2 97.0h.4M354.6 166.3h.4M349.1 160.1h.4M358.7 138.4h.4M362.8 94.0h.4M352.0 169.1h.4M360.4 166.6h.4M350.4 153.8h.4M338.8 113.4h.4M348.9 160.5h.4M372.5 111.9h.4M361.5 96.4h.4M350.5 156.3h.4M349.4 159.9h.4M342.2 97.8h.4M345.4 123.7h.4M340.7 103.2h.4M350.1 143.4h.4M352.1 165.8h.4M349.5 152.6h.4M344.5 107.1h.4M366.1 93.0h.4M314.7 94.1h.4M379.1 97.3h.4M359.1 139.1h.4M357.5 151.5h.4M357.4 156.8h.4M343.8 95.0h.4M347.0 128.1h.4M355.9 151.4h.4M346.6 138.3h.4M352.9 169.1h.4M355.7 169.9h.4M350.3 146.0h.4M361.4 139.0h.4M339.2 109.5h.4M346.4 154.8h.4M357.9 161.3h.4M352.4 169.1h.4M349.5 156.4h.4M348.2 137.7h.4M358.4 149.6h.4M359.0 129.2h.4M358.6 131.9h.4M351.0 163.0h.4M345.7 133.4h.4M364.5 132.3h.4M365.2 97.0h.4M356.9 147.1h.4M338.1 146.0h.4M357.9 138.4h.4M359.4 159.0h.4M371.8 112.4h.4M350.4 158.4h.4M358.9 169.4h.4M345.2 126.1h.4M351.3 170.6h.4M357.3 150.1h.4M356.2 146.9h.4M350.3 153.4h.4M340.8 117.2h.4M355.2 169.1h.4M351.0 168.6h.4M350.5 155.1h.4M333.0 112.8h.4M344.2 116.5h.4M347.0 140.2h.4M355.6 166.2h.4M352.0 169.7h.4M346.5 137.0h.4M356.8 145.8h.4M348.7 129.9h.4M351.4 165.5h.4M351.4 167.5h.4M360.5 144.5h.4M357.8 147.3h.4M358.4 154.7h.4M358.4 156.6h.4M363.0 98.0h.4M356.2 161.1h.4M359.8 152.8h.4M335.6 107.3h.4M324.0 116.4h.4M362.5 169.8h.4M351.2 152.0h.4M359.3 122.1h.4M357.2 170.2h.4M352.4 169.8h.4M357.3 162.5h.4M362.8 104.2h.4M347.4 113.1h.4M355.6 162.3h.4M356.6 160.3h.4M325.3 96.2h.4M356.0 152.0h.4M346.9 148.4h.4M359.3 140.0h.4M355.6 155.5h.4M358.0 141.9h.4M363.3 95.6h.4M347.1 169.5h.4M359.3 162.1h.4M346.7 139.7h.4M357.3 170.7h.4M362.1 113.7h.4M344.6 112.9h.4M341.0 127.2h.4M356.2 155.7h.4M366.4 109.3h.4M352.5 170.1h.4M345.5 101.4h.4M350.4 159.6h.4M355.6 167.1h.4M339.2 114.4h.4M368.4 102.4h.4M362.8 101.9h.4M348.2 142.2h.4M361.5 127.3h.4M360.6 114.5h.4M343.1 163.1h.4M366.4 104.1h.4M364.7 98.1h.4M346.9 114.6h.4M346.5 104.5h.4M360.9 101.6h.4M355.1 165.8h.4M338.1 128.6h.4M347.4 112.6h.4M349.1 140.4h.4M337.7 128.2h.4M364.6 125.3h.4M357.2 157.4h.4M349.3 147.5h.4M352.3 169.0h.4M354.3 169.7h.4M361.9 143.2h.4M340.8 116.9h.4M355.6 160.6h.4M349.5 171.0h.4M352.8 167.1h.4M340.4 96.4h.4M388.5 115.6h.4M349.4 155.6h.4M361.1 144.2h.4M339.5 102.4h.4M361.6 166.0h.4M348.3 133.2h.4M358.6 142.1h.4M346.7 156.1h.4M350.3 163.1h.4M347.1 135.5h.4M357.1 163.8h.4M337.8 97.2h.4M364.2 125.5h.4M346.8 142.9h.4M363.7 101.9h.4M345.6 100.9h.4M356.5 144.7h.4M357.2 148.6h.4M349.8 146.9h.4M354.5 169.5h.4M356.1 156.2h.4M369.2 124.2h.4M355.2 161.2h.4M343.3 99.8h.4M364.6 108.6h.4M359.9 142.8h.4M363.0 169.1h.4M350.3 152.9h.4M348.6 142.5h.4M351.4 165.7h.4M347.1 167.7h.4M360.6 104.4h.4M352.2 165.6h.4M360.8 125.0h.4M349.8 142.7h.4M358.0 133.8h.4M347.6 134.5h.4M349.4 137.5h.4M349.7 170.0h.4M357.5 139.1h.4M359.3 147.7h.4M341.9 93.3h.4M350.8 171.1h.4M349.2 156.8h.4M361.0 137.1h.4M348.5 154.4h.4M345.9 134.5h.4M367.1 93.0h.4M347.0 109.1h.4M346.5 129.5h.4M351.7 161.8h.4M363.4 130.6h.4M341.5 128.5h.4M365.6 104.7h.4M360.5 126.2h.4M348.6 128.0h.4M379.9 108.6h.4M352.2 169.1h.4M359.3 149.9h.4M337.3 118.3h.4M356.1 150.3h.4M360.0 145.6h.4M356.5 145.2h.4M335.8 128.9h.4M361.0 118.1h.4M366.9 150.4h.4M339.5 106.4h.4M350.4 170.4h.4M345.6 122.4h.4M357.4 140.9h.4M341.8 105.3h.4M356.3 161.6h.4M347.0 122.4h.4M327.5 108.3h.4M342.3 143.5h.4M351.5 167.3h.4M349.9 154.3h.4M351.9 165.3h.4M363.8 113.6h.4M347.4 167.4h.4M347.3 143.8h.4M358.7 150.6h.4M346.8 113.5h.4M383.0 106.1h.4M359.5 132.4h.4M373.2 93.2h.4M351.5 164.6h.4M351.8 170.4h.4M349.2 158.3h.4M359.1 128.4h.4M337.4 114.6h.4M363.3 93.0h.4M358.4 125.4h.4M349.8 147.8h.4M356.5 157.2h.4M354.6 167.4h.4M347.2 151.0h.4M340.2 118.8h.4M356.4 160.2h.4M359.0 143.5h.4M341.7 162.6h.4M346.3 110.9h.4M363.1 118.0h.4M348.7 157.2h.4M352.0 166.2h.4M351.5 167.9h.4M360.1 133.6h.4M353.9 170.6h.4M366.4 123.7h.4M362.3 145.9h.4M356.5 162.1h.4M352.3 169.5h.4M357.5 169.3h.4M363.7 105.6h.4M346.9 119.9h.4M373.6 132.2h.4M348.6 136.7h.4M344.5 102.1h.4M357.8 159.3h.4M364.0 121.2h.4M371.6 121.1h.4M341.3 115.7h.4M359.7 143.0h.4M345.8 141.0h.4M365.9 132.3h.4M344.3 93.0h.4M357.7 166.8h.4M361.2 143.5h.4M345.1 95.9h.4M350.5 151.9h.4M359.8 139.3h.4M355.6 167.3h.4M358.5 137.7h.4M339.4 146.8h.4M359.1 164.3h.4M357.7 153.9h.4M363.6 124.7h.4M330.2 133.5h.4M344.2 155.2h.4M346.6 109.2h.4M355.7 169.0h.4M354.3 168.8h.4M344.5 122.0h.4M352.2 166.5h.4M327.1 138.8h.4M362.6 114.6h.4M344.2 144.9h.4M337.5 111.7h.4M342.0 136.5h.4M344.8 121.9h.4M361.2 116.8h.4M345.3 147.1h.4M355.1 160.0h.4M363.3 150.0h.4M349.3 142.1h.4M334.8 93.3h.4M343.7 116.2h.4M343.3 154.2h.4M345.3 142.2h.4M351.4 155.6h.4M347.0 131.9h.4M363.5 130.8h.4M362.4 93.0h.4M359.3 130.5h.4M347.5 157.7h.4M356.6 167.6h.4M363.6 97.6h.4M342.9 110.5h.4M346.0 145.9h.4M369.7 97.3h.4M338.4 107.8h.4M357.4 156.2h.4M355.9 160.7h.4M356.1 166.0h.4M347.3 150.8h.4M356.4 156.0h.4M360.7 124.3h.4M361.4 119.0h.4M345.9 123.5h.4M360.8 109.3h.4M350.5 145.2h.4M371.6 93.9h.4M360.8 140.6h.4M342.0 166.3h.4M340.9 143.3h.4M384.8 99.1h.4M358.0 133.4h.4M352.4 165.0h.4M346.9 139.7h.4M341.3 144.3h.4M363.2 115.0h.4M350.2 165.8h.4M357.8 151.9h.4M358.6 148.1h.4M346.2 136.3h.4M351.9 161.3h.4M350.6 151.1h.4M361.1 168.2h.4M355.6 152.4h.4M349.4 156.7h.4M358.5 157.1h.4M361.4 107.5h.4M363.3 93.0h.4M343.4 155.8h.4M355.9 167.4h.4M346.3 109.7h.4M333.4 137.5h.4M351.9 164.7h.4M350.4 159.4h.4M359.6 131.7h.4M345.6 106.7h.4M340.9 96.4h.4M356.7 167.6h.4M360.1 143.4h.4M341.2 98.7h.4M345.0 117.5h.4M344.3 122.6h.4M342.3 94.6h.4M357.8 151.4h.4M359.5 135.0h.4M350.0 152.1h.4M342.0 105.2h.4M341.9 128.4h.4M359.9 141.9h.4M340.7 100.1h.4M357.8 140.5h.4M341.1 156.2h.4M351.4 166.2h.4M354.5 170.2h.4M344.3 152.0h.4M350.1 158.8h.4M364.2 139.7h.4M357.2 148.5h.4M362.8 119.8h.4M350.7 168.4h.4M360.0 113.3h.4M367.2 96.0h.4M355.8 155.3h.4M359.0 119.5h.4M359.7 168.6h.4M357.5 151.5h.4M346.7 112.9h.4M345.8 105.8h.4M344.0 102.2h.4M347.2 114.0h.4M340.5 118.4h.4M354.4 171.0h.4M351.9 169.4h.4M347.0 154.6h.4M356.3 164.0h.4M350.9 167.3h.4M343.0 98.5h.4M355.3 169.3h.4M357.5 158.8h.4M355.8 160.7h.4M358.2 134.3h.4M345.5 123.2h.4M349.3 169.5h.4M372.3 105.7h.4M346.5 145.6h.4M346.6 116.5h.4M346.4 151.7h.4M339.5 130.8h.4M366.0 132.2h.4M341.8 122.1h.4M382.0 127.6h.4M346.1 123.6h.4M341.4 125.4h.4M348.4 138.9h.4M359.1 147.4h.4M359.1 165.9h.4M356.4 170.8h.4M358.1 154.6h.4M345.8 98.4h.4M345.5 161.1h.4M351.1 168.3h.4M346.1 125.2h.4M349.3 132.8h.4M346.7 159.4h.4M357.2 152.6h.4M347.5 143.2h.4M356.9 154.3h.4M357.8 153.2h.4M356.9 156.5h.4M365.8 95.3h.4M342.8 121.0h.4M344.1 153.9h.4M347.1 111.8h.4M354.5 169.3h.4M340.2 148.1h.4M347.6 162.1h.4M358.7 137.8h.4M351.6 166.9h.4M346.6 104.4h.4M362.1 171.1h.4M360.8 101.2h.4M369.5 109.2h.4M357.4 153.7h.4M356.0 164.1h.4M345.5 111.2h.4M351.6 169.0h.4M345.8 139.1h.4M339.6 100.4h.4M349.1 133.1h.4M358.2 138.2h.4M392.0 101.9h.4M345.6 131.1h.4M349.3 142.2h.4M362.0 101.8h.4M344.1 151.3h.4M348.4 126.5h.4M362.6 128.9h.4M362.4 136.9h.4M352.9 168.0h.4M350.0 151.7h.4M347.7 149.3h.4M361.2 158.8h.4M369.1 108.9h.4M355.9 165.8h.4M357.0 146.7h.4M360.2 121.3h.4M355.1 170.1h.4M357.3 157.6h.4M346.7 152.6h.4M347.7 124.6h.4M347.9 167.9h.4M354.1 169.4h.4M362.2 98.8h.4M340.9 98.3h.4M358.0 147.4h.4M357.0 157.4h.4M343.7 96.2h.4M356.2 159.0h.4M350.3 143.2h.4M350.8 164.8h.4M350.7 154.4h.4M340.1 137.4h.4M347.3 138.0h.4M362.4 122.6h.4M342.0 102.2h.4M366.1 122.9h.4M349.9 159.7h.4M349.7 164.4h.4M346.5 137.1h.4M330.3 139.0h.4M343.6 117.0h.4M346.2 104.8h.4M333.9 99.8h.4M362.3 149.6h.4M348.7 154.4h.4M356.0 150.4h.4M357.1 163.0h.4M351.5 167.9h.4M341.8 146.2h.4M373.8 111.7h.4M333.0 138.7h.4M341.7 162.5h.4M357.4 153.4h.4M362.2 111.4h.4M359.2 151.0h.4M348.8 131.9h.4M348.8 132.6h.4M376.2 134.1h.4M339.6 153.3h.4M364.5 118.3h.4M350.1 146.5h.4M355.3 164.6h.4M340.7 95.7h.4M368.0 152.9h.4M351.2 154.8h.4M346.1 118.1h.4M360.2 127.7h.4M365.5 97.8h.4M354.6 163.6h.4M364.6 167.7h.4M368.2 102.0h.4M346.0 113.3h.4M349.0 164.9h.4M350.6 159.9h.4M363.3 98.6h.4M346.6 120.6h.4M350.2 152.7h.4M350.1 146.6h.4M367.7 117.2h.4M351.2 158.4h.4M356.9 144.3h.4M339.1 117.5h.4M336.8 151.4h.4M343.9 96.4h.4M362.5 119.3h.4M342.2 121.9h.4M368.2 95.2h.4M360.0 110.6h.4M329.2 94.6h.4M346.6 130.3h.4M355.0 166.4h.4M360.6 132.2h.4M356.7 145.0h.4M348.9 142.7h.4M369.1 98.7h.4M343.6 106.5h.4M341.4 128.1h.4M340.8 120.0h.4M358.4 136.0h.4M350.3 171.1h.4M394.2 99.1h.4M361.5 100.5h.4M346.7 134.4h.4M355.2 170.3h.4M357.9 165.9h.4M361.7 157.2h.4M352.1 168.0h.4M365.9 103.3h.4M356.4 165.0h.4M348.2 169.6h.4M350.8 146.9h.4M363.6 127.9h.4M347.8 124.7h.4M358.1 161.7h.4M352.2 168.1h.4M361.8 152.7h.4M360.4 112.8h.4M360.1 149.0h.4M367.5 123.4h.4M344.8 141.6h.4M350.7 165.2h.4M362.2 101.7h.4M345.3 119.2h.4M349.3 143.8h.4M358.0 144.2h.4M357.3 163.1h.4M342.3 105.9h.4M341.8 107.6h.4M343.9 159.4h.4M344.3 95.4h.4M344.4 150.0h.4M327.9 93.0h.4M354.3 165.8h.4M347.0 133.6h.4M339.4 110.5h.4M346.1 111.0h.4M365.2 94.3h.4M358.6 129.3h.4M357.3 144.3h.4M351.4 156.7h.4M348.2 128.8h.4M338.1 129.5h.4M346.3 152.8h.4M356.2 154.8h.4M358.7 167.7h.4M359.5 125.4h.4M334.7 93.2h.4M348.1 162.0h.4M358.7 160.6h.4M357.1 169.6h.4M340.1 131.4h.4M349.1 167.4h.4M355.3 171.0h.4M341.7 97.1h.4M362.2 115.4h.4M365.0 122.8h.4M344.9 119.3h.4M358.1 165.3h.4M349.7 156.6h.4M358.2 135.2h.4M358.9 130.8h.4M348.7 142.3h.4M319.2 101.7h.4M340.8 116.9h.4M352.6 165.2h.4M349.0 133.8h.4M350.4 165.4h.4M348.6 161.8h.4M346.4 117.1h.4M339.3 117.4h.4M342.0 136.6h.4M369.4 141.4h.4M359.4 122.9h.4M358.3 132.1h.4M358.1 137.6h.4M355.9 164.6h.4M341.0 135.2h.4M362.7 150.5h.4M363.2 123.6h.4M351.3 166.8h.4M341.7 99.9h.4M342.3 128.1h.4M356.3 153.0h.4M357.4 137.8h.4M344.1 109.5h.4M358.5 162.2h.4M341.8 164.7h.4M365.5 116.3h.4M360.2 124.2h.4M350.8 157.3h.4M357.6 143.0h.4M347.0 149.4h.4M344.4 149.1h.4M337.1 123.3h.4M365.2 150.6h.4M360.8 117.3h.4M357.4 145.8h.4M354.9 168.3h.4M360.1 154.9h.4M349.3 170.2h.4M362.6 103.3h.4M345.0 99.6h.4M339.0 98.1h.4M349.4 150.0h.4M334.2 142.5h.4M366.6 134.9h.4M345.6 113.8h.4M328.1 116.6h.4M365.0 93.1h.4M361.3 118.0h.4M355.6 163.3h.4M356.9 153.4h.4M352.0 159.6h.4M367.5 93.1h.4M374.6 116.8h.4M349.9 153.4h.4M348.4 132.9h.4M345.9 163.4h.4M361.2 116.2h.4M343.9 145.4h.4M358.4 143.6h.4M356.7 158.1h.4M347.1 130.9h.4M364.8 110.1h.4M351.8 164.6h.4M360.0 131.8h.4M342.7 117.1h.4M361.9 102.5h.4M358.0 165.2h.4M359.6 143.5h.4M351.5 160.1h.4M352.8 166.9h.4M357.5 149.3h.4M339.3 105.6h.4M348.8 158.3h.4M366.9 110.4h.4M357.0 164.0h.4M360.6 142.6h.4M341.6 144.9h.4M367.7 125.3h.4M351.3 151.6h.4M350.1 151.3h.4M356.3 167.7h.4M363.1 94.9h.4M347.1 134.5h.4M354.8 165.3h.4M349.6 152.7h.4M360.2 124.8h.4M358.5 134.7h.4M346.6 131.5h.4M350.8 162.0h.4M361.1 141.4h.4M345.7 105.9h.4M366.8 146.8h.4M333.1 105.9h.4M351.0 158.7h.4M342.0 158.5h.4M362.4 152.2h.4M370.7 138.9h.4M333.5 106.4h.4M345.5 162.3h.4M358.1 163.1h.4M358.1 153.9h.4M357.4 144.5h.4M374.1 112.8h.4M350.2 162.4h.4M338.9 94.4h.4M359.8 161.0h.4M338.6 105.1h.4M346.7 122.5h.4M343.0 121.4h.4M345.4 107.1h.4M335.0 104.7h.4M347.6 154.7h.4M336.8 150.9h.4M367.2 107.8h.4M360.6 148.8h.4M342.0 135.1h.4M354.0 171.1h.4M350.2 151.8h.4M345.4 166.9h.4M355.3 159.3h.4M368.6 131.4h.4M345.2 131.9h.4M364.2 135.7h.4M345.8 127.8h.4M351.9 170.2h.4M329.2 131.7h.4M350.5 151.6h.4M347.1 110.9h.4M355.3 161.1h.4M348.9 164.6h.4M363.0 115.1h.4M363.8 115.8h.4M360.7 123.8h.4M365.9 93.0h.4M360.6 135.2h.4M346.5 144.7h.4M342.7 110.2h.4M360.7 132.0h.4M348.1 155.4h.4M352.6 168.5h.4M349.5 156.3h.4M361.0 158.1h.4M342.6 140.5h.4M348.9 140.7h.4M348.5 139.2h.4M338.6 97.3h.4M364.7 148.2h.4M318.3 102.0h.4M317.9 109.5h.4M347.5 139.6h.4M351.6 171.1h.4M360.6 133.3h.4M347.4 138.6h.4M356.6 169.2h.4M362.3 120.7h.4M358.9 139.8h.4M362.2 113.7h.4M378.4 99.1h.4M358.2 133.7h.4M361.0 118.1h.4M359.5 135.3h.4M365.2 126.1h.4M368.6 103.8h.4M363.8 100.1h.4M356.0 163.7h.4M358.9 143.2h.4M355.8 158.8h.4M346.8 108.9h.4M342.4 115.2h.4M349.6 164.0h.4M349.5 156.9h.4M366.4 101.5h.4M349.7 142.2h.4M352.3 168.0h.4M346.6 140.6h.4M346.2 153.5h.4M351.6 166.0h.4M356.2 154.5h.4M363.9 158.6h.4M346.8 112.9h.4M363.5 155.4h.4M350.0 155.3h.4M370.7 127.6h.4M356.9 165.7h.4M355.9 168.0h.4M321.4 101.2h.4M360.7 133.6h.4M363.9 93.0h.4M337.5 148.8h.4M345.6 93.0h.4M347.6 121.4h.4M361.7 139.1h.4M360.6 121.1h.4M357.9 166.0h.4M357.9 140.9h.4M348.0 138.6h.4M363.7 114.4h.4M350.6 162.9h.4M350.2 153.7h.4M367.8 117.8h.4M340.7 129.2h.4M354.5 167.1h.4M335.7 114.1h.4M361.0 169.6h.4M346.4 105.4h.4M361.4 111.5h.4M365.1 96.1h.4M344.6 115.4h.4M371.4 122.0h.4M356.4 153.9h.4M350.6 166.7h.4M361.0 124.7h.4M355.8 161.0h.4M361.5 155.2h.4M347.3 144.7h.4M358.0 158.0h.4M357.9 146.0h.4M327.0 128.1h.4M358.8 170.5h.4M336.7 108.2h.4M358.9 167.0h.4M364.6 104.0h.4M350.9 147.8h.4M333.8 113.3h.4M365.9 104.0h.4M354.8 170.3h.4M376.5 107.0h.4M367.7 133.3h.4M344.6 130.1h.4M338.4 109.8h.4M356.0 163.5h.4M357.9 169.0h.4M370.1 119.9h.4M348.6 149.4h.4M351.4 169.6h.4M354.4 166.5h.4M369.5 121.8h.4M361.5 170.6h.4M345.8 131.4h.4M345.0 123.4h.4M359.1 151.4h.4M361.8 122.9h.4M350.8 159.4h.4M358.6 139.0h.4M360.3 169.3h.4M347.2 129.2h.4M345.1 127.7h.4M356.5 149.5h.4M346.0 119.5h.4M339.2 146.5h.4M348.7 139.8h.4M356.2 162.8h.4M351.7 162.1h.4M349.9 144.3h.4M354.2 167.8h.4M361.0 149.8h.4M373.7 93.2h.4M358.5 151.0h.4M365.0 134.0h.4M351.0 157.2h.4M345.3 102.6h.4M361.9 93.1h.4M351.2 165.5h.4M348.6 134.1h.4M351.1 164.4h.4M343.4 102.6h.4M357.2 157.1h.4M342.9 100.7h.4M355.0 167.6h.4M349.6 157.9h.4M360.6 144.3h.4M360.5 107.1h.4M366.2 107.9h.4M370.0 131.3h.4M352.6 168.1h.4M361.0 145.3h.4M337.0 120.2h.4M361.8 160.9h.4M361.6 125.3h.4M356.2 156.2h.4M349.9 159.5h.4M348.1 152.0h.4M364.4 129.2h.4M364.1 142.5h.4M360.1 145.9h.4M352.7 169.1h.4M355.6 155.4h.4M348.4 147.3h.4M359.7 146.8h.4M349.0 145.7h.4M352.7 166.7h.4M371.8 146.7h.4M351.8 166.9h.4M350.3 156.6h.4M354.7 168.1h.4M368.9 103.8h.4M352.2 164.0h.4M345.3 93.0h.4M361.2 114.6h.4M342.1 161.7h.4M352.0 167.8h.4M351.2 168.1h.4M347.6 170.4h.4M365.0 136.0h.4M359.8 150.0h.4M348.5 125.3h.4M357.7 161.3h.4M364.5 114.9h.4M352.2 171.1h.4M358.7 144.6h.4M354.6 168.2h.4M349.6 138.0h.4M357.1 141.8h.4M350.9 155.4h.4M356.8 153.5h.4M341.2 127.5h.4M334.6 137.8h.4M357.2 163.0h.4M363.6 124.4h.4M355.3 165.0h.4M363.1 93.0h.4M350.8 158.6h.4M343.9 111.3h.4M361.4 125.5h.4M350.1 156.6h.4M365.0 144.1h.4M346.3 112.0h.4M343.5 110.1h.4M351.1 158.7h.4M362.1 125.9h.4M360.9 137.1h.4M364.9 151.8h.4M356.0 162.2h.4M347.2 132.9h.4M345.0 128.5h.4M346.8 117.8h.4M355.9 166.5h.4M343.5 145.7h.4M351.0 152.6h.4M344.9 108.9h.4M336.6 116.0h.4M355.1 161.1h.4M361.5 131.3h.4M352.8 171.2h.4M350.7 152.2h.4M348.8 131.6h.4M356.5 145.1h.4M359.4 134.5h.4M389.2 114.1h.4M348.3 133.0h.4M347.2 115.0h.4M360.7 116.4h.4M338.1 153.8h.4M358.1 165.7h.4M361.4 96.7h.4M351.0 165.7h.4M367.4 156.8h.4M359.5 124.8h.4M344.3 164.1h.4M349.1 157.7h.4M358.3 128.3h.4M342.9 123.3h.4M361.0 113.0h.4M351.1 168.9h.4M364.0 147.6h.4M351.7 156.9h.4M358.9 135.7h.4M359.7 118.5h.4M343.3 135.3h.4M362.8 116.7h.4M362.8 150.6h.4M352.2 167.0h.4M347.0 128.2h.4M355.1 165.7h.4M346.2 113.1h.4M360.3 121.3h.4M358.7 158.5h.4M350.5 153.7h.4M355.0 162.7h.4M341.8 115.1h.4M359.3 152.8h.4M367.2 95.4h.4M344.3 104.1h.4M346.9 147.8h.4M355.7 168.5h.4M345.9 113.0h.4M362.7 136.4h.4M346.1 138.6h.4M369.9 105.8h.4M359.3 141.0h.4M361.0 110.5h.4M351.2 153.0h.4M361.6 128.0h.4M357.2 159.4h.4M342.8 94.1h.4M337.6 108.6h.4M346.8 125.0h.4M363.8 133.6h.4M350.7 165.9h.4M355.6 153.6h.4M347.3 122.6h.4M357.6 151.9h.4M362.7 93.0h.4M358.6 160.4h.4M356.3 168.6h.4M349.7 161.7h.4M362.6 151.4h.4M362.8 137.5h.4M376.8 116.5h.4M350.1 144.6h.4M331.9 110.8h.4M373.3 105.4h.4M348.6 132.5h.4M344.1 163.8h.4M375.8 135.0h.4M360.2 123.8h.4M347.6 135.4h.4M364.5 147.7h.4M340.0 114.5h.4M329.7 104.8h.4M368.5 140.7h.4M354.5 164.6h.4M355.1 166.7h.4M355.6 169.9h.4M358.3 149.9h.4M343.6 114.8h.4M355.9 170.8h.4M348.6 139.8h.4M350.3 145.0h.4M339.9 93.5h.4M358.4 131.0h.4M365.7 157.1h.4M364.4 159.6h.4M359.5 132.0h.4M362.8 154.9h.4M351.3 161.1h.4M349.0 136.8h.4M344.6 107.9h.4M355.4 159.2h.4M355.5 168.9h.4M341.3 134.2h.4M344.5 161.7h.4M363.3 137.4h.4M358.3 166.7h.4M350.5 157.6h.4M365.6 109.7h.4M329.7 135.6h.4M357.0 154.8h.4M368.5 110.4h.4M356.7 143.6h.4M362.1 134.7h.4M347.5 169.4h.4M369.1 94.4h.4M355.7 170.6h.4M357.1 164.9h.4M370.2 105.1h.4M360.6 137.2h.4M347.5 150.5h.4M358.4 131.2h.4M361.0 120.3h.4M339.8 112.9h.4M372.4 149.5h.4M348.3 167.0h.4M355.3 167.4h.4M364.5 163.5h.4M356.7 169.9h.4M344.5 150.2h.4M345.1 94.4h.4M349.6 160.1h.4M348.0 155.1h.4M347.4 149.2h.4M352.2 165.7h.4M355.0 169.1h.4M349.1 141.4h.4M350.2 166.0h.4M340.6 159.4h.4M349.1 141.2h.4M351.3 153.3h.4M342.8 118.6h.4M360.1 131.0h.4M359.5 126.5h.4M356.2 158.3h.4M359.9 143.0h.4M345.0 124.0h.4M355.2 160.7h.4M337.0 129.8h.4M356.8 159.4h.4M368.3 97.5h.4M346.9 168.9h.4M349.7 170.6h.4M368.4 93.5h.4M362.3 170.9h.4M356.0 167.9h.4M355.8 168.8h.4M342.0 95.3h.4M364.2 155.9h.4M350.6 156.7h.4M362.3 123.5h.4M346.5 105.7h.4M348.6 145.4h.4M355.0 163.2h.4M348.4 143.0h.4M371.7 99.1h.4M361.0 131.8h.4M348.7 144.2h.4M351.3 154.8h.4M340.0 95.7h.4M352.1 165.1h.4M345.7 142.3h.4M356.9 153.1h.4M342.1 129.7h.4M350.1 160.4h.4M361.7 133.2h.4M368.1 132.0h.4M358.6 122.9h.4M355.9 156.8h.4M361.5 116.5h.4M346.5 114.5h.4M349.0 135.0h.4M354.5 166.6h.4M360.8 133.6h.4M348.4 163.8h.4M357.3 151.8h.4M359.4 152.7h.4M347.6 163.0h.4M356.2 153.3h.4M363.2 151.7h.4M357.8 132.4h.4M363.2 141.9h.4M346.7 131.7h.4M348.9 160.9h.4M361.8 126.9h.4M357.9 139.7h.4M359.9 165.8h.4M346.9 141.6h.4M354.2 170.3h.4M336.5 150.4h.4M342.0 109.3h.4M358.2 127.5h.4M356.9 151.2h.4M355.1 166.0h.4M365.4 126.8h.4M350.4 146.6h.4M333.9 143.0h.4M362.7 117.7h.4M352.6 169.9h.4M349.0 142.9h.4M347.6 141.2h.4M365.1 164.6h.4M343.1 132.1h.4M357.1 157.1h.4M358.8 157.5h.4M341.8 145.0h.4M348.9 169.9h.4M340.4 117.0h.4M359.3 119.5h.4M345.2 162.1h.4M339.3 94.9h.4M348.6 149.9h.4M362.7 108.3h.4M357.9 151.2h.4M347.0 139.8h.4M347.3 115.3h.4M358.6 153.6h.4M359.0 131.9h.4M347.9 149.0h.4M355.8 154.4h.4M350.8 170.5h.4M359.9 165.8h.4M348.1 120.5h.4M342.3 166.8h.4M357.6 132.9h.4M348.9 152.0h.4M350.3 148.4h.4M344.4 166.9h.4M344.4 135.5h.4M358.7 152.1h.4M340.9 93.9h.4M354.3 169.8h.4M344.0 115.3h.4M357.7 135.8h.4M333.6 123.0h.4M366.9 114.0h.4M356.6 166.3h.4M348.2 153.3h.4M360.8 146.7h.4M374.6 93.0h.4M342.7 120.0h.4M363.3 118.1h.4M380.8 115.6h.4M352.7 165.5h.4M364.2 95.9h.4M350.9 165.6h.4M342.3 134.4h.4M363.8 132.9h.4M365.4 156.0h.4M371.0 99.3h.4M346.1 135.6h.4M360.9 118.9h.4M361.8 129.3h.4M368.5 93.0h.4M341.5 120.2h.4M356.0 150.2h.4M360.8 134.1h.4M358.4 166.1h.4M347.9 124.6h.4M349.0 148.9h.4M331.3 115.7h.4M355.1 168.4h.4M336.4 103.4h.4M342.8 118.2h.4M350.7 164.7h.4M341.2 106.4h.4M356.6 159.0h.4M360.9 163.7h.4M347.2 116.7h.4M349.6 150.3h.4M359.9 127.6h.4M354.4 167.7h.4M349.8 139.1h.4M348.8 153.8h.4M350.0 163.3h.4M345.2 127.6h.4M361.7 110.7h.4M355.0 168.9h.4M351.7 164.0h.4M342.6 142.7h.4M371.2 138.1h.4M348.2 121.5h.4M357.5 164.1h.4M360.5 123.2h.4M347.3 115.4h.4M350.4 169.1h.4M356.5 167.1h.4M357.1 170.3h.4M357.0 143.0h.4M363.3 112.5h.4M351.1 164.6h.4M359.6 115.3h.4M350.5 151.0h.4M362.3 118.4h.4M358.8 167.2h.4M358.1 130.8h.4M360.0 151.5h.4M347.7 158.9h.4M350.3 160.8h.4M358.6 125.9h.4M369.6 108.1h.4M362.0 127.4h.4M362.0 93.6h.4M390.4 101.1h.4M349.4 133.9h.4M368.0 150.0h.4M339.7 93.8h.4M354.8 168.2h.4M355.6 169.9h.4M357.3 162.2h.4M361.7 96.9h.4M375.0 121.2h.4M351.4 159.2h.4M347.7 131.1h.4M365.4 94.8h.4M358.5 151.5h.4M362.3 150.8h.4M349.4 159.2h.4M355.9 160.3h.4M363.5 142.8h.4M340.3 102.0h.4M342.8 146.8h.4M359.9 119.7h.4M339.5 137.6h.4M363.7 161.5h.4M356.7 150.5h.4M342.4 137.3h.4M347.0 144.6h.4M356.3 164.2h.4M350.4 163.8h.4M361.8 127.8h.4M359.6 157.5h.4M374.5 145.5h.4M351.4 169.8h.4M357.0 138.7h.4M351.4 169.3h.4M352.2 162.0h.4M336.6 100.2h.4M319.9 106.5h.4M356.1 157.4h.4M352.2 169.6h.4M363.3 100.9h.4M349.1 155.8h.4M345.1 110.7h.4M348.9 147.2h.4M361.6 115.0h.4M344.7 109.6h.4M355.0 167.3h.4M350.8 159.5h.4M342.1 154.8h.4M349.2 154.8h.4M350.5 158.9h.4M363.4 133.9h.4M366.6 93.3h.4M354.9 164.0h.4M360.4 145.2h.4M341.9 94.0h.4M346.9 109.9h.4M368.1 99.5h.4M359.0 121.1h.4M347.3 131.7h.4M345.5 125.9h.4M343.7 145.8h.4M360.2 110.1h.4M357.8 151.6h.4M365.4 98.5h.4M360.1 140.1h.4M350.2 150.0h.4M350.7 155.2h.4M355.0 168.1h.4M348.8 149.2h.4M357.0 143.5h.4M361.1 158.5h.4M357.9 154.1h.4M358.8 162.7h.4M351.6 167.2h.4M340.2 128.3h.4M350.5 160.8h.4M367.9 141.3h.4M351.9 170.8h.4M346.3 115.4h.4M346.7 135.4h.4M363.4 141.3h.4M358.6 152.2h.4M352.4 165.6h.4M360.4 144.8h.4M355.0 162.8h.4M361.3 132.9h.4M344.5 119.2h.4M344.1 125.8h.4M352.2 162.1h.4M346.2 132.2h.4M348.3 131.1h.4M332.2 130.9h.4M360.2 113.1h.4M348.5 147.5h.4M345.1 121.9h.4M360.5 104.6h.4M356.9 165.4h.4M339.0 147.1h.4M354.6 170.8h.4M366.0 118.4h.4M356.4 153.6h.4M357.6 141.9h.4M350.9 167.4h.4M365.1 93.1h.4M353.0 169.2h.4M365.3 121.0h.4M371.4 126.7h.4M347.7 122.9h.4M347.6 126.7h.4M349.6 147.5h.4M365.0 112.2h.4M349.5 142.6h.4M341.9 104.1h.4M361.0 151.6h.4M351.4 152.7h.4M355.5 163.1h.4M360.5 140.3h.4M344.2 134.7h.4M358.4 136.0h.4M363.0 101.3h.4M367.6 117.2h.4M354.3 168.5h.4M349.2 163.2h.4M343.4 161.1h.4M349.4 134.6h.4M352.1 165.3h.4M350.3 163.0h.4M344.1 109.8h.4M380.2 100.2h.4M368.3 124.2h.4M341.9 97.8h.4M359.7 169.7h.4M346.6 142.3h.4M361.3 156.6h.4M355.0 161.2h.4M369.7 130.5h.4M352.3 163.5h.4M354.7 170.6h.4M358.5 140.4h.4M363.1 141.6h.4M341.8 97.9h.4M344.2 118.3h.4M369.5 93.3h.4M348.4 123.1h.4M357.4 137.4h.4M359.2 149.3h.4M350.0 145.8h.4M362.0 118.4h.4M357.4 165.5h.4M379.9 110.1h.4M351.1 158.9h.4M339.3 128.2h.4M361.6 114.1h.4M361.1 141.6h.4M368.2 157.1h.4M361.8 123.8h.4M356.6 164.2h.4M349.7 163.9h.4M362.4 108.5h.4M354.9 162.4h.4M363.2 94.8h.4M349.1 153.8h.4M343.3 119.5h.4M355.4 164.2h.4M317.6 93.0h.4M331.4 96.1h.4M359.6 134.9h.4M359.7 146.8h.4M346.4 116.7h.4M365.7 98.9h.4M350.7 151.6h.4M350.2 158.9h.4M363.6 107.3h.4M344.7 119.6h.4M361.9 125.5h.4M360.1 158.7h.4M342.2 94.9h.4M350.8 169.3h.4M354.8 164.1h.4M351.3 166.3h.4M330.7 94.7h.4M367.5 156.7h.4M358.7 155.1h.4M349.5 152.6h.4M362.4 129.4h.4M354.8 170.6h.4M349.3 153.2h.4M355.5 171.2h.4M344.6 165.4h.4M342.6 105.1h.4M346.4 129.9h.4M360.7 101.1h.4M358.0 153.5h.4M345.0 119.1h.4M360.8 105.1h.4M349.3 167.5h.4M362.8 153.1h.4M357.8 130.6h.4M345.4 95.9h.4M343.8 147.4h.4M358.2 156.1h.4M358.6 143.1h.4M345.9 114.5h.4M360.8 109.1h.4M343.2 126.4h.4M355.2 159.4h.4M362.1 99.1h.4M336.3 100.3h.4M348.5 138.0h.4M362.1 147.7h.4M344.3 94.3h.4M362.0 125.1h.4M343.3 156.4h.4M360.5 132.2h.4M351.3 158.4h.4M362.2 109.8h.4M364.2 93.0h.4M361.5 164.7h.4M361.9 170.7h.4M358.0 135.5h.4M352.0 160.5h.4M349.9 167.4h.4M363.7 111.0h.4M365.3 109.3h.4M362.1 114.4h.4M360.7 123.0h.4M341.6 102.4h.4M369.4 96.5h.4M362.9 148.8h.4M356.3 148.2h.4M361.5 120.3h.4M347.7 143.7h.4M359.9 161.9h.4M357.0 149.6h.4M351.2 163.1h.4M343.9 165.0h.4M355.4 166.7h.4M352.6 165.2h.4M345.6 158.6h.4M358.3 132.8h.4M356.3 165.2h.4M349.9 151.9h.4M349.3 139.4h.4M351.2 163.3h.4M369.7 140.0h.4M360.5 156.0h.4M358.7 123.8h.4M341.5 126.0h.4M357.9 153.8h.4M350.5 156.3h.4M343.6 102.7h.4M361.4 167.6h.4M349.9 144.4h.4M354.3 170.2h.4M347.1 126.6h.4M349.3 136.2h.4M366.9 105.4h.4M356.3 154.5h.4M347.7 163.1h.4M363.3 93.0h.4M348.2 145.4h.4M349.8 159.4h.4M356.4 152.8h.4M365.7 127.0h.4M359.8 125.0h.4M359.7 116.1h.4M347.1 145.2h.4M357.2 169.2h.4M359.1 168.1h.4M360.4 127.0h.4M361.5 109.4h.4M350.0 147.2h.4M356.9 163.3h.4M345.0 145.3h.4M354.8 167.5h.4M335.3 148.0h.4M342.6 166.6h.4M350.0 147.5h.4M324.2 120.8h.4M320.5 117.4h.4M356.8 158.8h.4M354.4 170.1h.4M341.9 113.0h.4M343.7 94.5h.4M373.8 107.8h.4M364.4 103.8h.4M361.5 122.8h.4M355.4 160.9h.4M340.8 102.5h.4M364.6 119.2h.4M340.7 130.2h.4M355.3 160.2h.4M358.7 160.3h.4M365.2 93.5h.4M355.1 158.9h.4M350.4 169.4h.4M346.2 105.1h.4M360.5 148.4h.4M352.8 170.1h.4M345.2 147.7h.4M359.9 136.2h.4M347.5 160.7h.4M348.2 149.0h.4M346.7 169.7h.4M348.8 169.8h.4M341.8 101.2h.4M346.3 158.6h.4M349.4 150.6h.4M349.3 153.4h.4M361.8 155.2h.4M339.4 122.6h.4M340.5 161.6h.4M358.1 136.0h.4M351.5 154.7h.4M344.0 94.7h.4M360.6 108.6h.4M355.5 170.0h.4M362.8 119.2h.4M360.6 120.2h.4M345.8 137.2h.4M363.8 117.6h.4M364.1 157.4h.4M355.2 167.8h.4M350.3 151.5h.4M357.9 148.5h.4M354.7 166.4h.4M350.9 154.5h.4M347.6 118.3h.4M343.4 149.2h.4M330.9 140.5h.4M351.1 150.1h.4M349.5 154.3h.4M357.3 136.2h.4M363.6 167.0h.4M356.1 170.6h.4M351.5 154.1h.4M381.4 128.0h.4M362.2 165.1h.4M358.2 141.1h.4M362.6 99.5h.4M345.8 108.0h.4M362.1 143.7h.4M357.0 170.3h.4M344.2 106.0h.4M348.0 163.0h.4M347.6 142.4h.4M355.8 168.1h.4M355.7 158.9h.4M342.1 138.4h.4M355.8 159.4h.4M356.8 150.8h.4M358.6 124.0h.4M356.6 164.0h.4M350.1 145.2h.4M354.6 167.3h.4M343.2 113.4h.4M369.0 157.4h.4M358.9 160.0h.4M359.4 164.0h.4M355.2 169.6h.4M361.6 128.2h.4M356.0 155.5h.4M359.1 152.4h.4M350.9 154.4h.4M348.9 159.0h.4M356.0 162.9h.4M359.7 132.1h.4M347.3 152.8h.4M355.5 169.4h.4M365.3 94.8h.4M328.5 123.4h.4M373.3 113.3h.4M360.9 163.8h.4M362.5 119.8h.4M358.7 137.7h.4M348.4 128.5h.4M348.5 161.3h.4M379.5 111.9h.4M333.5 100.7h.4M358.6 131.8h.4M344.1 163.6h.4M346.5 117.5h.4M348.2 167.2h.4M357.6 148.6h.4M338.5 95.1h.4M347.1 142.6h.4M360.2 147.5h.4M370.1 154.5h.4M348.1 136.0h.4M344.5 144.9h.4M341.0 157.5h.4M350.8 160.9h.4M372.9 96.8h.4M358.9 137.9h.4M371.9 101.4h.4M346.9 143.8h.4M357.3 143.9h.4M373.1 143.6h.4M356.2 164.5h.4M366.9 150.8h.4M346.6 108.6h.4M365.0 101.5h.4M371.3 148.0h.4M349.4 158.9h.4M359.0 122.8h.4M360.8 124.5h.4M362.7 101.2h.4M347.5 114.9h.4M349.4 143.7h.4M330.5 97.7h.4M349.4 153.7h.4M348.0 125.5h.4M350.1 166.8h.4M360.2 132.9h.4M356.1 157.7h.4M346.8 163.0h.4M349.7 168.1h.4M364.2 129.2h.4M354.2 170.7h.4M370.8 95.9h.4M358.7 120.5h.4M349.5 152.4h.4M346.7 129.1h.4M344.4 167.7h.4M328.9 113.6h.4M340.1 146.9h.4M358.0 159.2h.4M360.1 130.1h.4M356.5 149.0h.4M357.6 154.3h.4M340.1 139.4h.4M339.4 93.0h.4M358.9 142.2h.4M349.2 166.3h.4M349.1 129.9h.4M356.3 157.2h.4M342.1 95.9h.4M362.8 111.8h.4M359.7 155.5h.4M347.3 150.4h.4M364.6 93.0h.4M325.5 123.8h.4M342.2 95.7h.4M349.7 144.2h.4M371.0 130.5h.4M370.0 115.3h.4M355.3 163.5h.4M359.2 118.6h.4M366.2 151.3h.4M360.1 124.4h.4M350.6 171.1h.4M361.1 169.1h.4M350.5 154.1h.4M356.0 157.4h.4M358.7 125.4h.4M350.3 163.0h.4M357.4 166.8h.4M345.9 144.8h.4M365.8 106.9h.4M364.0 97.3h.4M349.4 159.4h.4M351.0 162.5h.4M356.5 162.3h.4M351.9 165.0h.4M356.3 163.3h.4M362.1 96.2h.4M366.4 96.5h.4M361.7 137.5h.4M337.6 95.9h.4M317.1 110.7h.4M360.4 138.9h.4M359.3 141.6h.4M356.9 152.5h.4M356.4 153.7h.4M349.0 154.4h.4M362.2 131.5h.4M346.6 135.7h.4M343.1 96.4h.4M346.2 150.9h.4M344.2 104.0h.4M337.6 111.7h.4M352.1 169.5h.4M353.1 170.5h.4M361.2 162.6h.4M335.6 108.1h.4M359.6 147.0h.4M358.9 141.4h.4M348.5 138.9h.4M365.6 125.6h.4M356.3 147.4h.4M347.7 151.9h.4M343.7 164.9h.4M365.3 146.4h.4M344.6 132.6h.4M358.8 158.1h.4M363.1 126.1h.4M356.8 157.6h.4M364.6 124.2h.4M345.3 127.5h.4M342.0 133.8h.4M350.4 169.0h.4M350.8 160.3h.4M348.8 157.5h.4M352.7 170.1h.4M338.3 125.2h.4M362.5 104.3h.4M348.9 160.5h.4M363.8 107.2h.4M345.3 117.4h.4M348.9 148.5h.4M341.6 120.7h.4M369.4 102.6h.4M348.8 153.2h.4M344.1 138.8h.4M350.4 164.6h.4M359.5 138.3h.4M364.3 131.4h.4M344.7 170.3h.4M344.6 104.5h.4M361.8 125.6h.4M349.9 150.8h.4M348.4 163.7h.4M357.6 169.7h.4M361.6 113.3h.4M348.7 151.9h.4M341.9 124.1h.4M348.2 158.3h.4M349.2 139.2h.4M348.7 144.6h.4M364.6 96.1h.4M359.0 156.5h.4M351.8 164.6h.4M352.8 171.1h.4M356.2 153.8h.4M369.8 155.2h.4M344.9 112.5h.4M349.6 152.4h.4M332.0 123.7h.4M344.8 163.5h.4M357.4 146.4h.4M356.3 164.3h.4M355.8 168.4h.4M330.0 140.6h.4M350.0 145.0h.4M355.3 163.7h.4M331.7 119.9h.4M347.7 141.3h.4M358.9 132.1h.4M324.5 96.5h.4M360.3 138.4h.4M358.1 156.2h.4M362.2 140.2h.4M358.4 149.3h.4M357.2 162.1h.4M342.4 115.6h.4M349.9 143.0h.4M362.8 118.2h.4M351.4 164.7h.4M356.8 144.9h.4M365.9 100.0h.4M369.9 164.0h.4M350.7 162.3h.4M368.7 147.7h.4M350.4 149.9h.4M345.6 114.6h.4M356.1 158.9h.4M334.4 106.1h.4M360.8 102.4h.4M361.6 98.9h.4M357.9 128.7h.4M356.3 161.9h.4M373.4 120.9h.4M358.0 138.4h.4M345.3 103.2h.4M346.5 135.3h.4M336.1 93.0h.4M348.1 154.2h.4M344.4 126.5h.4M351.1 166.2h.4M330.3 120.3h.4M355.7 159.4h.4M362.4 114.2h.4M356.2 163.0h.4M350.0 168.3h.4M359.4 165.4h.4M340.4 151.4h.4M360.6 110.6h.4M347.2 123.7h.4M390.4 98.8h.4M351.2 151.7h.4M359.6 164.6h.4M363.7 100.3h.4M364.4 129.6h.4M343.9 145.7h.4M340.3 99.0h.4" stroke="#b3abab" stroke-width="0.95" stroke-linecap="round" fill="none"/>
<path d="M342.3 28.8h.01M340.5 34.2h.01M341.7 36.7h.01M341.1 46.6h.01M334.2 50.1h.01M344.8 49.7h.01M338.2 53.6h.01M331.9 57.3h.01M325.3 59.1h.01M339.7 61.5h.01M345.1 66.1h.01M344.1 67.6h.01M313.8 68.1h.01M316.3 68.9h.01M319.0 69.1h.01M323.2 68.0h.01M327.8 71.4h.01M318.8 77.0h.01M321.3 79.5h.01M320.7 81.4h.01M320.7 83.7h.01M326.9 81.0h.01M330.7 77.6h.01M336.1 75.1h.01M338.8 74.5h.01M342.6 74.1h.01M345.1 74.9h.01M332.3 87.0h.01M332.3 88.7h.01M335.7 86.4h.01M338.2 88.7h.01M337.8 90.8h.01M392.3 26.9h.01M383.9 31.6h.01M399.1 40.9h.01M379.7 46.3h.01M366.7 49.1h.01M370.9 48.2h.01M367.9 52.0h.01M369.8 53.6h.01M371.9 56.1h.01M362.8 57.3h.01M367.5 59.5h.01M381.1 60.9h.01M370.0 61.7h.01M371.3 64.5h.01M366.9 65.1h.01M363.8 67.0h.01M371.9 67.6h.01M390.7 69.2h.01M361.3 71.4h.01M365.0 71.4h.01M374.4 82.0h.01M375.0 81.4h.01M384.1 81.2h.01M379.4 88.9h.01M375.7 90.4h.01M339.6 83.9h.01M337.7 77.3h.01M343.9 76.4h.01M337.8 80.9h.01M336.9 87.8h.01M338.9 77.3h.01M345.3 84.8h.01M340.8 77.7h.01M344.9 91.2h.01M336.6 88.2h.01M336.1 86.5h.01M339.7 79.3h.01M336.0 82.1h.01M345.3 90.7h.01M336.6 83.0h.01M342.2 86.6h.01M344.1 87.0h.01M345.8 77.0h.01M342.7 86.2h.01M343.0 85.0h.01M339.7 87.4h.01M338.0 77.6h.01M341.6 80.0h.01M343.5 78.5h.01M343.6 87.1h.01M342.8 77.7h.01M340.3 84.9h.01M344.1 85.1h.01M340.0 83.7h.01M340.7 83.1h.01M343.5 78.8h.01M344.6 88.2h.01M343.7 84.3h.01M338.1 81.7h.01M361.6 88.9h.01M364.7 89.1h.01M362.2 71.3h.01M366.2 82.6h.01M362.6 85.9h.01M372.4 74.0h.01M364.9 81.0h.01M372.1 79.7h.01M367.9 88.5h.01M361.3 79.4h.01M363.1 72.4h.01M363.1 88.1h.01M365.3 80.7h.01M369.7 87.6h.01M365.7 71.6h.01M372.3 80.6h.01M367.5 91.0h.01M367.3 86.7h.01M361.8 74.0h.01M366.5 91.5h.01M372.1 79.6h.01M365.7 89.6h.01M368.9 81.4h.01M372.5 78.4h.01M370.6 91.7h.01M368.5 82.3h.01M363.6 76.6h.01M372.1 84.3h.01M369.5 70.1h.01M362.8 84.7h.01M364.5 75.6h.01M372.4 90.1h.01M363.3 70.9h.01M362.9 72.2h.01M369.6 77.2h.01M366.0 74.6h.01M372.5 88.8h.01M368.8 82.2h.01M363.1 79.2h.01M367.9 82.2h.01M372.2 77.7h.01M370.0 73.3h.01M362.3 87.2h.01M367.6 89.7h.01M363.9 79.5h.01M367.5 81.8h.01M366.1 82.7h.01M366.4 84.3h.01" stroke="#8b1a1f" stroke-width="2.0" stroke-linecap="round" fill="none"/>
<line x1="271.2" y1="92.4" x2="436.2" y2="92.4" stroke="#858585" stroke-width="0.7" stroke-dasharray="1.8 2.0"/>
<line x1="347.25" y1="19.4" x2="347.25" y2="178.5" stroke="#858585" stroke-width="0.7" stroke-dasharray="1.8 2.0"/>
<line x1="359.75" y1="19.4" x2="359.75" y2="178.5" stroke="#858585" stroke-width="0.7" stroke-dasharray="1.8 2.0"/>
<rect x="271.2" y="19.4" width="165" height="159.1" fill="none" stroke="#231f20" stroke-width="0.9"/>
<line x1="268" y1="171.2" x2="271.2" y2="171.2" stroke="#231f20" stroke-width="0.8"/>
<text x="263" y="174.3" font-size="8.8" text-anchor="middle" textLength="4.3" lengthAdjust="spacingAndGlyphs">0</text>
<line x1="268" y1="122.6" x2="271.2" y2="122.6" stroke="#231f20" stroke-width="0.8"/>
<text x="263" y="125.7" font-size="8.8" text-anchor="middle" textLength="4.3" lengthAdjust="spacingAndGlyphs">2</text>
<line x1="268" y1="74" x2="271.2" y2="74" stroke="#231f20" stroke-width="0.8"/>
<text x="263" y="77.1" font-size="8.8" text-anchor="middle" textLength="4.3" lengthAdjust="spacingAndGlyphs">4</text>
<line x1="268" y1="25.4" x2="271.2" y2="25.4" stroke="#231f20" stroke-width="0.8"/>
<text x="263" y="28.5" font-size="8.8" text-anchor="middle" textLength="4.3" lengthAdjust="spacingAndGlyphs">6</text>
<line x1="278.5" y1="178.5" x2="278.5" y2="182.1" stroke="#231f20" stroke-width="0.8"/>
<text x="278.2" y="192" font-size="8.2" text-anchor="middle">−6</text>
<line x1="291" y1="178.5" x2="291" y2="182.1" stroke="#231f20" stroke-width="0.8"/>
<text x="290.7" y="192" font-size="8.2" text-anchor="middle">−5</text>
<line x1="303.5" y1="178.5" x2="303.5" y2="182.1" stroke="#231f20" stroke-width="0.8"/>
<text x="303.2" y="192" font-size="8.2" text-anchor="middle">−4</text>
<line x1="316" y1="178.5" x2="316" y2="182.1" stroke="#231f20" stroke-width="0.8"/>
<text x="315.7" y="192" font-size="8.2" text-anchor="middle">−3</text>
<line x1="328.5" y1="178.5" x2="328.5" y2="182.1" stroke="#231f20" stroke-width="0.8"/>
<text x="328.2" y="192" font-size="8.2" text-anchor="middle">−2</text>
<line x1="341" y1="178.5" x2="341" y2="182.1" stroke="#231f20" stroke-width="0.8"/>
<text x="340.7" y="192" font-size="8.2" text-anchor="middle">−1</text>
<line x1="353.5" y1="178.5" x2="353.5" y2="182.1" stroke="#231f20" stroke-width="0.8"/>
<text x="353.5" y="192" font-size="8.2" text-anchor="middle">0</text>
<line x1="366" y1="178.5" x2="366" y2="182.1" stroke="#231f20" stroke-width="0.8"/>
<text x="366" y="192" font-size="8.2" text-anchor="middle">1</text>
<line x1="378.5" y1="178.5" x2="378.5" y2="182.1" stroke="#231f20" stroke-width="0.8"/>
<text x="378.5" y="192" font-size="8.2" text-anchor="middle">2</text>
<line x1="391" y1="178.5" x2="391" y2="182.1" stroke="#231f20" stroke-width="0.8"/>
<text x="391" y="192" font-size="8.2" text-anchor="middle">3</text>
<line x1="403.5" y1="178.5" x2="403.5" y2="182.1" stroke="#231f20" stroke-width="0.8"/>
<text x="403.5" y="192" font-size="8.2" text-anchor="middle">4</text>
<line x1="416" y1="178.5" x2="416" y2="182.1" stroke="#231f20" stroke-width="0.8"/>
<text x="416" y="192" font-size="8.2" text-anchor="middle">5</text>
<line x1="428.5" y1="178.5" x2="428.5" y2="182.1" stroke="#231f20" stroke-width="0.8"/>
<text x="428.5" y="192" font-size="8.2" text-anchor="middle">6</text>
<text x="353.8" y="204.6" font-size="8.8" text-anchor="middle" textLength="73.1" lengthAdjust="spacingAndGlyphs">Fold change (log2)</text>
<text x="256.3" y="98.9" font-size="8.8" text-anchor="middle" textLength="82.5" lengthAdjust="spacingAndGlyphs" transform="rotate(-90 256.3 98.9)">Raw p-value (–log10)</text>
<text x="273.1" y="26.3" font-size="5.6" textLength="43.8" lengthAdjust="spacingAndGlyphs">Downregulated in</text>
<text x="273.1" y="33.1" font-size="5.6" textLength="32.3" lengthAdjust="spacingAndGlyphs">PD-L1 altered</text>
<text x="433.7" y="26.6" font-size="5.6" text-anchor="end" textLength="35.5" lengthAdjust="spacingAndGlyphs">Upregulated in</text>
<text x="433.7" y="33.5" font-size="5.6" text-anchor="end" textLength="32.4" lengthAdjust="spacingAndGlyphs">PD-L1 altered</text>
<text x="353.7" y="28.8" font-size="7" textLength="17.5" lengthAdjust="spacingAndGlyphs">PD-L1</text>
<line x1="373.4" y1="27" x2="390" y2="27" stroke="#7a7a7a" stroke-width="0.9"/>
<text x="236.9" y="231.7" font-size="11.6" textLength="6.6" lengthAdjust="spacingAndGlyphs">C</text>
<text x="384.2" y="256.5" font-size="5.7" text-anchor="end" textLength="75.1" lengthAdjust="spacingAndGlyphs">regulation of T cell activation</text>
<line x1="387.6" y1="254.5" x2="391.3" y2="254.5" stroke="#231f20" stroke-width="0.7"/>
<text x="384.2" y="263.55" font-size="5.7" text-anchor="end" textLength="48.6" lengthAdjust="spacingAndGlyphs">response to insulin</text>
<line x1="387.6" y1="261.55" x2="391.3" y2="261.55" stroke="#231f20" stroke-width="0.7"/>
<text x="384.2" y="270.6" font-size="5.7" text-anchor="end" textLength="100.2" lengthAdjust="spacingAndGlyphs">regulation of lymphocyte proliferation</text>
<line x1="387.6" y1="268.6" x2="391.3" y2="268.6" stroke="#231f20" stroke-width="0.7"/>
<text x="384.2" y="277.65" font-size="5.7" text-anchor="end" textLength="45.8" lengthAdjust="spacingAndGlyphs">T cell proliferation</text>
<line x1="387.6" y1="275.65" x2="391.3" y2="275.65" stroke="#231f20" stroke-width="0.7"/>
<text x="384.2" y="284.7" font-size="5.7" text-anchor="end" textLength="82" lengthAdjust="spacingAndGlyphs">regulation of T cell proliferation</text>
<line x1="387.6" y1="282.7" x2="391.3" y2="282.7" stroke="#231f20" stroke-width="0.7"/>
<text x="384.2" y="291.75" font-size="5.7" text-anchor="end" textLength="133.1" lengthAdjust="spacingAndGlyphs">negative regulation of leukocyte cell–cell adhesion</text>
<line x1="387.6" y1="289.75" x2="391.3" y2="289.75" stroke="#231f20" stroke-width="0.7"/>
<text x="384.2" y="298.8" font-size="5.7" text-anchor="end" textLength="99.3" lengthAdjust="spacingAndGlyphs">negative regulation of T cell activation</text>
<line x1="387.6" y1="296.8" x2="391.3" y2="296.8" stroke="#231f20" stroke-width="0.7"/>
<text x="384.2" y="305.85" font-size="5.7" text-anchor="end" textLength="123.9" lengthAdjust="spacingAndGlyphs">negative regulation of lymphocyte proliferation</text>
<line x1="387.6" y1="303.85" x2="391.3" y2="303.85" stroke="#231f20" stroke-width="0.7"/>
<text x="384.2" y="312.9" font-size="5.7" text-anchor="end" textLength="106.3" lengthAdjust="spacingAndGlyphs">negative regulation of T cell proliferation</text>
<line x1="387.6" y1="310.9" x2="391.3" y2="310.9" stroke="#231f20" stroke-width="0.7"/>
<text x="384.2" y="319.95" font-size="5.7" text-anchor="end" textLength="84.8" lengthAdjust="spacingAndGlyphs">regulation of muscle contraction</text>
<line x1="387.6" y1="317.95" x2="391.3" y2="317.95" stroke="#231f20" stroke-width="0.7"/>
<text x="384.2" y="327" font-size="5.7" text-anchor="end" textLength="75.6" lengthAdjust="spacingAndGlyphs">regulation of B cell activation</text>
<line x1="387.6" y1="325" x2="391.3" y2="325" stroke="#231f20" stroke-width="0.7"/>
<text x="384.2" y="334.05" font-size="5.7" text-anchor="end" textLength="79.2" lengthAdjust="spacingAndGlyphs">T cell differentiation in thymus</text>
<line x1="387.6" y1="332.05" x2="391.3" y2="332.05" stroke="#231f20" stroke-width="0.7"/>
<text x="384.2" y="341.1" font-size="5.7" text-anchor="end" textLength="77.3" lengthAdjust="spacingAndGlyphs">smooth muscle cell migration</text>
<line x1="387.6" y1="339.1" x2="391.3" y2="339.1" stroke="#231f20" stroke-width="0.7"/>
<text x="384.2" y="348.15" font-size="5.7" text-anchor="end" textLength="79.2" lengthAdjust="spacingAndGlyphs">lymphocyte apoptotic process</text>
<line x1="387.6" y1="346.15" x2="391.3" y2="346.15" stroke="#231f20" stroke-width="0.7"/>
<text x="384.2" y="355.2" font-size="5.7" text-anchor="end" textLength="112.2" lengthAdjust="spacingAndGlyphs">regulation of smooth muscle cell migration</text>
<line x1="387.6" y1="353.2" x2="391.3" y2="353.2" stroke="#231f20" stroke-width="0.7"/>
<text x="384.2" y="362.25" font-size="5.7" text-anchor="end" textLength="114.1" lengthAdjust="spacingAndGlyphs">regulation of lymphocyte apoptotic process</text>
<line x1="387.6" y1="360.25" x2="391.3" y2="360.25" stroke="#231f20" stroke-width="0.7"/>
<text x="384.2" y="369.3" font-size="5.7" text-anchor="end" textLength="134.5" lengthAdjust="spacingAndGlyphs">positive regulation of smooth muscle cell migration</text>
<line x1="387.6" y1="367.3" x2="391.3" y2="367.3" stroke="#231f20" stroke-width="0.7"/>
<text x="384.2" y="376.35" font-size="5.7" text-anchor="end" textLength="130.8" lengthAdjust="spacingAndGlyphs">positive regulation of leukocyte apoptotic process</text>
<line x1="387.6" y1="374.35" x2="391.3" y2="374.35" stroke="#231f20" stroke-width="0.7"/>
<text x="384.2" y="383.4" font-size="5.7" text-anchor="end" textLength="136.4" lengthAdjust="spacingAndGlyphs">positive regulation of lymphocyte apoptotic process</text>
<line x1="387.6" y1="381.4" x2="391.3" y2="381.4" stroke="#231f20" stroke-width="0.7"/>
<text x="384.2" y="390.45" font-size="5.7" text-anchor="end" textLength="65.3" lengthAdjust="spacingAndGlyphs">NADH metabolic process</text>
<line x1="387.6" y1="388.45" x2="391.3" y2="388.45" stroke="#231f20" stroke-width="0.7"/>
<circle cx="473.1" cy="254.5" r="2.9" fill="#e2336a"/>
<circle cx="439.8" cy="261.55" r="2.6" fill="#4b1c84"/>
<circle cx="439.8" cy="268.6" r="2.5" fill="#ad2e94"/>
<circle cx="428.7" cy="275.65" r="2.4" fill="#40197c"/>
<circle cx="428.7" cy="282.7" r="2.3" fill="#b4309a"/>
<circle cx="428.7" cy="289.75" r="2.3" fill="#e2314a"/>
<circle cx="428.7" cy="296.8" r="2.3" fill="#e2314a"/>
<circle cx="428.7" cy="303.85" r="2.3" fill="#e2314a"/>
<circle cx="428.7" cy="310.9" r="2.3" fill="#e4333c"/>
<circle cx="417.4" cy="317.95" r="1.95" fill="#4a1a82"/>
<circle cx="417.4" cy="325" r="1.95" fill="#4a1a82"/>
<circle cx="406.3" cy="332.05" r="1.55" fill="#4b1a80"/>
<circle cx="406.3" cy="339.1" r="1.55" fill="#4b1a80"/>
<circle cx="406.3" cy="346.15" r="1.55" fill="#521a84"/>
<circle cx="406.3" cy="353.2" r="1.55" fill="#8c2192"/>
<circle cx="406.3" cy="360.25" r="1.55" fill="#c02a84"/>
<circle cx="406.3" cy="367.3" r="1.55" fill="#d42a5a"/>
<circle cx="406.3" cy="374.35" r="1.55" fill="#e02c42"/>
<circle cx="406.3" cy="381.4" r="1.55" fill="#e6302e"/>
<circle cx="395" cy="388.45" r="0.75" fill="#7a2ca0"/>
<rect x="391.3" y="249.2" width="86.3" height="143.4" fill="none" stroke="#231f20" stroke-width="0.9"/>
<line x1="414.6" y1="392.6" x2="414.6" y2="395.6" stroke="#231f20" stroke-width="0.7"/>
<text x="414.6" y="404.2" font-size="6.2" text-anchor="middle" textLength="11" lengthAdjust="spacingAndGlyphs">0.04</text>
<line x1="441.5" y1="392.6" x2="441.5" y2="395.6" stroke="#231f20" stroke-width="0.7"/>
<text x="441.5" y="404.2" font-size="6.2" text-anchor="middle" textLength="11" lengthAdjust="spacingAndGlyphs">0.06</text>
<line x1="468.4" y1="392.6" x2="468.4" y2="395.6" stroke="#231f20" stroke-width="0.7"/>
<text x="468.4" y="404.2" font-size="6.2" text-anchor="middle" textLength="11" lengthAdjust="spacingAndGlyphs">0.08</text>
<text x="434.2" y="416" font-size="8.4" text-anchor="middle" textLength="37.1" lengthAdjust="spacingAndGlyphs">Gene ratio</text>
<text x="434.3" y="245.2" font-size="8.4" text-anchor="middle" textLength="53.3" lengthAdjust="spacingAndGlyphs">Gene Ontology</text>
<defs><linearGradient id="cb" x1="0" y1="0" x2="0" y2="1"><stop offset="0" stop-color="#4b2b86"/><stop offset="0.5" stop-color="#b42c92"/><stop offset="1" stop-color="#e8312f"/></linearGradient></defs>
<text x="481.7" y="270.4" font-size="5" textLength="27.6" lengthAdjust="spacingAndGlyphs">FDR-adjusted</text>
<text x="481.7" y="276.4" font-size="5" textLength="15.2" lengthAdjust="spacingAndGlyphs">p-value</text>
<rect x="484.3" y="279.7" width="7.2" height="40.5" fill="url(#cb)"/>
<line x1="484.3" y1="289" x2="486" y2="289" stroke="#ffffff" stroke-width="0.6"/>
<line x1="489.8" y1="289" x2="491.5" y2="289" stroke="#ffffff" stroke-width="0.6"/>
<text x="493" y="290.7" font-size="4.9" textLength="11.8" lengthAdjust="spacingAndGlyphs">0.075</text>
<line x1="484.3" y1="299.2" x2="486" y2="299.2" stroke="#ffffff" stroke-width="0.6"/>
<line x1="489.8" y1="299.2" x2="491.5" y2="299.2" stroke="#ffffff" stroke-width="0.6"/>
<text x="493" y="300.9" font-size="4.9" textLength="11.8" lengthAdjust="spacingAndGlyphs">0.050</text>
<line x1="484.3" y1="310" x2="486" y2="310" stroke="#ffffff" stroke-width="0.6"/>
<line x1="489.8" y1="310" x2="491.5" y2="310" stroke="#ffffff" stroke-width="0.6"/>
<text x="493" y="311.7" font-size="4.9" textLength="11.8" lengthAdjust="spacingAndGlyphs">0.025</text>
<text x="481.5" y="335.2" font-size="5" textLength="25.5" lengthAdjust="spacingAndGlyphs">Gene count</text>
<circle cx="488" cy="340.4" r="1.7" fill="#111"/>
<text x="492.2" y="342.2" font-size="5">4</text>
<circle cx="488" cy="348.4" r="2.2" fill="#111"/>
<text x="492.2" y="350.2" font-size="5">6</text>
<circle cx="488" cy="356.6" r="2.6" fill="#111"/>
<text x="492.2" y="358.4" font-size="5">8</text>
<circle cx="488" cy="364.8" r="3.0" fill="#111"/>
<text x="492.2" y="366.6" font-size="5">10</text>
<text x="7.6" y="441.8" font-size="11.6" textLength="6.9" lengthAdjust="spacingAndGlyphs">D</text>
<text x="135.3" y="445.6" font-size="7.4" text-anchor="middle" textLength="89.3" lengthAdjust="spacingAndGlyphs">Ingenuity Pathway Analysis</text>
<rect x="52.6" y="458" width="39.37" height="19.6" fill="#3e4e72"/>
<line x1="47.6" y1="467.8" x2="52.6" y2="467.8" stroke="#231f20" stroke-width="0.8"/>
<text x="46.7" y="470.3" font-size="7.2" text-anchor="end">PTEN</text>
<rect x="52.6" y="485.7" width="93.6" height="19.6" fill="#8b353b"/>
<line x1="47.6" y1="495.5" x2="52.6" y2="495.5" stroke="#231f20" stroke-width="0.8"/>
<text x="46.7" y="498" font-size="7.2" text-anchor="end">IFN-γ</text>
<rect x="52.6" y="513.3" width="141.38" height="19.6" fill="#8b353b"/>
<line x1="47.6" y1="523.1" x2="52.6" y2="523.1" stroke="#231f20" stroke-width="0.8"/>
<text x="46.7" y="525.6" font-size="7.2" text-anchor="end">TNF</text>
<rect x="52.6" y="541" width="154.5" height="19.6" fill="#8b353b"/>
<line x1="47.6" y1="550.8" x2="52.6" y2="550.8" stroke="#231f20" stroke-width="0.8"/>
<text x="46.7" y="553.3" font-size="7.2" text-anchor="end">NF-κB</text>
<line x1="52.6" y1="453.8" x2="52.6" y2="564.2" stroke="#231f20" stroke-width="1"/>
<line x1="52.1" y1="563.8" x2="218.8" y2="563.8" stroke="#231f20" stroke-width="1"/>
<line x1="52.6" y1="563.8" x2="52.6" y2="567.2" stroke="#231f20" stroke-width="0.8"/>
<text x="52.6" y="577" font-size="7" text-anchor="middle" textLength="9.4" lengthAdjust="spacingAndGlyphs">0.0</text>
<line x1="90.1" y1="563.8" x2="90.1" y2="567.2" stroke="#231f20" stroke-width="0.8"/>
<text x="90.1" y="577" font-size="7" text-anchor="middle" textLength="9.4" lengthAdjust="spacingAndGlyphs">0.5</text>
<line x1="127.6" y1="563.8" x2="127.6" y2="567.2" stroke="#231f20" stroke-width="0.8"/>
<text x="127.6" y="577" font-size="7" text-anchor="middle" textLength="9.4" lengthAdjust="spacingAndGlyphs">1.0</text>
<line x1="165.1" y1="563.8" x2="165.1" y2="567.2" stroke="#231f20" stroke-width="0.8"/>
<text x="165.1" y="577" font-size="7" text-anchor="middle" textLength="9.4" lengthAdjust="spacingAndGlyphs">1.5</text>
<line x1="202.6" y1="563.8" x2="202.6" y2="567.2" stroke="#231f20" stroke-width="0.8"/>
<text x="202.6" y="577" font-size="7" text-anchor="middle" textLength="9.4" lengthAdjust="spacingAndGlyphs">2.0</text>
<line x1="150.6" y1="454.5" x2="150.6" y2="563.8" stroke="#1e1e1e" stroke-width="1" stroke-dasharray="1.3 1.0"/>
<rect x="153.6" y="458.8" width="5.7" height="7.2" fill="#3e4e72"/>
<rect x="153.6" y="468.4" width="5.7" height="7.2" fill="#8b353b"/>
<text x="162.8" y="465" font-size="7" textLength="50.7" lengthAdjust="spacingAndGlyphs">Negative z-score</text>
<text x="162.8" y="474.8" font-size="7" textLength="47" lengthAdjust="spacingAndGlyphs">Positive z-score</text>
<text x="135" y="589.6" font-size="8.6" text-anchor="middle" textLength="51" lengthAdjust="spacingAndGlyphs">-log(p-value)</text>
<text x="18.8" y="509.3" font-size="8.6" text-anchor="middle" textLength="76.4" lengthAdjust="spacingAndGlyphs" transform="rotate(-90 18.8 509.3)">Upstream regulator</text>
<text x="237.5" y="441.7" font-size="11.6" textLength="5.6" lengthAdjust="spacingAndGlyphs">E</text>
<text x="392.2" y="441.2" font-size="7.6" text-anchor="middle" textLength="158.3" lengthAdjust="spacingAndGlyphs">HALLMARK_TNF_SIGNALING_VIA_NFKB</text>
<defs><linearGradient id="rk" x1="0" y1="0" x2="1" y2="0"><stop offset="0" stop-color="#b85a4c"/><stop offset="0.27" stop-color="#c07870"/><stop offset="0.29" stop-color="#e0b3cf"/><stop offset="0.58" stop-color="#d9b2d0"/><stop offset="0.6" stop-color="#c6bfe2"/><stop offset="0.78" stop-color="#b5a8d8"/><stop offset="0.82" stop-color="#7a62ad"/><stop offset="1" stop-color="#5b3a90"/></linearGradient></defs>
<rect x="280.2" y="563.5" width="193.8" height="7.5" fill="url(#rk)"/>
<rect x="280.2" y="534.5" width="3.8" height="29" fill="#1a1a1a"/>
<rect x="280.2" y="563.5" width="3.8" height="7.5" fill="#1a1a1a" opacity="0.35"/>
<rect x="284" y="534.5" width="1" height="29" fill="#444"/>
<rect x="284" y="563.5" width="1" height="7.5" fill="#444" opacity="0.35"/>
<rect x="285" y="534.5" width="2.5" height="29" fill="#333"/>
<rect x="285" y="563.5" width="2.5" height="7.5" fill="#333" opacity="0.35"/>
<rect x="287.5" y="534.5" width="2.5" height="29" fill="#111"/>
<rect x="287.5" y="563.5" width="2.5" height="7.5" fill="#111" opacity="0.35"/>
<rect x="290" y="534.5" width="4" height="29" fill="#9a9a9a"/>
<rect x="290" y="563.5" width="4" height="7.5" fill="#9a9a9a" opacity="0.35"/>
<rect x="294" y="534.5" width="1.3" height="29" fill="#111"/>
<rect x="294" y="563.5" width="1.3" height="7.5" fill="#111" opacity="0.35"/>
<rect x="295.3" y="534.5" width="2.2" height="29" fill="#8a8a8a"/>
<rect x="295.3" y="563.5" width="2.2" height="7.5" fill="#8a8a8a" opacity="0.35"/>
<rect x="297.5" y="534.5" width="1" height="29" fill="#555"/>
<rect x="297.5" y="563.5" width="1" height="7.5" fill="#555" opacity="0.35"/>
<rect x="298.5" y="534.5" width="3.5" height="29" fill="#a8a8a8"/>
<rect x="298.5" y="563.5" width="3.5" height="7.5" fill="#a8a8a8" opacity="0.35"/>
<rect x="302" y="534.5" width="1" height="29" fill="#111"/>
<rect x="302" y="563.5" width="1" height="7.5" fill="#111" opacity="0.35"/>
<rect x="303" y="534.5" width="3.6" height="29" fill="#999"/>
<rect x="303" y="563.5" width="3.6" height="7.5" fill="#999" opacity="0.35"/>
<rect x="308.4" y="534.5" width="2.4" height="29" fill="#555"/>
<rect x="308.4" y="563.5" width="2.4" height="7.5" fill="#555" opacity="0.35"/>
<rect x="310.8" y="534.5" width="1.8" height="29" fill="#999"/>
<rect x="310.8" y="563.5" width="1.8" height="7.5" fill="#999" opacity="0.35"/>
<rect x="312.6" y="534.5" width="1.8" height="29" fill="#111"/>
<rect x="312.6" y="563.5" width="1.8" height="7.5" fill="#111" opacity="0.35"/>
<rect x="314.4" y="534.5" width="1.1" height="29" fill="#ddd"/>
<rect x="314.4" y="563.5" width="1.1" height="7.5" fill="#ddd" opacity="0.35"/>
<rect x="315.8" y="534.5" width="1.2" height="29" fill="#aaa"/>
<rect x="315.8" y="563.5" width="1.2" height="7.5" fill="#aaa" opacity="0.35"/>
<rect x="317.3" y="534.5" width="1.7" height="29" fill="#888"/>
<rect x="317.3" y="563.5" width="1.7" height="7.5" fill="#888" opacity="0.35"/>
<rect x="320.3" y="534.5" width="2.4" height="29" fill="#222"/>
<rect x="320.3" y="563.5" width="2.4" height="7.5" fill="#222" opacity="0.35"/>
<rect x="322.7" y="534.5" width="4.2" height="29" fill="#999"/>
<rect x="322.7" y="563.5" width="4.2" height="7.5" fill="#999" opacity="0.35"/>
<rect x="326.9" y="534.5" width="2.4" height="29" fill="#333"/>
<rect x="326.9" y="563.5" width="2.4" height="7.5" fill="#333" opacity="0.35"/>
<rect x="329.3" y="534.5" width="1.7" height="29" fill="#aaa"/>
<rect x="329.3" y="563.5" width="1.7" height="7.5" fill="#aaa" opacity="0.35"/>
<rect x="332.3" y="534.5" width="1.3" height="29" fill="#555"/>
<rect x="332.3" y="563.5" width="1.3" height="7.5" fill="#555" opacity="0.35"/>
<rect x="334.2" y="534.5" width="1.6" height="29" fill="#333"/>
<rect x="334.2" y="563.5" width="1.6" height="7.5" fill="#333" opacity="0.35"/>
<rect x="393.1" y="534.5" width="1.5" height="29" fill="#888"/>
<rect x="393.1" y="563.5" width="1.5" height="7.5" fill="#888" opacity="0.35"/>
<rect x="394.6" y="534.5" width="1.2" height="29" fill="#555"/>
<rect x="394.6" y="563.5" width="1.2" height="7.5" fill="#555" opacity="0.35"/>
<rect x="395.8" y="534.5" width="1.1" height="29" fill="#999"/>
<rect x="395.8" y="563.5" width="1.1" height="7.5" fill="#999" opacity="0.35"/>
<rect x="398.7" y="534.5" width="1.2" height="29" fill="#888"/>
<rect x="398.7" y="563.5" width="1.2" height="7.5" fill="#888" opacity="0.35"/>
<rect x="400.9" y="534.5" width="0.8" height="29" fill="#333"/>
<rect x="400.9" y="563.5" width="0.8" height="7.5" fill="#333" opacity="0.35"/>
<rect x="403.5" y="534.5" width="1.2" height="29" fill="#888"/>
<rect x="403.5" y="563.5" width="1.2" height="7.5" fill="#888" opacity="0.35"/>
<rect x="406.2" y="534.5" width="1.7" height="29" fill="#444"/>
<rect x="406.2" y="563.5" width="1.7" height="7.5" fill="#444" opacity="0.35"/>
<rect x="414.2" y="534.5" width="1.2" height="29" fill="#333"/>
<rect x="414.2" y="563.5" width="1.2" height="7.5" fill="#333" opacity="0.35"/>
<rect x="417.8" y="534.5" width="1.8" height="29" fill="#999"/>
<rect x="417.8" y="563.5" width="1.8" height="7.5" fill="#999" opacity="0.35"/>
<rect x="420.2" y="534.5" width="2" height="29" fill="#888"/>
<rect x="420.2" y="563.5" width="2" height="7.5" fill="#888" opacity="0.35"/>
<rect x="425.3" y="534.5" width="0.8" height="29" fill="#777"/>
<rect x="425.3" y="563.5" width="0.8" height="7.5" fill="#777" opacity="0.35"/>
<rect x="426.7" y="534.5" width="1" height="29" fill="#888"/>
<rect x="426.7" y="563.5" width="1" height="7.5" fill="#888" opacity="0.35"/>
<rect x="432.7" y="534.5" width="1.8" height="29" fill="#999"/>
<rect x="432.7" y="563.5" width="1.8" height="7.5" fill="#999" opacity="0.35"/>
<rect x="436" y="534.5" width="1.2" height="29" fill="#333"/>
<rect x="436" y="563.5" width="1.2" height="7.5" fill="#333" opacity="0.35"/>
<rect x="439.2" y="534.5" width="1.6" height="29" fill="#999"/>
<rect x="439.2" y="563.5" width="1.6" height="7.5" fill="#999" opacity="0.35"/>
<rect x="443" y="534.5" width="1" height="29" fill="#777"/>
<rect x="443" y="563.5" width="1" height="7.5" fill="#777" opacity="0.35"/>
<rect x="448.2" y="534.5" width="0.8" height="29" fill="#444"/>
<rect x="448.2" y="563.5" width="0.8" height="7.5" fill="#444" opacity="0.35"/>
<rect x="457.2" y="534.5" width="4.2" height="29" fill="#b0b0b0"/>
<rect x="457.2" y="563.5" width="4.2" height="7.5" fill="#b0b0b0" opacity="0.35"/>
<rect x="465.1" y="534.5" width="2.2" height="29" fill="#333"/>
<rect x="465.1" y="563.5" width="2.2" height="7.5" fill="#333" opacity="0.35"/>
<rect x="469.9" y="534.5" width="1.6" height="29" fill="#888"/>
<rect x="469.9" y="563.5" width="1.6" height="7.5" fill="#888" opacity="0.35"/>
<rect x="472.5" y="534.5" width="1.1" height="29" fill="#666"/>
<rect x="472.5" y="563.5" width="1.1" height="7.5" fill="#666" opacity="0.35"/>
<path d="M280.2 528.9 L280.8 510.0 L281.3 493.8 L282.2 482.0 L283.2 475.0 L284.0 469.5 L284.8 467.0 L286.2 466.2 L287.5 464.8 L288.5 459.0 L289.4 456.2 L290.8 454.0 L293.5 453.6 L296.2 452.9 L300.0 452.5 L303.0 451.5 L306.9 451.8 L310.0 451.2 L313.0 452.0 L315.0 451.4 L318.0 452.6 L320.4 454.0 L324.4 454.3 L328.0 455.8 L333.8 458.8 L347.0 466.8 L360.8 475.0 L374.0 483.6 L387.7 492.5 L397.0 498.6 L406.5 504.6 L413.0 507.8 L420.0 511.4 L428.0 515.0 L436.3 517.3 L446.0 522.5 L452.0 526.0 L457.0 528.0 L461.0 528.6 L463.5 530.2 L465.0 530.0 L467.0 528.4 L469.0 529.2 L471.0 528.2 L474.0 528.4" stroke="#5a9a3a" stroke-width="1.25" fill="none" stroke-linejoin="round"/>
<line x1="280.2" y1="528.4" x2="484" y2="528.4" stroke="#8a8a8a" stroke-width="0.8"/>
<line x1="280.2" y1="534.5" x2="484" y2="534.5" stroke="#555" stroke-width="0.8"/>
<rect x="280.2" y="447.5" width="203.8" height="123.5" fill="none" stroke="#231f20" stroke-width="1.0"/>
<line x1="276.5" y1="528.5" x2="280.2" y2="528.5" stroke="#231f20" stroke-width="0.8"/>
<text x="274.4" y="531.1" font-size="8.6" text-anchor="end" textLength="10.2" lengthAdjust="spacingAndGlyphs">0.0</text>
<line x1="276.5" y1="516.47" x2="280.2" y2="516.47" stroke="#231f20" stroke-width="0.8"/>
<text x="274.4" y="519.07" font-size="8.6" text-anchor="end" textLength="10.2" lengthAdjust="spacingAndGlyphs">0.1</text>
<line x1="276.5" y1="504.44" x2="280.2" y2="504.44" stroke="#231f20" stroke-width="0.8"/>
<text x="274.4" y="507.04" font-size="8.6" text-anchor="end" textLength="10.2" lengthAdjust="spacingAndGlyphs">0.2</text>
<line x1="276.5" y1="492.41" x2="280.2" y2="492.41" stroke="#231f20" stroke-width="0.8"/>
<text x="274.4" y="495.01" font-size="8.6" text-anchor="end" textLength="10.2" lengthAdjust="spacingAndGlyphs">0.3</text>
<line x1="276.5" y1="480.38" x2="280.2" y2="480.38" stroke="#231f20" stroke-width="0.8"/>
<text x="274.4" y="482.98" font-size="8.6" text-anchor="end" textLength="10.2" lengthAdjust="spacingAndGlyphs">0.4</text>
<line x1="276.5" y1="468.35" x2="280.2" y2="468.35" stroke="#231f20" stroke-width="0.8"/>
<text x="274.4" y="470.95" font-size="8.6" text-anchor="end" textLength="10.2" lengthAdjust="spacingAndGlyphs">0.5</text>
<line x1="276.5" y1="456.32" x2="280.2" y2="456.32" stroke="#231f20" stroke-width="0.8"/>
<text x="274.4" y="458.92" font-size="8.6" text-anchor="end" textLength="10.2" lengthAdjust="spacingAndGlyphs">0.6</text>
<text x="257.9" y="492.2" font-size="8.4" text-anchor="middle" textLength="84.6" lengthAdjust="spacingAndGlyphs" transform="rotate(-90 257.9 492.2)">Enrichment score (ES)</text>
<text x="398.6" y="467.8" font-size="6.9" textLength="33" lengthAdjust="spacingAndGlyphs">NES = 1.64</text>
<text x="398.6" y="477" font-size="6.9" textLength="46.5" lengthAdjust="spacingAndGlyphs">p-value = 0.014</text>
<text x="398.6" y="486" font-size="6.9" textLength="36" lengthAdjust="spacingAndGlyphs">FDR = 0.028</text>
<text x="281.6" y="580.6" font-size="7.6" textLength="23.4" lengthAdjust="spacingAndGlyphs" fill="#a4473f">Altered</text>
<text x="426.6" y="580.6" font-size="7.6" textLength="36.4" lengthAdjust="spacingAndGlyphs" fill="#3d2f7c">Not altered</text>
<line x1="0" y1="0.5" x2="520" y2="0.5" stroke="#111" stroke-width="1.2"/>
<line x1="0" y1="598.5" x2="520" y2="598.5" stroke="#111" stroke-width="1.2"/>
<line x1="0.5" y1="0" x2="0.5" y2="599" stroke="#4a4a4a" stroke-width="1.2"/>
<line x1="519.5" y1="0" x2="519.5" y2="599" stroke="#4a4a4a" stroke-width="1.2"/>
</svg>
</body></html>
